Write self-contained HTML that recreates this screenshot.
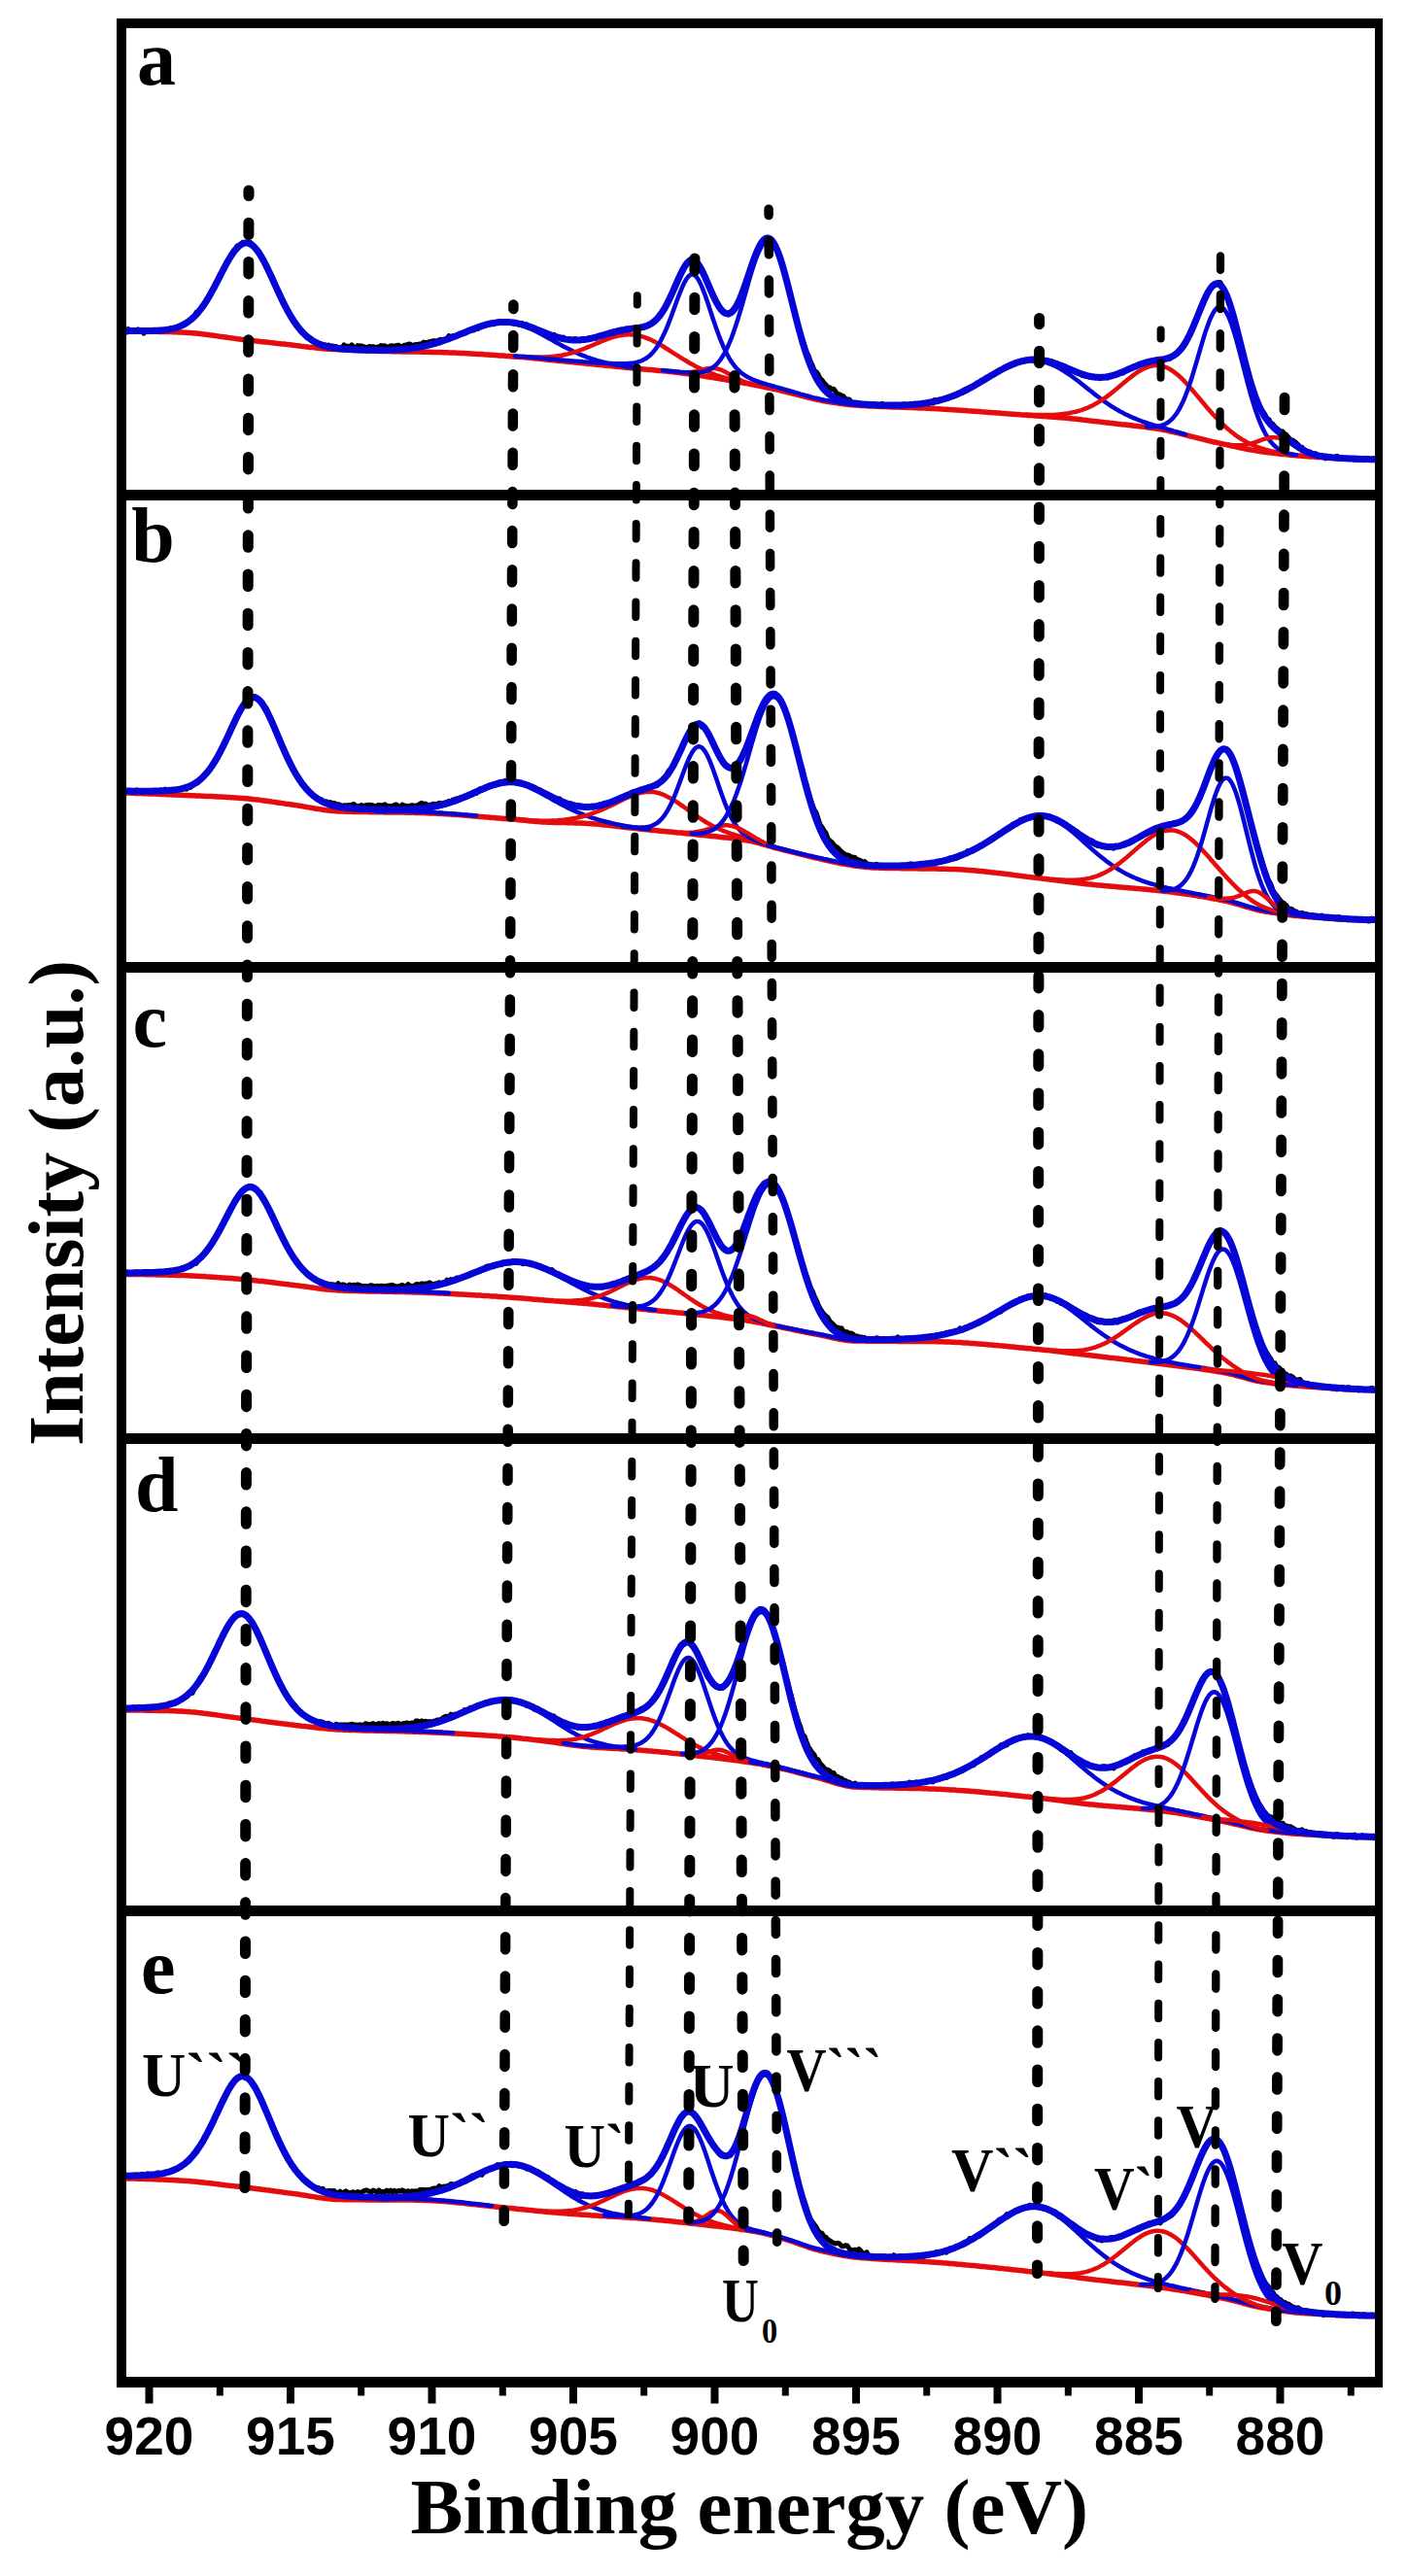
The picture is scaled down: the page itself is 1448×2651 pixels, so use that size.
<!DOCTYPE html><html><head><meta charset="utf-8"><style>html,body{margin:0;padding:0;background:#fff;overflow:hidden}svg{display:block}</style></head><body><svg width="1448" height="2651" viewBox="0 0 1448 2651">
<rect width="100%" height="100%" fill="#fff"/>
<defs><clipPath id="pc"><rect x="125" y="24" width="1294" height="2428"/></clipPath></defs>
<g clip-path="url(#pc)">
<polyline points="130.0,342.2 132.0,338.5 134.0,340.9 136.0,340.1 138.0,340.2 140.0,340.4 142.0,338.9 144.0,340.3 146.0,339.8 148.0,343.2 150.0,340.7 152.0,340.2 154.0,340.2 156.0,339.8 158.0,339.5 160.0,339.9 162.0,340.5 164.0,339.8 166.0,340.7 168.0,339.5 170.0,339.5 172.0,340.5 174.0,339.3 176.0,338.1 178.0,337.9 180.0,338.0 182.0,338.5 184.0,336.0 186.0,335.2 188.0,335.3 190.0,332.7 192.0,332.0 194.0,331.5 196.0,329.8 198.0,327.7 200.0,326.3 202.0,321.4 204.0,322.2 206.0,318.2 208.0,314.9 210.0,313.6 212.0,310.9 214.0,306.8 216.0,302.8 218.0,300.2 220.0,296.4 222.0,293.8 224.0,289.4 226.0,285.1 228.0,281.9 230.0,277.0 232.0,272.6 234.0,270.2 236.0,266.7 238.0,262.9 240.0,259.4 242.0,257.6 244.0,253.1 246.0,253.7 248.0,252.1 250.0,249.3 252.0,250.1 254.0,249.2 256.0,251.0 258.0,249.7 260.0,251.9 262.0,255.1 264.0,257.7 266.0,257.8 268.0,262.2 270.0,266.2 272.0,269.2 274.0,274.8 276.0,276.7 278.0,282.2 280.0,285.4 282.0,291.8 284.0,295.1 286.0,299.2 288.0,302.4 290.0,309.3 292.0,312.7 294.0,316.6 296.0,320.7 298.0,323.6 300.0,326.2 302.0,329.2 304.0,332.2 306.0,336.7 308.0,337.0 310.0,340.0 312.0,342.4 314.0,344.8 316.0,346.8 318.0,347.0 320.0,348.1 322.0,350.6 324.0,352.6 326.0,353.1 328.0,353.4 330.0,353.6 332.0,354.7 334.0,354.7 336.0,355.9 338.0,355.0 340.0,356.0 342.0,356.0 344.0,356.6 346.0,356.5 348.0,358.5 350.0,357.7 352.0,357.8 354.0,355.0 356.0,356.4 358.0,356.2 360.0,357.1 362.0,354.8 364.0,357.6 366.0,357.5 368.0,355.6 370.0,355.9 372.0,356.0 374.0,356.6 376.0,357.1 378.0,358.2 380.0,356.4 382.0,357.1 384.0,356.6 386.0,357.9 388.0,357.1 390.0,357.5 392.0,355.5 394.0,356.2 396.0,355.7 398.0,357.5 400.0,356.8 402.0,355.9 404.0,355.8 406.0,356.4 408.0,355.4 410.0,355.1 412.0,356.2 414.0,357.6 416.0,355.3 418.0,354.9 420.0,354.3 422.0,354.0 424.0,355.3 426.0,355.3 428.0,354.4 430.0,354.4 432.0,354.0 434.0,353.7 436.0,352.1 438.0,352.6 440.0,352.7 442.0,351.6 444.0,351.4 446.0,350.7 448.0,350.7 450.0,351.2 452.0,349.6 454.0,349.3 456.0,349.6 458.0,348.9 460.0,349.1 462.0,345.5 464.0,347.3 466.0,345.6 468.0,345.4 470.0,345.3 472.0,344.9 474.0,344.2 476.0,342.8 478.0,343.3 480.0,341.1 482.0,340.4 484.0,340.4 486.0,338.5 488.0,339.9 490.0,338.3 492.0,338.5 494.0,336.0 496.0,335.1 498.0,334.9 500.0,334.8 502.0,333.2 504.0,333.5 506.0,332.8 508.0,333.7 510.0,331.5 512.0,332.6 514.0,331.1 516.0,330.7 518.0,330.8 520.0,330.4 522.0,331.6 524.0,332.4 526.0,331.9 528.0,332.5 530.0,333.6 532.0,332.9 534.0,333.2 536.0,333.3 538.0,332.8 540.0,335.2 542.0,333.8 544.0,336.4 546.0,336.6 548.0,338.2 550.0,338.0 552.0,338.2 554.0,340.0 556.0,340.1 558.0,341.2 560.0,342.2 562.0,342.8 564.0,343.6 566.0,343.8 568.0,345.1 570.0,344.2 572.0,346.4 574.0,346.2 576.0,348.6 578.0,349.2 580.0,347.1 582.0,349.2 584.0,349.3 586.0,348.8 588.0,350.3 590.0,349.6 592.0,348.6 594.0,349.8 596.0,349.8 598.0,349.9 600.0,348.6 602.0,349.9 604.0,349.6 606.0,347.8 608.0,347.7 610.0,347.8 612.0,346.9 614.0,348.2 616.0,346.4 618.0,344.8 620.0,344.4 622.0,344.4 624.0,345.7 626.0,343.1 628.0,342.8 630.0,342.6 632.0,341.6 634.0,342.9 636.0,340.2 638.0,340.8 640.0,339.9 642.0,339.9 644.0,338.2 646.0,340.3 648.0,338.5 650.0,338.4 652.0,337.3 654.0,337.3 656.0,338.0 658.0,338.1 660.0,337.5 662.0,337.4 664.0,336.5 666.0,335.2 668.0,334.9 670.0,333.6 672.0,331.7 674.0,330.8 676.0,329.3 678.0,326.2 680.0,323.1 682.0,321.1 684.0,318.7 686.0,313.4 688.0,309.6 690.0,305.4 692.0,302.1 694.0,295.2 696.0,292.3 698.0,288.4 700.0,282.5 702.0,280.2 704.0,275.7 706.0,271.8 708.0,270.0 710.0,267.0 712.0,267.1 714.0,269.3 716.0,268.4 718.0,272.7 720.0,274.0 722.0,278.4 724.0,281.7 726.0,284.3 728.0,290.2 730.0,295.5 732.0,299.0 734.0,303.3 736.0,308.8 738.0,311.8 740.0,314.3 742.0,317.9 744.0,321.3 746.0,321.7 748.0,323.6 750.0,324.0 752.0,321.9 754.0,319.4 756.0,316.8 758.0,314.6 760.0,311.4 762.0,306.4 764.0,301.5 766.0,295.3 768.0,290.1 770.0,283.5 772.0,277.7 774.0,271.0 776.0,265.2 778.0,260.8 780.0,255.7 782.0,251.7 784.0,249.8 786.0,246.8 788.0,247.7 790.0,245.7 792.0,245.0 794.0,247.7 796.0,250.0 798.0,252.8 800.0,258.7 802.0,262.5 804.0,266.7 806.0,276.4 808.0,282.5 810.0,291.7 812.0,297.9 814.0,305.4 816.0,315.7 818.0,321.6 820.0,330.4 822.0,338.3 824.0,343.8 826.0,350.0 828.0,356.0 830.0,362.1 832.0,365.9 834.0,371.7 836.0,375.9 838.0,381.2 840.0,382.6 842.0,385.3 844.0,389.5 846.0,391.1 848.0,393.9 850.0,395.9 852.0,398.5 854.0,398.8 856.0,400.8 858.0,400.3 860.0,403.0 862.0,406.3 864.0,405.8 866.0,407.0 868.0,407.7 870.0,410.3 872.0,411.1 874.0,411.1 876.0,413.6 878.0,414.3 880.0,415.7 882.0,414.8 884.0,416.9 886.0,416.1 888.0,415.8 890.0,415.6 892.0,416.0 894.0,417.0 896.0,416.2 898.0,417.4 900.0,417.1 902.0,417.8 904.0,417.5 906.0,416.8 908.0,415.4 910.0,417.2 912.0,417.6 914.0,417.2 916.0,417.5 918.0,416.7 920.0,416.8 922.0,416.3 924.0,418.1 926.0,417.1 928.0,416.5 930.0,415.8 932.0,416.6 934.0,417.8 936.0,416.9 938.0,415.8 940.0,417.4 942.0,417.2 944.0,416.7 946.0,416.3 948.0,416.4 950.0,415.6 952.0,415.5 954.0,414.0 956.0,415.5 958.0,414.1 960.0,415.1 962.0,411.5 964.0,413.2 966.0,413.0 968.0,411.4 970.0,411.5 972.0,411.1 974.0,410.3 976.0,408.8 978.0,408.4 980.0,408.6 982.0,408.0 984.0,406.2 986.0,405.4 988.0,404.6 990.0,404.3 992.0,401.7 994.0,400.5 996.0,400.6 998.0,398.6 1000.0,397.9 1002.0,397.3 1004.0,396.5 1006.0,394.1 1008.0,394.4 1010.0,391.2 1012.0,391.8 1014.0,388.9 1016.0,387.9 1018.0,388.3 1020.0,386.2 1022.0,384.7 1024.0,383.8 1026.0,383.4 1028.0,381.8 1030.0,380.7 1032.0,380.5 1034.0,378.1 1036.0,377.3 1038.0,376.3 1040.0,376.7 1042.0,375.7 1044.0,375.2 1046.0,373.4 1048.0,372.6 1050.0,372.8 1052.0,371.3 1054.0,371.8 1056.0,371.4 1058.0,369.9 1060.0,370.2 1062.0,370.0 1064.0,371.4 1066.0,372.1 1068.0,370.1 1070.0,370.3 1072.0,368.7 1074.0,371.0 1076.0,371.2 1078.0,370.8 1080.0,372.8 1082.0,371.5 1084.0,373.2 1086.0,374.2 1088.0,373.8 1090.0,376.2 1092.0,377.1 1094.0,376.0 1096.0,376.8 1098.0,379.3 1100.0,379.6 1102.0,379.5 1104.0,381.1 1106.0,382.1 1108.0,382.8 1110.0,384.4 1112.0,384.8 1114.0,386.6 1116.0,386.9 1118.0,386.9 1120.0,387.8 1122.0,388.4 1124.0,388.3 1126.0,387.0 1128.0,388.9 1130.0,388.4 1132.0,389.7 1134.0,388.4 1136.0,388.6 1138.0,388.2 1140.0,389.0 1142.0,387.4 1144.0,386.5 1146.0,386.5 1148.0,385.2 1150.0,385.0 1152.0,384.1 1154.0,383.5 1156.0,384.0 1158.0,381.3 1160.0,380.8 1162.0,379.7 1164.0,379.5 1166.0,377.1 1168.0,376.6 1170.0,376.3 1172.0,376.0 1174.0,374.8 1176.0,373.7 1178.0,372.8 1180.0,373.3 1182.0,373.5 1184.0,372.2 1186.0,371.7 1188.0,371.5 1190.0,370.1 1192.0,370.3 1194.0,370.0 1196.0,370.2 1198.0,369.6 1200.0,368.2 1202.0,369.5 1204.0,369.3 1206.0,366.8 1208.0,366.2 1210.0,364.7 1212.0,363.5 1214.0,359.6 1216.0,359.7 1218.0,355.2 1220.0,353.5 1222.0,349.0 1224.0,344.7 1226.0,340.6 1228.0,336.9 1230.0,330.7 1232.0,326.2 1234.0,321.1 1236.0,315.2 1238.0,312.8 1240.0,307.7 1242.0,303.1 1244.0,300.4 1246.0,295.6 1248.0,294.0 1250.0,293.9 1252.0,292.6 1254.0,290.4 1256.0,290.8 1258.0,294.9 1260.0,299.8 1262.0,302.7 1264.0,308.0 1266.0,314.5 1268.0,319.8 1270.0,327.7 1272.0,335.7 1274.0,343.3 1276.0,351.3 1278.0,358.6 1280.0,367.5 1282.0,374.6 1284.0,383.5 1286.0,391.7 1288.0,395.8 1290.0,400.9 1292.0,407.7 1294.0,413.2 1296.0,418.2 1298.0,422.1 1300.0,424.0 1302.0,427.0 1304.0,431.2 1306.0,431.7 1308.0,435.6 1310.0,436.4 1312.0,439.0 1314.0,440.6 1316.0,442.3 1318.0,444.0 1320.0,444.1 1322.0,446.8 1324.0,448.2 1326.0,450.1 1328.0,452.5 1330.0,452.9 1332.0,454.2 1334.0,455.8 1336.0,457.7 1338.0,460.1 1340.0,460.3 1342.0,463.3 1344.0,463.9 1346.0,464.7 1348.0,464.9 1350.0,467.2 1352.0,468.2 1354.0,466.8 1356.0,469.6 1358.0,470.4 1360.0,469.7 1362.0,470.2 1364.0,472.0 1366.0,471.3 1368.0,469.8 1370.0,470.7 1372.0,470.8 1374.0,470.9 1376.0,469.3 1378.0,471.9 1380.0,470.9 1382.0,471.7 1384.0,471.6 1386.0,472.5 1388.0,471.6 1390.0,471.3 1392.0,472.5 1394.0,473.3 1396.0,472.0 1398.0,473.4 1400.0,472.6 1402.0,472.0 1404.0,473.7 1406.0,471.9 1408.0,473.4 1410.0,472.3 1412.0,473.1 1414.0,471.8 1416.0,472.1" fill="none" stroke="#000" stroke-width="5" stroke-linejoin="round" stroke-linecap="round" />
<polyline points="130.0,341.0 132.0,341.0 134.0,341.0 136.0,341.0 138.0,341.0 140.0,341.0 142.0,341.1 144.0,341.1 146.0,341.1 148.0,341.1 150.0,341.2 152.0,341.2 154.0,341.2 156.0,341.2 158.0,341.3 160.0,341.3 162.0,341.3 164.0,341.4 166.0,341.4 168.0,341.5 170.0,341.5 172.0,341.5 174.0,341.6 176.0,341.6 178.0,341.7 180.0,341.8 182.0,341.8 184.0,341.9 186.0,342.0 188.0,342.1 190.0,342.2 192.0,342.3 194.0,342.4 196.0,342.6 198.0,342.7 200.0,342.9 202.0,343.1 204.0,343.3 206.0,343.5 208.0,343.8 210.0,344.0 212.0,344.2 214.0,344.5 216.0,344.8 218.0,345.0 220.0,345.3 222.0,345.6 224.0,345.9 226.0,346.2 228.0,346.4 230.0,346.7 232.0,347.0 234.0,347.3 236.0,347.6 238.0,347.9 240.0,348.1 242.0,348.4 244.0,348.7 246.0,348.9 248.0,349.2 250.0,349.4 252.0,349.6 254.0,349.9 256.0,350.1 258.0,350.3 260.0,350.5 262.0,350.8 264.0,351.0 266.0,351.2 268.0,351.5 270.0,351.7 272.0,351.9 274.0,352.1 276.0,352.3 278.0,352.6 280.0,352.8 282.0,353.0 284.0,353.2 286.0,353.5 288.0,353.7 290.0,353.9 292.0,354.1 294.0,354.3 296.0,354.6 298.0,354.8 300.0,355.0 302.0,355.2 304.0,355.5 306.0,355.7 308.0,355.9 310.0,356.2 312.0,356.4 314.0,356.7 316.0,356.9 318.0,357.2 320.0,357.4 322.0,357.6 324.0,357.9 326.0,358.1 328.0,358.3 330.0,358.5 332.0,358.7 334.0,358.9 336.0,359.0 338.0,359.2 340.0,359.3 342.0,359.4 344.0,359.5 346.0,359.6 348.0,359.7 350.0,359.8 352.0,359.9 354.0,360.0 356.0,360.1 358.0,360.2 360.0,360.3 362.0,360.4 364.0,360.5 366.0,360.6 368.0,360.6 370.0,360.7 372.0,360.8 374.0,360.8 376.0,360.9 378.0,361.0 380.0,361.0 382.0,361.1 384.0,361.2 386.0,361.2 388.0,361.3 390.0,361.3 392.0,361.4 394.0,361.4 396.0,361.5 398.0,361.6 400.0,361.6 402.0,361.6 404.0,361.7 406.0,361.7 408.0,361.8 410.0,361.8 412.0,361.8 414.0,361.9 416.0,361.9 418.0,361.9 420.0,362.0 422.0,362.0 424.0,362.0 426.0,362.1 428.0,362.1 430.0,362.1 432.0,362.1 434.0,362.2 436.0,362.2 438.0,362.2 440.0,362.3 442.0,362.3 444.0,362.4 446.0,362.4 448.0,362.4 450.0,362.5 452.0,362.6 454.0,362.6 456.0,362.7 458.0,362.7 460.0,362.8 462.0,362.9 464.0,363.0 466.0,363.0 468.0,363.1 470.0,363.2 472.0,363.3 474.0,363.4 476.0,363.5 478.0,363.6 480.0,363.7 482.0,363.8 484.0,363.9 486.0,364.0 488.0,364.2 490.0,364.3 492.0,364.4 494.0,364.5 496.0,364.6 498.0,364.8 500.0,364.9 502.0,365.0 504.0,365.2 506.0,365.3 508.0,365.4 510.0,365.6 512.0,365.7 514.0,365.9 516.0,366.0 518.0,366.1 520.0,366.3 522.0,366.4 524.0,366.6 526.0,366.7 528.0,366.9 530.0,367.0 532.0,367.2 534.0,367.3 536.0,367.5 538.0,367.6 540.0,367.8 542.0,368.0 544.0,368.1 546.0,368.3 548.0,368.5 550.0,368.7 552.0,368.9 554.0,369.1 556.0,369.3 558.0,369.5 560.0,369.7 562.0,369.9 564.0,370.2 566.0,370.4 568.0,370.6 570.0,370.8 572.0,371.0 574.0,371.2 576.0,371.4 578.0,371.6 580.0,371.8 582.0,372.0 584.0,372.2 586.0,372.4 588.0,372.6 590.0,372.8 592.0,373.0 594.0,373.2 596.0,373.4 598.0,373.6 600.0,373.8 602.0,374.0 604.0,374.2 606.0,374.4 608.0,374.6 610.0,374.8 612.0,375.0 614.0,375.2 616.0,375.4 618.0,375.6 620.0,375.8 622.0,376.0 624.0,376.2 626.0,376.4 628.0,376.6 630.0,376.8 632.0,377.0 634.0,377.2 636.0,377.4 638.0,377.6 640.0,377.8 642.0,378.0 644.0,378.2 646.0,378.4 648.0,378.6 650.0,378.8 652.0,379.0 654.0,379.1 656.0,379.3 658.0,379.5 660.0,379.7 662.0,379.9 664.0,380.1 666.0,380.2 668.0,380.4 670.0,380.6 672.0,380.8 674.0,381.0 676.0,381.2 678.0,381.4 680.0,381.5 682.0,381.7 684.0,381.9 686.0,382.1 688.0,382.4 690.0,382.6 692.0,382.8 694.0,383.0 696.0,383.2 698.0,383.5 700.0,383.7 702.0,383.9 704.0,384.2 706.0,384.5 708.0,384.7 710.0,385.0 712.0,385.3 714.0,385.5 716.0,385.8 718.0,386.1 720.0,386.4 722.0,386.7 724.0,387.0 726.0,387.3 728.0,387.7 730.0,388.0 732.0,388.3 734.0,388.6 736.0,389.0 738.0,389.3 740.0,389.6 742.0,390.0 744.0,390.3 746.0,390.6 748.0,391.0 750.0,391.3 752.0,391.7 754.0,392.0 756.0,392.4 758.0,392.7 760.0,393.1 762.0,393.5 764.0,393.8 766.0,394.2 768.0,394.6 770.0,394.9 772.0,395.3 774.0,395.7 776.0,396.1 778.0,396.5 780.0,396.9 782.0,397.3 784.0,397.7 786.0,398.1 788.0,398.5 790.0,399.0 792.0,399.4 794.0,399.8 796.0,400.2 798.0,400.7 800.0,401.1 802.0,401.5 804.0,402.0 806.0,402.5 808.0,403.0 810.0,403.5 812.0,404.0 814.0,404.5 816.0,405.0 818.0,405.5 820.0,406.0 822.0,406.6 824.0,407.1 826.0,407.6 828.0,408.1 830.0,408.6 832.0,409.2 834.0,409.6 836.0,410.1 838.0,410.6 840.0,411.0 842.0,411.5 844.0,411.9 846.0,412.3 848.0,412.7 850.0,413.0 852.0,413.3 854.0,413.7 856.0,414.0 858.0,414.3 860.0,414.6 862.0,414.9 864.0,415.2 866.0,415.5 868.0,415.8 870.0,416.0 872.0,416.3 874.0,416.5 876.0,416.7 878.0,416.8 880.0,417.0 882.0,417.1 884.0,417.3 886.0,417.4 888.0,417.5 890.0,417.6 892.0,417.7 894.0,417.9 896.0,418.0 898.0,418.1 900.0,418.1 902.0,418.2 904.0,418.3 906.0,418.4 908.0,418.5 910.0,418.6 912.0,418.6 914.0,418.7 916.0,418.8 918.0,418.9 920.0,418.9 922.0,419.0 924.0,419.1 926.0,419.1 928.0,419.2 930.0,419.3 932.0,419.3 934.0,419.4 936.0,419.5 938.0,419.5 940.0,419.6 942.0,419.7 944.0,419.8 946.0,419.9 948.0,419.9 950.0,420.0 952.0,420.1 954.0,420.2 956.0,420.3 958.0,420.4 960.0,420.5 962.0,420.6 964.0,420.7 966.0,420.8 968.0,420.9 970.0,421.1 972.0,421.2 974.0,421.3 976.0,421.4 978.0,421.6 980.0,421.7 982.0,421.8 984.0,421.9 986.0,422.1 988.0,422.2 990.0,422.3 992.0,422.5 994.0,422.6 996.0,422.8 998.0,422.9 1000.0,423.0 1002.0,423.2 1004.0,423.3 1006.0,423.5 1008.0,423.6 1010.0,423.8 1012.0,423.9 1014.0,424.1 1016.0,424.2 1018.0,424.4 1020.0,424.5 1022.0,424.7 1024.0,424.8 1026.0,425.0 1028.0,425.1 1030.0,425.3 1032.0,425.4 1034.0,425.6 1036.0,425.7 1038.0,425.9 1040.0,426.0 1042.0,426.2 1044.0,426.3 1046.0,426.5 1048.0,426.6 1050.0,426.8 1052.0,426.9 1054.0,427.1 1056.0,427.2 1058.0,427.4 1060.0,427.5 1062.0,427.6 1064.0,427.8 1066.0,427.9 1068.0,428.1 1070.0,428.2 1072.0,428.3 1074.0,428.5 1076.0,428.6 1078.0,428.8 1080.0,428.9 1082.0,429.1 1084.0,429.2 1086.0,429.3 1088.0,429.5 1090.0,429.7 1092.0,429.8 1094.0,430.0 1096.0,430.1 1098.0,430.3 1100.0,430.5 1102.0,430.7 1104.0,430.9 1106.0,431.1 1108.0,431.3 1110.0,431.5 1112.0,431.7 1114.0,432.0 1116.0,432.2 1118.0,432.4 1120.0,432.7 1122.0,432.9 1124.0,433.2 1126.0,433.4 1128.0,433.6 1130.0,433.9 1132.0,434.1 1134.0,434.4 1136.0,434.6 1138.0,434.9 1140.0,435.1 1142.0,435.3 1144.0,435.6 1146.0,435.8 1148.0,436.0 1150.0,436.2 1152.0,436.4 1154.0,436.7 1156.0,436.9 1158.0,437.1 1160.0,437.3 1162.0,437.5 1164.0,437.7 1166.0,438.0 1168.0,438.2 1170.0,438.4 1172.0,438.7 1174.0,438.9 1176.0,439.1 1178.0,439.4 1180.0,439.7 1182.0,439.9 1184.0,440.2 1186.0,440.5 1188.0,440.8 1190.0,441.1 1192.0,441.4 1194.0,441.8 1196.0,442.1 1198.0,442.5 1200.0,442.9 1202.0,443.3 1204.0,443.8 1206.0,444.2 1208.0,444.7 1210.0,445.1 1212.0,445.6 1214.0,446.1 1216.0,446.6 1218.0,447.1 1220.0,447.6 1222.0,448.1 1224.0,448.6 1226.0,449.2 1228.0,449.7 1230.0,450.2 1232.0,450.7 1234.0,451.2 1236.0,451.7 1238.0,452.2 1240.0,452.7 1242.0,453.2 1244.0,453.7 1246.0,454.1 1248.0,454.6 1250.0,455.0 1252.0,455.4 1254.0,455.9 1256.0,456.3 1258.0,456.8 1260.0,457.2 1262.0,457.6 1264.0,458.1 1266.0,458.5 1268.0,459.0 1270.0,459.4 1272.0,459.9 1274.0,460.3 1276.0,460.7 1278.0,461.1 1280.0,461.5 1282.0,462.0 1284.0,462.3 1286.0,462.7 1288.0,463.1 1290.0,463.4 1292.0,463.8 1294.0,464.1 1296.0,464.4 1298.0,464.7 1300.0,465.0 1302.0,465.3 1304.0,465.5 1306.0,465.8 1308.0,466.0 1310.0,466.3 1312.0,466.5 1314.0,466.7 1316.0,467.0 1318.0,467.2 1320.0,467.4 1322.0,467.6 1324.0,467.8 1326.0,468.0 1328.0,468.2 1330.0,468.4 1332.0,468.6 1334.0,468.8 1336.0,469.0 1338.0,469.1 1340.0,469.3 1342.0,469.4 1344.0,469.6 1346.0,469.7 1348.0,469.9 1350.0,470.0 1352.0,470.1 1354.0,470.3 1356.0,470.4 1358.0,470.5 1360.0,470.6 1362.0,470.7 1364.0,470.9 1366.0,471.0 1368.0,471.1 1370.0,471.2 1372.0,471.3 1374.0,471.4 1376.0,471.5 1378.0,471.7 1380.0,471.8 1382.0,471.9 1384.0,472.0 1386.0,472.0 1388.0,472.1 1390.0,472.2 1392.0,472.3 1394.0,472.4 1396.0,472.5 1398.0,472.5 1400.0,472.6 1402.0,472.7 1404.0,472.7 1406.0,472.8 1408.0,472.8 1410.0,472.9 1412.0,472.9 1414.0,473.0 1416.0,473.0" fill="none" stroke="#e40c0c" stroke-width="5.5" stroke-linejoin="round" stroke-linecap="round" />
<polyline points="150.0,340.6 152.0,340.5 154.0,340.5 156.0,340.5 158.0,340.4 160.0,340.3 162.0,340.2 164.0,340.1 166.0,340.0 168.0,339.8 170.0,339.6 172.0,339.3 174.0,339.0 176.0,338.6 178.0,338.2 180.0,337.7 182.0,337.1 184.0,336.4 186.0,335.5 188.0,334.6 190.0,333.5 192.0,332.3 194.0,330.9 196.0,329.4 198.0,327.7 200.0,325.8 202.0,323.8 204.0,321.5 206.0,319.0 208.0,316.4 210.0,313.5 212.0,310.5 214.0,307.2 216.0,303.8 218.0,300.3 220.0,296.6 222.0,292.8 224.0,288.9 226.0,285.0 228.0,281.1 230.0,277.3 232.0,273.5 234.0,269.9 236.0,266.4 238.0,263.1 240.0,260.2 242.0,257.5 244.0,255.2 246.0,253.3 248.0,251.8 250.0,250.7 252.0,250.2 254.0,250.1 256.0,250.5 258.0,251.4 260.0,252.8 262.0,254.7 264.0,257.0 266.0,259.7 268.0,262.7 270.0,266.1 272.0,269.8 274.0,273.7 276.0,277.8 278.0,282.1 280.0,286.4 282.0,290.8 284.0,295.2 286.0,299.6 288.0,303.9 290.0,308.1 292.0,312.2 294.0,316.2 296.0,319.9 298.0,323.5 300.0,326.9 302.0,330.0 304.0,333.0 306.0,335.8 308.0,338.3 310.0,340.7 312.0,342.8 314.0,344.8 316.0,346.6 318.0,348.2 320.0,349.6 322.0,350.9 324.0,352.1 326.0,353.1 328.0,354.0 330.0,354.8 332.0,355.6 334.0,356.2 336.0,356.7 338.0,357.2 340.0,357.6 342.0,357.9 344.0,358.2 346.0,358.5 348.0,358.7 350.0,358.9 352.0,359.1 354.0,359.3 356.0,359.5 358.0,359.6 360.0,359.8" fill="none" stroke="#0606d6" stroke-width="4.5" stroke-linejoin="round" stroke-linecap="round" />
<polyline points="394.0,360.9 396.0,360.8 398.0,360.8 400.0,360.8 402.0,360.7 404.0,360.6 406.0,360.5 408.0,360.4 410.0,360.3 412.0,360.2 414.0,360.0 416.0,359.8 418.0,359.6 420.0,359.4 422.0,359.2 424.0,358.9 426.0,358.6 428.0,358.3 430.0,358.0 432.0,357.6 434.0,357.2 436.0,356.8 438.0,356.4 440.0,355.9 442.0,355.4 444.0,354.9 446.0,354.4 448.0,353.8 450.0,353.2 452.0,352.6 454.0,351.9 456.0,351.3 458.0,350.6 460.0,349.8 462.0,349.1 464.0,348.3 466.0,347.6 468.0,346.8 470.0,346.0 472.0,345.2 474.0,344.4 476.0,343.6 478.0,342.7 480.0,341.9 482.0,341.1 484.0,340.3 486.0,339.6 488.0,338.8 490.0,338.1 492.0,337.3 494.0,336.7 496.0,336.0 498.0,335.4 500.0,334.9 502.0,334.3 504.0,333.9 506.0,333.5 508.0,333.1 510.0,332.8 512.0,332.6 514.0,332.4 516.0,332.3 518.0,332.2 520.0,332.2 522.0,332.3 524.0,332.5 526.0,332.7 528.0,333.0 530.0,333.4 532.0,333.8 534.0,334.3 536.0,334.8 538.0,335.4 540.0,336.1 542.0,336.8 544.0,337.6 546.0,338.4 548.0,339.3 550.0,340.3 552.0,341.2 554.0,342.2 556.0,343.3 558.0,344.4 560.0,345.5 562.0,346.6 564.0,347.7 566.0,348.8 568.0,349.9 570.0,351.1 572.0,352.2 574.0,353.3 576.0,354.4 578.0,355.5 580.0,356.5 582.0,357.6 584.0,358.6 586.0,359.6 588.0,360.6 590.0,361.6 592.0,362.5 594.0,363.4 596.0,364.3 598.0,365.1 600.0,365.9 602.0,366.7 604.0,367.5 606.0,368.2 608.0,368.9 610.0,369.5 612.0,370.2 614.0,370.8 616.0,371.4 618.0,371.9 620.0,372.5 622.0,373.0 624.0,373.5 626.0,373.9 628.0,374.4 630.0,374.8 632.0,375.2 634.0,375.6 636.0,375.9 638.0,376.3 640.0,376.6 642.0,377.0 644.0,377.3 646.0,377.6 648.0,377.9 650.0,378.1 652.0,378.4" fill="none" stroke="#0606d6" stroke-width="4.5" stroke-linejoin="round" stroke-linecap="round" />
<polyline points="538.0,367.1 540.0,367.2 542.0,367.3 544.0,367.3 546.0,367.4 548.0,367.4 550.0,367.5 552.0,367.5 554.0,367.5 556.0,367.5 558.0,367.5 560.0,367.5 562.0,367.4 564.0,367.3 566.0,367.2 568.0,367.0 570.0,366.8 572.0,366.6 574.0,366.3 576.0,366.0 578.0,365.7 580.0,365.3 582.0,364.8 584.0,364.4 586.0,363.9 588.0,363.3 590.0,362.7 592.0,362.1 594.0,361.5 596.0,360.8 598.0,360.0 600.0,359.3 602.0,358.5 604.0,357.7 606.0,356.9 608.0,356.0 610.0,355.2 612.0,354.3 614.0,353.4 616.0,352.6 618.0,351.7 620.0,350.9 622.0,350.1 624.0,349.3 626.0,348.6 628.0,347.9 630.0,347.2 632.0,346.6 634.0,346.1 636.0,345.6 638.0,345.2 640.0,344.9 642.0,344.6 644.0,344.4 646.0,344.3 648.0,344.3 650.0,344.4 652.0,344.6 654.0,344.8 656.0,345.2 658.0,345.6 660.0,346.1 662.0,346.7 664.0,347.4 666.0,348.1 668.0,348.9 670.0,349.8 672.0,350.8 674.0,351.8 676.0,352.9 678.0,354.0 680.0,355.1 682.0,356.3 684.0,357.5 686.0,358.8 688.0,360.0 690.0,361.3 692.0,362.6 694.0,363.9 696.0,365.1 698.0,366.4 700.0,367.7 702.0,368.9 704.0,370.1 706.0,371.3 708.0,372.5 710.0,373.7 712.0,374.8 714.0,375.9 716.0,376.9 718.0,377.9 720.0,378.9 722.0,379.9 724.0,380.8 726.0,381.7 728.0,382.5 730.0,383.3 732.0,384.1 734.0,384.8 736.0,385.6 738.0,386.3 740.0,386.9 742.0,387.6 744.0,388.2 746.0,388.8 748.0,389.3 750.0,389.9 752.0,390.4 754.0,390.9 756.0,391.4 758.0,391.9 760.0,392.3 762.0,392.8 764.0,393.3" fill="none" stroke="#e40c0c" stroke-width="4.5" stroke-linejoin="round" stroke-linecap="round" />
<polyline points="530.0,366.4 532.0,366.6 534.0,366.7 536.0,366.9 538.0,367.0 540.0,367.1 542.0,367.3 544.0,367.4 546.0,367.6 548.0,367.8 550.0,367.9 552.0,368.1 554.0,368.3 556.0,368.5 558.0,368.7 560.0,368.9 562.0,369.1 564.0,369.3 566.0,369.5 568.0,369.7 570.0,369.8 572.0,370.0 574.0,370.2 576.0,370.4 578.0,370.5 580.0,370.7 582.0,370.9 584.0,371.0 586.0,371.2 588.0,371.4 590.0,371.5 592.0,371.7 594.0,371.8 596.0,372.0 598.0,372.1 600.0,372.3 602.0,372.4 604.0,372.6 606.0,372.7 608.0,372.9 610.0,373.0 612.0,373.1 614.0,373.3 616.0,373.4 618.0,373.5 620.0,373.6 622.0,373.7 624.0,373.8 626.0,373.9 628.0,374.0 630.0,374.1 632.0,374.2 634.0,374.2 636.0,374.3 638.0,374.3 640.0,374.3 642.0,374.3 644.0,374.2 646.0,374.1 648.0,374.0 650.0,373.7 652.0,373.5 654.0,373.1 656.0,372.6 658.0,372.0 660.0,371.3 662.0,370.4 664.0,369.3 666.0,368.0 668.0,366.5 670.0,364.6 672.0,362.5 674.0,360.1 676.0,357.3 678.0,354.1 680.0,350.6 682.0,346.6 684.0,342.4 686.0,337.8 688.0,332.8 690.0,327.7 692.0,322.3 694.0,316.8 696.0,311.3 698.0,305.8 700.0,300.6 702.0,295.8 704.0,291.4 706.0,287.8 708.0,285.0 710.0,283.1 712.0,282.3 714.0,282.7 716.0,284.1 718.0,286.6 720.0,290.1 722.0,294.4 724.0,299.4 726.0,304.8 728.0,310.6 730.0,316.6 732.0,322.7 734.0,328.7 736.0,334.6 738.0,340.3 740.0,345.7 742.0,350.9 744.0,355.6 746.0,360.1 748.0,364.1 750.0,367.8 752.0,371.1 754.0,374.0 756.0,376.7 758.0,379.0 760.0,381.0 762.0,382.9 764.0,384.5 766.0,385.9 768.0,387.2 770.0,388.3 772.0,389.3 774.0,390.3 776.0,391.1 778.0,391.9 780.0,392.6 782.0,393.3 784.0,394.0 786.0,394.6 788.0,395.2 790.0,395.8 792.0,396.4 794.0,397.0 796.0,397.5 798.0,398.1 800.0,398.6 802.0,399.2 804.0,399.7 806.0,400.3 808.0,400.9 810.0,401.5 812.0,402.0 814.0,402.6 816.0,403.2 818.0,403.8 820.0,404.4 822.0,405.0 824.0,405.6 826.0,406.1 828.0,406.7 830.0,407.3 832.0,407.8 834.0,408.3 836.0,408.9 838.0,409.4 840.0,409.8 842.0,410.3 844.0,410.8 846.0,411.2 848.0,411.6 850.0,412.0 852.0,412.3 854.0,412.7 856.0,413.0 858.0,413.4 860.0,413.7 862.0,414.0 864.0,414.4 866.0,414.7 868.0,415.0 870.0,415.2 872.0,415.5 874.0,415.7 876.0,415.9 878.0,416.1 880.0,416.3 882.0,416.5 884.0,416.6 886.0,416.7 888.0,416.9 890.0,417.0 892.0,417.1 894.0,417.3" fill="none" stroke="#0606d6" stroke-width="4.5" stroke-linejoin="round" stroke-linecap="round" />
<polyline points="700.0,383.2 702.0,383.3 704.0,383.3 706.0,383.3 708.0,383.2 710.0,383.0 712.0,382.8 714.0,382.5 716.0,382.1 718.0,381.7 720.0,381.2 722.0,380.7 724.0,380.2 726.0,379.7 728.0,379.3 730.0,379.1 732.0,378.9 734.0,378.9 736.0,379.1 738.0,379.4 740.0,380.0 742.0,380.7 744.0,381.5 746.0,382.5 748.0,383.6 750.0,384.7 752.0,385.9 754.0,387.0 756.0,388.2 758.0,389.2 760.0,390.2 762.0,391.1 764.0,392.0 766.0,392.8 768.0,393.5 770.0,394.1 772.0,394.7" fill="none" stroke="#e40c0c" stroke-width="4.5" stroke-linejoin="round" stroke-linecap="round" />
<polyline points="682.0,381.1 684.0,381.3 686.0,381.5 688.0,381.7 690.0,381.9 692.0,382.0 694.0,382.2 696.0,382.4 698.0,382.6 700.0,382.8 702.0,382.9 704.0,383.1 706.0,383.2 708.0,383.3 710.0,383.4 712.0,383.5 714.0,383.5 716.0,383.5 718.0,383.4 720.0,383.2 722.0,382.9 724.0,382.5 726.0,382.0 728.0,381.3 730.0,380.4 732.0,379.2 734.0,377.9 736.0,376.2 738.0,374.3 740.0,372.0 742.0,369.3 744.0,366.2 746.0,362.8 748.0,358.9 750.0,354.5 752.0,349.7 754.0,344.5 756.0,338.8 758.0,332.8 760.0,326.4 762.0,319.8 764.0,312.9 766.0,305.9 768.0,298.8 770.0,291.7 772.0,284.9 774.0,278.2 776.0,272.0 778.0,266.3 780.0,261.2 782.0,256.8 784.0,253.2 786.0,250.5 788.0,248.9 790.0,248.2 792.0,248.6 794.0,250.0 796.0,252.5 798.0,256.0 800.0,260.3 802.0,265.5 804.0,271.5 806.0,278.0 808.0,285.1 810.0,292.6 812.0,300.4 814.0,308.3 816.0,316.3 818.0,324.2 820.0,332.0 822.0,339.5 824.0,346.8 826.0,353.7 828.0,360.3 830.0,366.4 832.0,372.1 834.0,377.3 836.0,382.0 838.0,386.3 840.0,390.2 842.0,393.7 844.0,396.7 846.0,399.4 848.0,401.8 850.0,403.9 852.0,405.6 854.0,407.2 856.0,408.6 858.0,409.8 860.0,410.8 862.0,411.7 864.0,412.5 866.0,413.1 868.0,413.7 870.0,414.2 872.0,414.7 874.0,415.1 876.0,415.4 878.0,415.7 880.0,416.0 882.0,416.2 884.0,416.4 886.0,416.6 888.0,416.7 890.0,416.9 892.0,417.0 894.0,417.2 896.0,417.3 898.0,417.4 900.0,417.6" fill="none" stroke="#0606d6" stroke-width="4.5" stroke-linejoin="round" stroke-linecap="round" />
<polyline points="912.0,418.1 914.0,418.1 916.0,418.1 918.0,418.1 920.0,418.1 922.0,418.0 924.0,418.0 926.0,417.9 928.0,417.8 930.0,417.8 932.0,417.7 934.0,417.5 936.0,417.4 938.0,417.3 940.0,417.1 942.0,416.9 944.0,416.7 946.0,416.5 948.0,416.2 950.0,416.0 952.0,415.7 954.0,415.4 956.0,415.0 958.0,414.6 960.0,414.2 962.0,413.8 964.0,413.4 966.0,412.9 968.0,412.3 970.0,411.8 972.0,411.2 974.0,410.5 976.0,409.9 978.0,409.1 980.0,408.4 982.0,407.6 984.0,406.8 986.0,405.9 988.0,405.0 990.0,404.1 992.0,403.1 994.0,402.1 996.0,401.1 998.0,400.0 1000.0,399.0 1002.0,397.8 1004.0,396.7 1006.0,395.5 1008.0,394.4 1010.0,393.2 1012.0,392.0 1014.0,390.8 1016.0,389.5 1018.0,388.3 1020.0,387.1 1022.0,385.9 1024.0,384.8 1026.0,383.6 1028.0,382.5 1030.0,381.4 1032.0,380.3 1034.0,379.3 1036.0,378.3 1038.0,377.3 1040.0,376.4 1042.0,375.6 1044.0,374.8 1046.0,374.1 1048.0,373.5 1050.0,372.9 1052.0,372.4 1054.0,372.0 1056.0,371.6 1058.0,371.4 1060.0,371.2 1062.0,371.1 1064.0,371.1 1066.0,371.2 1068.0,371.4 1070.0,371.7 1072.0,372.0 1074.0,372.5 1076.0,373.0 1078.0,373.6 1080.0,374.3 1082.0,375.0 1084.0,375.9 1086.0,376.8 1088.0,377.8 1090.0,378.9 1092.0,380.0 1094.0,381.2 1096.0,382.5 1098.0,383.8 1100.0,385.1 1102.0,386.5 1104.0,388.0 1106.0,389.5 1108.0,391.0 1110.0,392.5 1112.0,394.1 1114.0,395.7 1116.0,397.3 1118.0,398.9 1120.0,400.4 1122.0,402.0 1124.0,403.6 1126.0,405.2 1128.0,406.8 1130.0,408.3 1132.0,409.8 1134.0,411.3 1136.0,412.7 1138.0,414.1 1140.0,415.5 1142.0,416.9 1144.0,418.2 1146.0,419.4 1148.0,420.7 1150.0,421.8 1152.0,423.0 1154.0,424.1 1156.0,425.1 1158.0,426.2 1160.0,427.1 1162.0,428.1 1164.0,429.0 1166.0,429.9 1168.0,430.7 1170.0,431.5 1172.0,432.3 1174.0,433.0 1176.0,433.8 1178.0,434.5 1180.0,435.1 1182.0,435.8 1184.0,436.4 1186.0,437.1 1188.0,437.7 1190.0,438.3 1192.0,438.8 1194.0,439.4 1196.0,440.0 1198.0,440.6 1200.0,441.2 1202.0,441.8 1204.0,442.4 1206.0,443.0 1208.0,443.6 1210.0,444.1 1212.0,444.7 1214.0,445.3 1216.0,445.9 1218.0,446.5 1220.0,447.1" fill="none" stroke="#0606d6" stroke-width="4.5" stroke-linejoin="round" stroke-linecap="round" />
<polyline points="1056.0,426.6 1058.0,426.7 1060.0,426.8 1062.0,426.9 1064.0,427.0 1066.0,427.0 1068.0,427.1 1070.0,427.1 1072.0,427.1 1074.0,427.1 1076.0,427.1 1078.0,427.1 1080.0,427.1 1082.0,427.0 1084.0,426.9 1086.0,426.8 1088.0,426.7 1090.0,426.5 1092.0,426.3 1094.0,426.1 1096.0,425.8 1098.0,425.5 1100.0,425.2 1102.0,424.8 1104.0,424.4 1106.0,424.0 1108.0,423.5 1110.0,422.9 1112.0,422.3 1114.0,421.6 1116.0,420.9 1118.0,420.1 1120.0,419.3 1122.0,418.4 1124.0,417.4 1126.0,416.4 1128.0,415.3 1130.0,414.1 1132.0,412.9 1134.0,411.6 1136.0,410.3 1138.0,408.9 1140.0,407.4 1142.0,405.9 1144.0,404.3 1146.0,402.7 1148.0,401.1 1150.0,399.4 1152.0,397.8 1154.0,396.1 1156.0,394.4 1158.0,392.7 1160.0,391.1 1162.0,389.5 1164.0,387.9 1166.0,386.4 1168.0,384.9 1170.0,383.5 1172.0,382.2 1174.0,381.0 1176.0,380.0 1178.0,379.0 1180.0,378.1 1182.0,377.4 1184.0,376.8 1186.0,376.4 1188.0,376.1 1190.0,376.0 1192.0,376.1 1194.0,376.3 1196.0,376.7 1198.0,377.3 1200.0,378.0 1202.0,378.9 1204.0,380.0 1206.0,381.2 1208.0,382.6 1210.0,384.1 1212.0,385.8 1214.0,387.5 1216.0,389.4 1218.0,391.4 1220.0,393.5 1222.0,395.7 1224.0,397.9 1226.0,400.2 1228.0,402.5 1230.0,404.9 1232.0,407.2 1234.0,409.6 1236.0,412.0 1238.0,414.4 1240.0,416.8 1242.0,419.2 1244.0,421.5 1246.0,423.7 1248.0,426.0 1250.0,428.1 1252.0,430.2 1254.0,432.3 1256.0,434.3 1258.0,436.2 1260.0,438.1 1262.0,440.0 1264.0,441.7 1266.0,443.4 1268.0,445.0 1270.0,446.6 1272.0,448.1 1274.0,449.5 1276.0,450.8 1278.0,452.1 1280.0,453.3 1282.0,454.5 1284.0,455.5 1286.0,456.6 1288.0,457.5 1290.0,458.4 1292.0,459.2 1294.0,460.0 1296.0,460.7 1298.0,461.4 1300.0,462.0 1302.0,462.6 1304.0,463.1 1306.0,463.6 1308.0,464.1 1310.0,464.5 1312.0,464.9 1314.0,465.3 1316.0,465.7 1318.0,466.0 1320.0,466.4 1322.0,466.7 1324.0,467.0 1326.0,467.3 1328.0,467.5 1330.0,467.8 1332.0,468.0" fill="none" stroke="#e40c0c" stroke-width="4.5" stroke-linejoin="round" stroke-linecap="round" />
<polyline points="1180.0,439.1 1182.0,439.2 1184.0,439.2 1186.0,439.2 1188.0,439.1 1190.0,438.9 1192.0,438.6 1194.0,438.2 1196.0,437.6 1198.0,436.9 1200.0,435.9 1202.0,434.7 1204.0,433.2 1206.0,431.4 1208.0,429.2 1210.0,426.7 1212.0,423.7 1214.0,420.3 1216.0,416.4 1218.0,412.1 1220.0,407.3 1222.0,402.0 1224.0,396.3 1226.0,390.3 1228.0,383.9 1230.0,377.2 1232.0,370.4 1234.0,363.5 1236.0,356.6 1238.0,349.9 1240.0,343.4 1242.0,337.4 1244.0,331.9 1246.0,327.0 1248.0,322.9 1250.0,319.7 1252.0,317.3 1254.0,316.0 1256.0,315.8 1258.0,316.6 1260.0,318.5 1262.0,321.4 1264.0,325.2 1266.0,330.0 1268.0,335.6 1270.0,341.8 1272.0,348.6 1274.0,355.9 1276.0,363.4 1278.0,371.2 1280.0,379.0 1282.0,386.8 1284.0,394.4 1286.0,401.8 1288.0,408.8 1290.0,415.5 1292.0,421.8 1294.0,427.6 1296.0,432.9 1298.0,437.7 1300.0,442.0 1302.0,445.8 1304.0,449.2 1306.0,452.2 1308.0,454.9 1310.0,457.1 1312.0,459.1 1314.0,460.7 1316.0,462.2 1318.0,463.4 1320.0,464.4 1322.0,465.3 1324.0,466.0 1326.0,466.6 1328.0,467.2 1330.0,467.6 1332.0,468.0 1334.0,468.3" fill="none" stroke="#0606d6" stroke-width="4.5" stroke-linejoin="round" stroke-linecap="round" />
<polyline points="1262.0,457.2 1264.0,457.5 1266.0,457.8 1268.0,458.0 1270.0,458.2 1272.0,458.3 1274.0,458.3 1276.0,458.3 1278.0,458.2 1280.0,458.0 1282.0,457.7 1284.0,457.3 1286.0,456.9 1288.0,456.3 1290.0,455.7 1292.0,455.0 1294.0,454.3 1296.0,453.6 1298.0,452.9 1300.0,452.2 1302.0,451.6 1304.0,451.0 1306.0,450.6 1308.0,450.3 1310.0,450.2 1312.0,450.2 1314.0,450.4 1316.0,450.8 1318.0,451.4 1320.0,452.1 1322.0,452.9 1324.0,453.9 1326.0,455.0 1328.0,456.1 1330.0,457.3 1332.0,458.5 1334.0,459.7 1336.0,460.9 1338.0,462.1 1340.0,463.2 1342.0,464.2 1344.0,465.1 1346.0,466.0 1348.0,466.7 1350.0,467.4 1352.0,468.0 1354.0,468.6 1356.0,469.0 1358.0,469.4 1360.0,469.8 1362.0,470.1 1364.0,470.4" fill="none" stroke="#e40c0c" stroke-width="4.5" stroke-linejoin="round" stroke-linecap="round" />
<polyline points="130.0,340.6 132.0,340.6 134.0,340.6 136.0,340.5 138.0,340.5 140.0,340.5 142.0,340.5 144.0,340.5 146.0,340.5 148.0,340.5 150.0,340.5 152.0,340.5 154.0,340.4 156.0,340.4 158.0,340.3 160.0,340.2 162.0,340.2 164.0,340.0 166.0,339.9 168.0,339.7 170.0,339.5 172.0,339.2 174.0,338.9 176.0,338.5 178.0,338.1 180.0,337.6 182.0,337.0 184.0,336.3 186.0,335.4 188.0,334.5 190.0,333.4 192.0,332.2 194.0,330.8 196.0,329.3 198.0,327.6 200.0,325.7 202.0,323.7 204.0,321.4 206.0,318.9 208.0,316.3 210.0,313.4 212.0,310.4 214.0,307.1 216.0,303.7 218.0,300.1 220.0,296.5 222.0,292.7 224.0,288.8 226.0,284.9 228.0,281.0 230.0,277.1 232.0,273.4 234.0,269.7 236.0,266.3 238.0,263.0 240.0,260.0 242.0,257.4 244.0,255.1 246.0,253.2 248.0,251.7 250.0,250.6 252.0,250.0 254.0,250.0 256.0,250.4 258.0,251.3 260.0,252.7 262.0,254.5 264.0,256.8 266.0,259.5 268.0,262.6 270.0,266.0 272.0,269.7 274.0,273.6 276.0,277.7 278.0,281.9 280.0,286.3 282.0,290.7 284.0,295.1 286.0,299.5 288.0,303.8 290.0,308.0 292.0,312.1 294.0,316.0 296.0,319.8 298.0,323.3 300.0,326.7 302.0,329.9 304.0,332.8 306.0,335.6 308.0,338.1 310.0,340.5 312.0,342.6 314.0,344.6 316.0,346.4 318.0,348.0 320.0,349.4 322.0,350.7 324.0,351.9 326.0,352.9 328.0,353.9 330.0,354.7 332.0,355.4 334.0,356.0 336.0,356.5 338.0,357.0 340.0,357.4 342.0,357.7 344.0,358.0 346.0,358.3 348.0,358.5 350.0,358.7 352.0,358.9 354.0,359.1 356.0,359.2 358.0,359.4 360.0,359.5 362.0,359.6 364.0,359.7 366.0,359.8 368.0,359.9 370.0,360.0 372.0,360.0 374.0,360.1 376.0,360.2 378.0,360.2 380.0,360.2 382.0,360.3 384.0,360.3 386.0,360.3 388.0,360.4 390.0,360.4 392.0,360.4 394.0,360.3 396.0,360.3 398.0,360.3 400.0,360.2 402.0,360.2 404.0,360.1 406.0,360.0 408.0,359.9 410.0,359.8 412.0,359.7 414.0,359.5 416.0,359.3 418.0,359.1 420.0,358.9 422.0,358.7 424.0,358.4 426.0,358.1 428.0,357.8 430.0,357.5 432.0,357.1 434.0,356.7 436.0,356.3 438.0,355.9 440.0,355.4 442.0,354.9 444.0,354.4 446.0,353.9 448.0,353.3 450.0,352.7 452.0,352.1 454.0,351.4 456.0,350.7 458.0,350.0 460.0,349.3 462.0,348.6 464.0,347.8 466.0,347.0 468.0,346.3 470.0,345.5 472.0,344.6 474.0,343.8 476.0,343.0 478.0,342.2 480.0,341.4 482.0,340.6 484.0,339.8 486.0,339.0 488.0,338.2 490.0,337.5 492.0,336.7 494.0,336.1 496.0,335.4 498.0,334.8 500.0,334.2 502.0,333.7 504.0,333.2 506.0,332.8 508.0,332.4 510.0,332.1 512.0,331.8 514.0,331.6 516.0,331.5 518.0,331.4 520.0,331.4 522.0,331.4 524.0,331.6 526.0,331.7 528.0,332.0 530.0,332.3 532.0,332.7 534.0,333.1 536.0,333.5 538.0,334.1 540.0,334.6 542.0,335.2 544.0,335.9 546.0,336.6 548.0,337.3 550.0,338.1 552.0,338.9 554.0,339.7 556.0,340.5 558.0,341.3 560.0,342.1 562.0,342.9 564.0,343.7 566.0,344.5 568.0,345.2 570.0,345.9 572.0,346.6 574.0,347.2 576.0,347.7 578.0,348.2 580.0,348.7 582.0,349.1 584.0,349.4 586.0,349.7 588.0,349.8 590.0,350.0 592.0,350.0 594.0,350.0 596.0,350.0 598.0,349.8 600.0,349.6 602.0,349.4 604.0,349.1 606.0,348.7 608.0,348.3 610.0,347.8 612.0,347.3 614.0,346.8 616.0,346.2 618.0,345.7 620.0,345.1 622.0,344.5 624.0,343.9 626.0,343.3 628.0,342.7 630.0,342.2 632.0,341.6 634.0,341.1 636.0,340.6 638.0,340.2 640.0,339.8 642.0,339.5 644.0,339.1 646.0,338.8 648.0,338.6 650.0,338.3 652.0,338.1 654.0,337.8 656.0,337.6 658.0,337.3 660.0,336.9 662.0,336.5 664.0,335.9 666.0,335.2 668.0,334.3 670.0,333.2 672.0,331.8 674.0,330.2 676.0,328.3 678.0,326.0 680.0,323.4 682.0,320.5 684.0,317.2 686.0,313.6 688.0,309.7 690.0,305.5 692.0,301.1 694.0,296.6 696.0,292.0 698.0,287.5 700.0,283.1 702.0,279.0 704.0,275.3 706.0,272.2 708.0,269.8 710.0,268.2 712.0,267.6 714.0,267.9 716.0,269.1 718.0,271.2 720.0,274.1 722.0,277.6 724.0,281.7 726.0,286.1 728.0,290.7 730.0,295.3 732.0,299.9 734.0,304.4 736.0,308.6 738.0,312.3 740.0,315.7 742.0,318.5 744.0,320.6 746.0,322.1 748.0,322.8 750.0,322.8 752.0,321.9 754.0,320.3 756.0,317.8 758.0,314.6 760.0,310.7 762.0,306.2 764.0,301.1 766.0,295.6 768.0,289.8 770.0,283.9 772.0,277.9 774.0,272.1 776.0,266.4 778.0,261.2 780.0,256.5 782.0,252.5 784.0,249.2 786.0,246.8 788.0,245.4 790.0,244.9 792.0,245.5 794.0,247.1 796.0,249.7 798.0,253.3 800.0,257.8 802.0,263.1 804.0,269.1 806.0,275.8 808.0,283.0 810.0,290.5 812.0,298.4 814.0,306.4 816.0,314.4 818.0,322.4 820.0,330.3 822.0,337.9 824.0,345.2 826.0,352.2 828.0,358.8 830.0,364.9 832.0,370.6 834.0,375.9 836.0,380.7 838.0,385.0 840.0,388.9 842.0,392.4 844.0,395.5 846.0,398.3 848.0,400.7 850.0,402.7 852.0,404.6 854.0,406.2 856.0,407.5 858.0,408.7 860.0,409.8 862.0,410.7 864.0,411.5 866.0,412.2 868.0,412.8 870.0,413.3 872.0,413.8 874.0,414.2 876.0,414.6 878.0,414.9 880.0,415.1 882.0,415.3 884.0,415.5 886.0,415.7 888.0,415.9 890.0,416.1 892.0,416.2 894.0,416.3 896.0,416.4 898.0,416.5 900.0,416.6 902.0,416.7 904.0,416.8 906.0,416.9 908.0,416.9 910.0,417.0 912.0,417.0 914.0,417.0 916.0,417.1 918.0,417.1 920.0,417.1 922.0,417.0 924.0,417.0 926.0,417.0 928.0,416.9 930.0,416.9 932.0,416.8 934.0,416.7 936.0,416.6 938.0,416.4 940.0,416.3 942.0,416.1 944.0,415.9 946.0,415.7 948.0,415.5 950.0,415.2 952.0,414.9 954.0,414.6 956.0,414.3 958.0,413.9 960.0,413.5 962.0,413.1 964.0,412.7 966.0,412.2 968.0,411.6 970.0,411.1 972.0,410.5 974.0,409.9 976.0,409.2 978.0,408.5 980.0,407.8 982.0,407.0 984.0,406.2 986.0,405.3 988.0,404.4 990.0,403.5 992.0,402.5 994.0,401.5 996.0,400.5 998.0,399.4 1000.0,398.4 1002.0,397.2 1004.0,396.1 1006.0,394.9 1008.0,393.8 1010.0,392.6 1012.0,391.4 1014.0,390.2 1016.0,389.0 1018.0,387.8 1020.0,386.6 1022.0,385.4 1024.0,384.2 1026.0,383.0 1028.0,381.9 1030.0,380.8 1032.0,379.7 1034.0,378.6 1036.0,377.6 1038.0,376.7 1040.0,375.8 1042.0,374.9 1044.0,374.1 1046.0,373.4 1048.0,372.7 1050.0,372.2 1052.0,371.6 1054.0,371.2 1056.0,370.8 1058.0,370.5 1060.0,370.3 1062.0,370.1 1064.0,370.1 1066.0,370.1 1068.0,370.2 1070.0,370.3 1072.0,370.6 1074.0,370.9 1076.0,371.2 1078.0,371.7 1080.0,372.2 1082.0,372.8 1084.0,373.4 1086.0,374.0 1088.0,374.8 1090.0,375.5 1092.0,376.3 1094.0,377.1 1096.0,377.9 1098.0,378.8 1100.0,379.6 1102.0,380.5 1104.0,381.3 1106.0,382.1 1108.0,382.9 1110.0,383.7 1112.0,384.5 1114.0,385.1 1116.0,385.8 1118.0,386.4 1120.0,386.9 1122.0,387.3 1124.0,387.7 1126.0,388.0 1128.0,388.2 1130.0,388.3 1132.0,388.4 1134.0,388.3 1136.0,388.2 1138.0,388.0 1140.0,387.6 1142.0,387.2 1144.0,386.8 1146.0,386.2 1148.0,385.6 1150.0,384.9 1152.0,384.1 1154.0,383.3 1156.0,382.5 1158.0,381.6 1160.0,380.7 1162.0,379.8 1164.0,378.9 1166.0,378.1 1168.0,377.2 1170.0,376.4 1172.0,375.6 1174.0,374.8 1176.0,374.1 1178.0,373.5 1180.0,372.9 1182.0,372.4 1184.0,371.9 1186.0,371.5 1188.0,371.1 1190.0,370.8 1192.0,370.5 1194.0,370.2 1196.0,369.9 1198.0,369.6 1200.0,369.2 1202.0,368.6 1204.0,367.9 1206.0,367.0 1208.0,365.9 1210.0,364.5 1212.0,362.8 1214.0,360.8 1216.0,358.4 1218.0,355.6 1220.0,352.5 1222.0,348.9 1224.0,345.0 1226.0,340.7 1228.0,336.2 1230.0,331.4 1232.0,326.5 1234.0,321.5 1236.0,316.6 1238.0,311.8 1240.0,307.2 1242.0,303.1 1244.0,299.4 1246.0,296.4 1248.0,294.0 1250.0,292.5 1252.0,291.8 1254.0,292.1 1256.0,293.4 1258.0,295.7 1260.0,298.9 1262.0,303.1 1264.0,308.1 1266.0,314.0 1268.0,320.5 1270.0,327.6 1272.0,335.1 1274.0,343.0 1276.0,351.0 1278.0,359.1 1280.0,367.1 1282.0,374.9 1284.0,382.5 1286.0,389.7 1288.0,396.4 1290.0,402.6 1292.0,408.4 1294.0,413.6 1296.0,418.2 1298.0,422.4 1300.0,426.1 1302.0,429.4 1304.0,432.2 1306.0,434.8 1308.0,437.1 1310.0,439.2 1312.0,441.1 1314.0,442.9 1316.0,444.6 1318.0,446.3 1320.0,447.9 1322.0,449.5 1324.0,451.1 1326.0,452.7 1328.0,454.2 1330.0,455.8 1332.0,457.2 1334.0,458.6 1336.0,460.0 1338.0,461.3 1340.0,462.5 1342.0,463.5 1344.0,464.6 1346.0,465.5 1348.0,466.3 1350.0,467.0 1352.0,467.6 1354.0,468.2 1356.0,468.7 1358.0,469.1 1360.0,469.4 1362.0,469.8 1364.0,470.0 1366.0,470.3 1368.0,470.5 1370.0,470.7 1372.0,470.9 1374.0,471.0 1376.0,471.2 1378.0,471.3 1380.0,471.4 1382.0,471.6 1384.0,471.7 1386.0,471.8 1388.0,471.9 1390.0,472.0 1392.0,472.1 1394.0,472.1 1396.0,472.2 1398.0,472.3 1400.0,472.4 1402.0,472.4 1404.0,472.5 1406.0,472.6 1408.0,472.6 1410.0,472.7 1412.0,472.7 1414.0,472.8 1416.0,472.8" fill="none" stroke="#0606d6" stroke-width="7" stroke-linejoin="round" stroke-linecap="round" />
<polyline points="130.0,815.0 132.0,814.3 134.0,814.2 136.0,813.8 138.0,814.5 140.0,813.1 142.0,813.3 144.0,814.1 146.0,813.5 148.0,813.6 150.0,814.1 152.0,814.1 154.0,814.0 156.0,815.5 158.0,814.9 160.0,815.1 162.0,814.0 164.0,813.6 166.0,812.8 168.0,813.6 170.0,812.1 172.0,813.2 174.0,814.1 176.0,814.6 178.0,813.9 180.0,812.2 182.0,813.0 184.0,811.6 186.0,812.5 188.0,811.3 190.0,811.5 192.0,812.3 194.0,810.2 196.0,810.5 198.0,807.8 200.0,806.3 202.0,806.4 204.0,805.2 206.0,801.8 208.0,800.6 210.0,797.4 212.0,796.2 214.0,794.6 216.0,791.3 218.0,788.0 220.0,784.3 222.0,782.4 224.0,779.3 226.0,775.5 228.0,771.3 230.0,766.1 232.0,764.3 234.0,758.6 236.0,754.2 238.0,750.6 240.0,744.0 242.0,741.4 244.0,737.3 246.0,733.8 248.0,730.9 250.0,727.0 252.0,722.3 254.0,721.1 256.0,719.7 258.0,718.4 260.0,716.7 262.0,716.4 264.0,718.9 266.0,720.1 268.0,721.8 270.0,722.9 272.0,728.8 274.0,728.5 276.0,734.4 278.0,740.6 280.0,743.2 282.0,748.1 284.0,751.7 286.0,758.4 288.0,761.1 290.0,767.0 292.0,771.5 294.0,775.1 296.0,780.9 298.0,783.3 300.0,787.8 302.0,792.1 304.0,795.3 306.0,799.4 308.0,802.9 310.0,804.8 312.0,807.4 314.0,809.9 316.0,812.3 318.0,815.4 320.0,816.5 322.0,818.6 324.0,819.6 326.0,820.3 328.0,822.9 330.0,822.4 332.0,824.1 334.0,826.1 336.0,824.7 338.0,826.2 340.0,825.5 342.0,826.8 344.0,826.4 346.0,827.6 348.0,827.7 350.0,828.4 352.0,829.7 354.0,828.8 356.0,829.2 358.0,828.7 360.0,828.6 362.0,828.2 364.0,827.5 366.0,829.0 368.0,830.3 370.0,829.4 372.0,828.6 374.0,830.4 376.0,828.7 378.0,828.6 380.0,828.2 382.0,828.4 384.0,828.9 386.0,830.8 388.0,829.0 390.0,828.4 392.0,828.7 394.0,829.0 396.0,827.8 398.0,829.3 400.0,829.8 402.0,829.5 404.0,829.7 406.0,828.2 408.0,827.9 410.0,830.3 412.0,830.1 414.0,828.0 416.0,829.4 418.0,829.2 420.0,829.6 422.0,829.3 424.0,828.7 426.0,829.2 428.0,829.1 430.0,828.8 432.0,827.3 434.0,826.3 436.0,827.9 438.0,827.1 440.0,828.4 442.0,828.6 444.0,828.0 446.0,827.3 448.0,827.4 450.0,828.0 452.0,826.2 454.0,827.1 456.0,826.6 458.0,825.9 460.0,826.4 462.0,824.2 464.0,825.0 466.0,823.0 468.0,822.6 470.0,821.8 472.0,822.4 474.0,820.6 476.0,820.8 478.0,819.1 480.0,820.2 482.0,819.9 484.0,817.8 486.0,818.0 488.0,816.3 490.0,816.6 492.0,814.1 494.0,811.9 496.0,813.4 498.0,811.3 500.0,809.7 502.0,809.3 504.0,807.7 506.0,808.2 508.0,806.8 510.0,808.2 512.0,807.0 514.0,804.6 516.0,804.3 518.0,804.7 520.0,803.4 522.0,804.7 524.0,804.6 526.0,804.0 528.0,804.2 530.0,805.2 532.0,806.3 534.0,806.7 536.0,806.0 538.0,807.2 540.0,806.5 542.0,808.1 544.0,807.8 546.0,810.0 548.0,809.3 550.0,810.4 552.0,812.1 554.0,813.6 556.0,813.0 558.0,814.7 560.0,816.3 562.0,817.4 564.0,817.5 566.0,819.3 568.0,820.0 570.0,822.3 572.0,822.5 574.0,821.9 576.0,822.1 578.0,824.8 580.0,826.5 582.0,826.4 584.0,827.7 586.0,827.2 588.0,827.1 590.0,829.3 592.0,829.2 594.0,830.1 596.0,828.8 598.0,830.2 600.0,829.8 602.0,831.0 604.0,830.0 606.0,829.9 608.0,829.8 610.0,831.1 612.0,829.9 614.0,829.0 616.0,828.4 618.0,827.9 620.0,829.4 622.0,826.2 624.0,826.4 626.0,826.9 628.0,826.6 630.0,824.8 632.0,824.8 634.0,823.9 636.0,823.3 638.0,821.7 640.0,822.1 642.0,820.1 644.0,820.3 646.0,817.3 648.0,818.1 650.0,815.6 652.0,814.6 654.0,815.4 656.0,813.7 658.0,814.0 660.0,812.1 662.0,813.6 664.0,811.7 666.0,810.2 668.0,810.6 670.0,810.5 672.0,808.4 674.0,808.5 676.0,808.7 678.0,806.6 680.0,804.5 682.0,802.4 684.0,801.3 686.0,797.3 688.0,793.5 690.0,792.4 692.0,788.7 694.0,787.2 696.0,782.0 698.0,776.9 700.0,772.4 702.0,769.3 704.0,763.8 706.0,759.8 708.0,756.2 710.0,752.8 712.0,749.8 714.0,747.5 716.0,746.9 718.0,746.4 720.0,743.8 722.0,748.1 724.0,747.9 726.0,751.3 728.0,752.9 730.0,757.3 732.0,761.2 734.0,765.3 736.0,770.2 738.0,774.1 740.0,776.7 742.0,781.0 744.0,784.8 746.0,787.3 748.0,788.4 750.0,789.7 752.0,790.3 754.0,789.3 756.0,788.2 758.0,788.8 760.0,784.8 762.0,782.1 764.0,777.7 766.0,775.2 768.0,770.8 770.0,764.2 772.0,759.4 774.0,753.0 776.0,749.5 778.0,743.4 780.0,736.7 782.0,733.4 784.0,728.1 786.0,724.1 788.0,720.7 790.0,717.1 792.0,715.2 794.0,715.0 796.0,714.1 798.0,714.0 800.0,717.9 802.0,718.5 804.0,721.5 806.0,725.5 808.0,731.5 810.0,737.3 812.0,743.0 814.0,750.3 816.0,755.6 818.0,764.1 820.0,771.7 822.0,779.5 824.0,787.2 826.0,792.5 828.0,803.9 830.0,807.7 832.0,815.4 834.0,822.2 836.0,828.2 838.0,833.4 840.0,836.2 842.0,842.5 844.0,848.5 846.0,851.2 848.0,854.8 850.0,857.2 852.0,863.0 854.0,865.2 856.0,866.5 858.0,869.3 860.0,871.3 862.0,872.3 864.0,874.5 866.0,876.4 868.0,877.9 870.0,879.7 872.0,879.8 874.0,880.4 876.0,882.1 878.0,882.1 880.0,882.5 882.0,885.2 884.0,884.8 886.0,886.0 888.0,887.2 890.0,886.6 892.0,888.7 894.0,889.3 896.0,889.6 898.0,890.6 900.0,890.3 902.0,889.2 904.0,890.8 906.0,890.3 908.0,891.8 910.0,891.3 912.0,890.7 914.0,891.1 916.0,892.2 918.0,892.0 920.0,891.3 922.0,891.3 924.0,890.7 926.0,890.8 928.0,891.3 930.0,890.7 932.0,890.9 934.0,889.7 936.0,889.1 938.0,889.0 940.0,889.9 942.0,891.1 944.0,890.9 946.0,888.9 948.0,888.3 950.0,890.0 952.0,889.5 954.0,887.8 956.0,889.5 958.0,888.5 960.0,889.1 962.0,888.0 964.0,888.0 966.0,887.2 968.0,885.8 970.0,885.9 972.0,885.1 974.0,885.8 976.0,883.8 978.0,882.8 980.0,883.9 982.0,883.7 984.0,883.2 986.0,882.2 988.0,879.4 990.0,879.3 992.0,878.6 994.0,878.2 996.0,875.6 998.0,876.4 1000.0,875.7 1002.0,873.7 1004.0,873.5 1006.0,873.3 1008.0,871.3 1010.0,871.0 1012.0,869.8 1014.0,868.1 1016.0,866.9 1018.0,865.0 1020.0,865.0 1022.0,862.4 1024.0,860.9 1026.0,860.7 1028.0,858.2 1030.0,857.8 1032.0,857.0 1034.0,854.9 1036.0,853.6 1038.0,853.0 1040.0,851.6 1042.0,848.5 1044.0,847.5 1046.0,848.4 1048.0,846.6 1050.0,843.6 1052.0,843.2 1054.0,843.4 1056.0,841.7 1058.0,842.2 1060.0,841.2 1062.0,841.0 1064.0,839.2 1066.0,840.3 1068.0,841.2 1070.0,838.9 1072.0,840.6 1074.0,840.4 1076.0,840.4 1078.0,840.3 1080.0,839.9 1082.0,840.7 1084.0,842.8 1086.0,843.8 1088.0,845.0 1090.0,845.8 1092.0,846.8 1094.0,847.0 1096.0,847.6 1098.0,850.0 1100.0,851.6 1102.0,852.6 1104.0,852.7 1106.0,854.9 1108.0,855.5 1110.0,858.2 1112.0,858.6 1114.0,860.7 1116.0,862.4 1118.0,863.4 1120.0,865.6 1122.0,864.7 1124.0,864.9 1126.0,868.4 1128.0,869.6 1130.0,870.4 1132.0,870.1 1134.0,870.9 1136.0,871.0 1138.0,870.3 1140.0,871.1 1142.0,872.1 1144.0,871.2 1146.0,873.1 1148.0,870.1 1150.0,870.7 1152.0,871.5 1154.0,869.6 1156.0,868.5 1158.0,867.6 1160.0,867.3 1162.0,868.2 1164.0,866.4 1166.0,865.4 1168.0,863.5 1170.0,863.5 1172.0,861.8 1174.0,859.9 1176.0,859.1 1178.0,858.5 1180.0,858.2 1182.0,856.1 1184.0,855.6 1186.0,855.8 1188.0,852.7 1190.0,851.5 1192.0,852.5 1194.0,851.4 1196.0,850.3 1198.0,850.1 1200.0,849.1 1202.0,849.4 1204.0,848.3 1206.0,848.8 1208.0,846.8 1210.0,846.6 1212.0,846.8 1214.0,845.7 1216.0,845.7 1218.0,844.0 1220.0,842.2 1222.0,841.1 1224.0,838.4 1226.0,835.0 1228.0,832.4 1230.0,829.3 1232.0,825.7 1234.0,821.9 1236.0,817.9 1238.0,812.6 1240.0,808.4 1242.0,802.7 1244.0,796.2 1246.0,792.5 1248.0,787.2 1250.0,781.4 1252.0,778.1 1254.0,775.6 1256.0,772.6 1258.0,771.9 1260.0,771.0 1262.0,772.0 1264.0,773.0 1266.0,776.5 1268.0,779.8 1270.0,785.5 1272.0,789.2 1274.0,797.2 1276.0,804.8 1278.0,811.5 1280.0,818.6 1282.0,826.8 1284.0,833.6 1286.0,841.4 1288.0,849.5 1290.0,857.3 1292.0,865.4 1294.0,871.0 1296.0,879.3 1298.0,883.8 1300.0,890.6 1302.0,897.0 1304.0,903.3 1306.0,906.9 1308.0,910.1 1310.0,916.2 1312.0,919.4 1314.0,921.7 1316.0,924.4 1318.0,927.1 1320.0,929.7 1322.0,931.9 1324.0,931.7 1326.0,936.0 1328.0,935.2 1330.0,935.9 1332.0,937.6 1334.0,937.9 1336.0,940.4 1338.0,940.1 1340.0,939.5 1342.0,940.1 1344.0,940.6 1346.0,941.2 1348.0,942.6 1350.0,942.1 1352.0,944.1 1354.0,943.0 1356.0,943.1 1358.0,944.2 1360.0,942.0 1362.0,943.1 1364.0,944.5 1366.0,944.2 1368.0,944.3 1370.0,944.8 1372.0,944.2 1374.0,944.7 1376.0,943.9 1378.0,943.6 1380.0,946.2 1382.0,944.6 1384.0,944.9 1386.0,946.7 1388.0,946.6 1390.0,945.4 1392.0,945.5 1394.0,946.0 1396.0,945.4 1398.0,946.7 1400.0,946.4 1402.0,946.5 1404.0,947.0 1406.0,947.1 1408.0,948.0 1410.0,947.8 1412.0,945.2 1414.0,947.4 1416.0,945.8" fill="none" stroke="#000" stroke-width="5" stroke-linejoin="round" stroke-linecap="round" />
<polyline points="130.0,816.0 132.0,816.1 134.0,816.1 136.0,816.2 138.0,816.3 140.0,816.4 142.0,816.4 144.0,816.5 146.0,816.6 148.0,816.7 150.0,816.7 152.0,816.8 154.0,816.9 156.0,817.0 158.0,817.1 160.0,817.1 162.0,817.2 164.0,817.3 166.0,817.4 168.0,817.5 170.0,817.6 172.0,817.7 174.0,817.7 176.0,817.8 178.0,817.9 180.0,818.0 182.0,818.1 184.0,818.2 186.0,818.3 188.0,818.3 190.0,818.4 192.0,818.5 194.0,818.6 196.0,818.7 198.0,818.8 200.0,818.8 202.0,818.9 204.0,819.0 206.0,819.1 208.0,819.2 210.0,819.3 212.0,819.4 214.0,819.4 216.0,819.5 218.0,819.6 220.0,819.7 222.0,819.8 224.0,819.9 226.0,820.0 228.0,820.1 230.0,820.2 232.0,820.3 234.0,820.5 236.0,820.6 238.0,820.7 240.0,820.8 242.0,820.9 244.0,821.1 246.0,821.2 248.0,821.4 250.0,821.5 252.0,821.7 254.0,821.8 256.0,822.0 258.0,822.2 260.0,822.4 262.0,822.7 264.0,822.9 266.0,823.1 268.0,823.4 270.0,823.7 272.0,823.9 274.0,824.2 276.0,824.5 278.0,824.8 280.0,825.1 282.0,825.4 284.0,825.7 286.0,826.0 288.0,826.3 290.0,826.6 292.0,826.9 294.0,827.2 296.0,827.4 298.0,827.7 300.0,828.0 302.0,828.3 304.0,828.6 306.0,828.9 308.0,829.2 310.0,829.5 312.0,829.9 314.0,830.2 316.0,830.6 318.0,830.9 320.0,831.3 322.0,831.6 324.0,832.0 326.0,832.3 328.0,832.6 330.0,832.9 332.0,833.2 334.0,833.5 336.0,833.8 338.0,834.0 340.0,834.3 342.0,834.5 344.0,834.6 346.0,834.8 348.0,834.9 350.0,835.0 352.0,835.1 354.0,835.1 356.0,835.2 358.0,835.2 360.0,835.3 362.0,835.3 364.0,835.4 366.0,835.4 368.0,835.5 370.0,835.5 372.0,835.5 374.0,835.6 376.0,835.6 378.0,835.6 380.0,835.7 382.0,835.7 384.0,835.7 386.0,835.8 388.0,835.8 390.0,835.8 392.0,835.8 394.0,835.8 396.0,835.9 398.0,835.9 400.0,835.9 402.0,835.9 404.0,836.0 406.0,836.0 408.0,836.0 410.0,836.0 412.0,836.1 414.0,836.1 416.0,836.1 418.0,836.2 420.0,836.2 422.0,836.3 424.0,836.3 426.0,836.3 428.0,836.4 430.0,836.4 432.0,836.5 434.0,836.6 436.0,836.6 438.0,836.7 440.0,836.8 442.0,836.9 444.0,836.9 446.0,837.0 448.0,837.1 450.0,837.2 452.0,837.3 454.0,837.5 456.0,837.6 458.0,837.7 460.0,837.8 462.0,837.9 464.0,838.1 466.0,838.2 468.0,838.3 470.0,838.5 472.0,838.6 474.0,838.8 476.0,838.9 478.0,839.1 480.0,839.2 482.0,839.4 484.0,839.5 486.0,839.7 488.0,839.9 490.0,840.0 492.0,840.2 494.0,840.4 496.0,840.5 498.0,840.7 500.0,840.9 502.0,841.0 504.0,841.2 506.0,841.4 508.0,841.5 510.0,841.7 512.0,841.9 514.0,842.0 516.0,842.2 518.0,842.4 520.0,842.5 522.0,842.7 524.0,842.8 526.0,843.0 528.0,843.2 530.0,843.3 532.0,843.5 534.0,843.7 536.0,843.9 538.0,844.1 540.0,844.3 542.0,844.5 544.0,844.7 546.0,844.9 548.0,845.1 550.0,845.3 552.0,845.5 554.0,845.6 556.0,845.8 558.0,845.9 560.0,846.0 562.0,846.1 564.0,846.2 566.0,846.2 568.0,846.3 570.0,846.4 572.0,846.4 574.0,846.5 576.0,846.5 578.0,846.6 580.0,846.6 582.0,846.6 584.0,846.7 586.0,846.7 588.0,846.8 590.0,846.8 592.0,846.9 594.0,847.0 596.0,847.0 598.0,847.1 600.0,847.2 602.0,847.3 604.0,847.4 606.0,847.5 608.0,847.7 610.0,847.8 612.0,848.0 614.0,848.1 616.0,848.3 618.0,848.5 620.0,848.7 622.0,848.9 624.0,849.1 626.0,849.3 628.0,849.6 630.0,849.8 632.0,850.0 634.0,850.2 636.0,850.5 638.0,850.7 640.0,851.0 642.0,851.2 644.0,851.4 646.0,851.7 648.0,851.9 650.0,852.1 652.0,852.3 654.0,852.6 656.0,852.8 658.0,853.0 660.0,853.2 662.0,853.4 664.0,853.6 666.0,853.8 668.0,854.0 670.0,854.2 672.0,854.4 674.0,854.6 676.0,854.8 678.0,855.0 680.0,855.2 682.0,855.4 684.0,855.6 686.0,855.7 688.0,855.9 690.0,856.1 692.0,856.3 694.0,856.5 696.0,856.7 698.0,856.9 700.0,857.1 702.0,857.3 704.0,857.5 706.0,857.7 708.0,857.9 710.0,858.1 712.0,858.3 714.0,858.6 716.0,858.8 718.0,859.0 720.0,859.2 722.0,859.4 724.0,859.6 726.0,859.8 728.0,860.0 730.0,860.2 732.0,860.4 734.0,860.6 736.0,860.8 738.0,861.0 740.0,861.2 742.0,861.5 744.0,861.7 746.0,861.9 748.0,862.1 750.0,862.3 752.0,862.6 754.0,862.8 756.0,863.1 758.0,863.3 760.0,863.6 762.0,863.9 764.0,864.1 766.0,864.5 768.0,864.8 770.0,865.1 772.0,865.5 774.0,865.9 776.0,866.3 778.0,866.8 780.0,867.4 782.0,867.9 784.0,868.5 786.0,869.1 788.0,869.7 790.0,870.3 792.0,870.9 794.0,871.4 796.0,872.0 798.0,872.6 800.0,873.1 802.0,873.6 804.0,874.1 806.0,874.6 808.0,875.2 810.0,875.7 812.0,876.2 814.0,876.7 816.0,877.2 818.0,877.7 820.0,878.2 822.0,878.7 824.0,879.2 826.0,879.7 828.0,880.2 830.0,880.7 832.0,881.2 834.0,881.6 836.0,882.1 838.0,882.6 840.0,883.0 842.0,883.4 844.0,883.9 846.0,884.3 848.0,884.8 850.0,885.3 852.0,885.7 854.0,886.2 856.0,886.6 858.0,887.0 860.0,887.5 862.0,887.9 864.0,888.3 866.0,888.7 868.0,889.1 870.0,889.4 872.0,889.8 874.0,890.1 876.0,890.4 878.0,890.7 880.0,891.0 882.0,891.3 884.0,891.5 886.0,891.8 888.0,892.0 890.0,892.2 892.0,892.4 894.0,892.6 896.0,892.8 898.0,892.9 900.0,893.0 902.0,893.1 904.0,893.1 906.0,893.2 908.0,893.3 910.0,893.3 912.0,893.4 914.0,893.4 916.0,893.5 918.0,893.5 920.0,893.5 922.0,893.6 924.0,893.6 926.0,893.6 928.0,893.7 930.0,893.7 932.0,893.7 934.0,893.7 936.0,893.8 938.0,893.8 940.0,893.8 942.0,893.8 944.0,893.8 946.0,893.9 948.0,893.9 950.0,893.9 952.0,893.9 954.0,894.0 956.0,894.0 958.0,894.0 960.0,894.1 962.0,894.1 964.0,894.1 966.0,894.2 968.0,894.2 970.0,894.2 972.0,894.3 974.0,894.3 976.0,894.4 978.0,894.4 980.0,894.5 982.0,894.6 984.0,894.6 986.0,894.7 988.0,894.8 990.0,895.0 992.0,895.1 994.0,895.2 996.0,895.4 998.0,895.5 1000.0,895.7 1002.0,895.8 1004.0,896.0 1006.0,896.2 1008.0,896.4 1010.0,896.6 1012.0,896.8 1014.0,897.0 1016.0,897.2 1018.0,897.4 1020.0,897.7 1022.0,897.9 1024.0,898.1 1026.0,898.4 1028.0,898.6 1030.0,898.8 1032.0,899.1 1034.0,899.3 1036.0,899.6 1038.0,899.8 1040.0,900.1 1042.0,900.3 1044.0,900.6 1046.0,900.9 1048.0,901.1 1050.0,901.4 1052.0,901.6 1054.0,901.9 1056.0,902.1 1058.0,902.4 1060.0,902.6 1062.0,902.9 1064.0,903.1 1066.0,903.3 1068.0,903.6 1070.0,903.8 1072.0,904.0 1074.0,904.3 1076.0,904.5 1078.0,904.7 1080.0,905.0 1082.0,905.2 1084.0,905.5 1086.0,905.7 1088.0,906.0 1090.0,906.2 1092.0,906.5 1094.0,906.8 1096.0,907.0 1098.0,907.3 1100.0,907.5 1102.0,907.8 1104.0,908.0 1106.0,908.3 1108.0,908.5 1110.0,908.8 1112.0,909.0 1114.0,909.2 1116.0,909.5 1118.0,909.7 1120.0,909.9 1122.0,910.1 1124.0,910.3 1126.0,910.5 1128.0,910.7 1130.0,910.9 1132.0,911.1 1134.0,911.3 1136.0,911.5 1138.0,911.7 1140.0,911.8 1142.0,912.0 1144.0,912.2 1146.0,912.3 1148.0,912.5 1150.0,912.7 1152.0,912.9 1154.0,913.0 1156.0,913.2 1158.0,913.4 1160.0,913.5 1162.0,913.7 1164.0,913.9 1166.0,914.0 1168.0,914.2 1170.0,914.4 1172.0,914.6 1174.0,914.7 1176.0,914.9 1178.0,915.1 1180.0,915.3 1182.0,915.5 1184.0,915.7 1186.0,915.9 1188.0,916.1 1190.0,916.3 1192.0,916.5 1194.0,916.7 1196.0,916.9 1198.0,917.2 1200.0,917.4 1202.0,917.6 1204.0,917.9 1206.0,918.1 1208.0,918.4 1210.0,918.7 1212.0,918.9 1214.0,919.2 1216.0,919.5 1218.0,919.8 1220.0,920.1 1222.0,920.3 1224.0,920.6 1226.0,920.9 1228.0,921.3 1230.0,921.6 1232.0,921.9 1234.0,922.2 1236.0,922.6 1238.0,922.9 1240.0,923.2 1242.0,923.6 1244.0,923.9 1246.0,924.3 1248.0,924.7 1250.0,925.0 1252.0,925.4 1254.0,925.8 1256.0,926.2 1258.0,926.6 1260.0,927.0 1262.0,927.4 1264.0,927.9 1266.0,928.4 1268.0,928.9 1270.0,929.5 1272.0,930.0 1274.0,930.6 1276.0,931.2 1278.0,931.8 1280.0,932.4 1282.0,933.0 1284.0,933.6 1286.0,934.2 1288.0,934.8 1290.0,935.3 1292.0,935.8 1294.0,936.3 1296.0,936.8 1298.0,937.2 1300.0,937.6 1302.0,938.0 1304.0,938.3 1306.0,938.6 1308.0,939.0 1310.0,939.3 1312.0,939.6 1314.0,939.9 1316.0,940.2 1318.0,940.5 1320.0,940.8 1322.0,941.1 1324.0,941.3 1326.0,941.6 1328.0,941.8 1330.0,942.0 1332.0,942.2 1334.0,942.5 1336.0,942.6 1338.0,942.8 1340.0,943.0 1342.0,943.2 1344.0,943.3 1346.0,943.5 1348.0,943.7 1350.0,943.8 1352.0,944.0 1354.0,944.1 1356.0,944.3 1358.0,944.4 1360.0,944.6 1362.0,944.7 1364.0,944.9 1366.0,945.0 1368.0,945.2 1370.0,945.3 1372.0,945.5 1374.0,945.6 1376.0,945.7 1378.0,945.9 1380.0,946.0 1382.0,946.1 1384.0,946.2 1386.0,946.3 1388.0,946.4 1390.0,946.5 1392.0,946.6 1394.0,946.7 1396.0,946.8 1398.0,946.8 1400.0,946.9 1402.0,947.0 1404.0,947.0 1406.0,947.1 1408.0,947.1 1410.0,947.1 1412.0,947.2 1414.0,947.2 1416.0,947.2" fill="none" stroke="#e40c0c" stroke-width="5.5" stroke-linejoin="round" stroke-linecap="round" />
<polyline points="130.0,814.3 132.0,814.3 134.0,814.3 136.0,814.3 138.0,814.3 140.0,814.4 142.0,814.4 144.0,814.4 146.0,814.4 148.0,814.4 150.0,814.4 152.0,814.4 154.0,814.4 156.0,814.3 158.0,814.3 160.0,814.3 162.0,814.2 164.0,814.2 166.0,814.1 168.0,814.1 170.0,814.0 172.0,813.8 174.0,813.7 176.0,813.5 178.0,813.3 180.0,813.1 182.0,812.8 184.0,812.5 186.0,812.1 188.0,811.6 190.0,811.1 192.0,810.4 194.0,809.7 196.0,808.8 198.0,807.9 200.0,806.8 202.0,805.5 204.0,804.1 206.0,802.5 208.0,800.7 210.0,798.8 212.0,796.6 214.0,794.2 216.0,791.6 218.0,788.7 220.0,785.7 222.0,782.4 224.0,778.9 226.0,775.2 228.0,771.4 230.0,767.3 232.0,763.2 234.0,758.9 236.0,754.6 238.0,750.3 240.0,746.0 242.0,741.7 244.0,737.7 246.0,733.8 248.0,730.2 250.0,726.9 252.0,724.0 254.0,721.6 256.0,719.8 258.0,718.6 260.0,718.0 262.0,718.0 264.0,718.8 266.0,720.1 268.0,722.1 270.0,724.6 272.0,727.7 274.0,731.2 276.0,735.1 278.0,739.2 280.0,743.7 282.0,748.2 284.0,752.9 286.0,757.7 288.0,762.4 290.0,767.1 292.0,771.8 294.0,776.3 296.0,780.6 298.0,784.8 300.0,788.7 302.0,792.5 304.0,796.0 306.0,799.4 308.0,802.5 310.0,805.5 312.0,808.2 314.0,810.7 316.0,813.0 318.0,815.2 320.0,817.1 322.0,818.9 324.0,820.5 326.0,821.9 328.0,823.2 330.0,824.4 332.0,825.5 334.0,826.5 336.0,827.3 338.0,828.1 340.0,828.8 342.0,829.4 344.0,829.9 346.0,830.4 348.0,830.7 350.0,831.1 352.0,831.4 354.0,831.6 356.0,831.8 358.0,832.1 360.0,832.2 362.0,832.4 364.0,832.6 366.0,832.7 368.0,832.9 370.0,833.0 372.0,833.1 374.0,833.3 376.0,833.4 378.0,833.5 380.0,833.6 382.0,833.7 384.0,833.7 386.0,833.8 388.0,833.9 390.0,834.0 392.0,834.1 394.0,834.1 396.0,834.2 398.0,834.3 400.0,834.3 402.0,834.4 404.0,834.5 406.0,834.5 408.0,834.6 410.0,834.7 412.0,834.7 414.0,834.8 416.0,834.9 418.0,834.9 420.0,835.0 422.0,835.1 424.0,835.1 426.0,835.2 428.0,835.3 430.0,835.4 432.0,835.4 434.0,835.5 436.0,835.6 438.0,835.7 440.0,835.8 442.0,835.9 444.0,836.0 446.0,836.1 448.0,836.3 450.0,836.4 452.0,836.5 454.0,836.6 456.0,836.8 458.0,836.9 460.0,837.0 462.0,837.2 464.0,837.3 466.0,837.5 468.0,837.6 470.0,837.8 472.0,837.9 474.0,838.1 476.0,838.3 478.0,838.4 480.0,838.6 482.0,838.8 484.0,838.9 486.0,839.1 488.0,839.3 490.0,839.4" fill="none" stroke="#0606d6" stroke-width="4.5" stroke-linejoin="round" stroke-linecap="round" />
<polyline points="388.0,835.2 390.0,835.2 392.0,835.2 394.0,835.2 396.0,835.2 398.0,835.1 400.0,835.1 402.0,835.1 404.0,835.0 406.0,835.0 408.0,834.9 410.0,834.9 412.0,834.8 414.0,834.7 416.0,834.6 418.0,834.5 420.0,834.4 422.0,834.3 424.0,834.1 426.0,834.0 428.0,833.8 430.0,833.6 432.0,833.4 434.0,833.2 436.0,832.9 438.0,832.7 440.0,832.4 442.0,832.1 444.0,831.7 446.0,831.4 448.0,831.0 450.0,830.6 452.0,830.1 454.0,829.6 456.0,829.1 458.0,828.6 460.0,828.0 462.0,827.4 464.0,826.7 466.0,826.0 468.0,825.3 470.0,824.6 472.0,823.8 474.0,823.0 476.0,822.2 478.0,821.4 480.0,820.5 482.0,819.6 484.0,818.7 486.0,817.9 488.0,817.0 490.0,816.1 492.0,815.2 494.0,814.3 496.0,813.4 498.0,812.6 500.0,811.7 502.0,810.9 504.0,810.2 506.0,809.5 508.0,808.8 510.0,808.2 512.0,807.6 514.0,807.2 516.0,806.7 518.0,806.4 520.0,806.1 522.0,806.0 524.0,805.9 526.0,805.8 528.0,805.9 530.0,806.1 532.0,806.4 534.0,806.8 536.0,807.3 538.0,807.8 540.0,808.5 542.0,809.2 544.0,810.0 546.0,810.9 548.0,811.8 550.0,812.8 552.0,813.8 554.0,814.8 556.0,815.9 558.0,817.0 560.0,818.1 562.0,819.2 564.0,820.3 566.0,821.4 568.0,822.6 570.0,823.7 572.0,824.8 574.0,825.9 576.0,827.0 578.0,828.1 580.0,829.1 582.0,830.1 584.0,831.2 586.0,832.1 588.0,833.1 590.0,834.0 592.0,834.9 594.0,835.8 596.0,836.6 598.0,837.4 600.0,838.2 602.0,839.0 604.0,839.7 606.0,840.4 608.0,841.1 610.0,841.8 612.0,842.4 614.0,843.0 616.0,843.6 618.0,844.2 620.0,844.8 622.0,845.3 624.0,845.8 626.0,846.3 628.0,846.8 630.0,847.3 632.0,847.7 634.0,848.1 636.0,848.5 638.0,848.9 640.0,849.3 642.0,849.7 644.0,850.1 646.0,850.4 648.0,850.7 650.0,851.0 652.0,851.4 654.0,851.6 656.0,851.9 658.0,852.2 660.0,852.4 662.0,852.7 664.0,852.9 666.0,853.2 668.0,853.4" fill="none" stroke="#0606d6" stroke-width="4.5" stroke-linejoin="round" stroke-linecap="round" />
<polyline points="532.0,842.9 534.0,843.1 536.0,843.3 538.0,843.5 540.0,843.7 542.0,843.8 544.0,844.0 546.0,844.2 548.0,844.3 550.0,844.4 552.0,844.5 554.0,844.6 556.0,844.7 558.0,844.8 560.0,844.8 562.0,844.8 564.0,844.7 566.0,844.7 568.0,844.6 570.0,844.5 572.0,844.4 574.0,844.3 576.0,844.1 578.0,843.9 580.0,843.7 582.0,843.5 584.0,843.2 586.0,842.9 588.0,842.6 590.0,842.3 592.0,841.9 594.0,841.5 596.0,841.0 598.0,840.5 600.0,840.0 602.0,839.5 604.0,838.9 606.0,838.3 608.0,837.6 610.0,837.0 612.0,836.2 614.0,835.5 616.0,834.7 618.0,833.9 620.0,833.0 622.0,832.2 624.0,831.3 626.0,830.3 628.0,829.4 630.0,828.4 632.0,827.4 634.0,826.4 636.0,825.4 638.0,824.4 640.0,823.4 642.0,822.5 644.0,821.5 646.0,820.6 648.0,819.8 650.0,818.9 652.0,818.2 654.0,817.4 656.0,816.8 658.0,816.2 660.0,815.8 662.0,815.4 664.0,815.1 666.0,814.9 668.0,814.8 670.0,814.9 672.0,815.0 674.0,815.3 676.0,815.7 678.0,816.2 680.0,816.9 682.0,817.6 684.0,818.4 686.0,819.4 688.0,820.4 690.0,821.5 692.0,822.6 694.0,823.8 696.0,825.1 698.0,826.4 700.0,827.8 702.0,829.2 704.0,830.6 706.0,832.0 708.0,833.5 710.0,834.9 712.0,836.3 714.0,837.8 716.0,839.2 718.0,840.5 720.0,841.9 722.0,843.2 724.0,844.5 726.0,845.7 728.0,846.9 730.0,848.0 732.0,849.1 734.0,850.2 736.0,851.2 738.0,852.2 740.0,853.1 742.0,854.0 744.0,854.8 746.0,855.6 748.0,856.3 750.0,857.1 752.0,857.8 754.0,858.4 756.0,859.1 758.0,859.7 760.0,860.3 762.0,860.8 764.0,861.4 766.0,861.9 768.0,862.5 770.0,863.0 772.0,863.5 774.0,864.1 776.0,864.7 778.0,865.3 780.0,866.0 782.0,866.6 784.0,867.3 786.0,868.0 788.0,868.6 790.0,869.3 792.0,869.9 794.0,870.6 796.0,871.2 798.0,871.8 800.0,872.4 802.0,872.9 804.0,873.5 806.0,874.0 808.0,874.5 810.0,875.1" fill="none" stroke="#e40c0c" stroke-width="4.5" stroke-linejoin="round" stroke-linecap="round" />
<polyline points="640.0,850.4 642.0,850.6 644.0,850.8 646.0,851.0 648.0,851.1 650.0,851.3 652.0,851.4 654.0,851.6 656.0,851.6 658.0,851.7 660.0,851.6 662.0,851.5 664.0,851.4 666.0,851.1 668.0,850.7 670.0,850.1 672.0,849.3 674.0,848.3 676.0,847.1 678.0,845.6 680.0,843.7 682.0,841.5 684.0,838.9 686.0,835.8 688.0,832.4 690.0,828.5 692.0,824.2 694.0,819.6 696.0,814.6 698.0,809.3 700.0,803.9 702.0,798.4 704.0,793.0 706.0,787.8 708.0,782.9 710.0,778.5 712.0,774.8 714.0,771.8 716.0,769.6 718.0,768.5 720.0,768.3 722.0,769.2 724.0,771.1 726.0,773.9 728.0,777.5 730.0,781.9 732.0,786.9 734.0,792.3 736.0,797.9 738.0,803.8 740.0,809.7 742.0,815.5 744.0,821.0 746.0,826.4 748.0,831.3 750.0,835.9 752.0,840.1 754.0,843.9 756.0,847.2 758.0,850.2 760.0,852.8 762.0,855.0 764.0,856.9 766.0,858.6 768.0,860.0 770.0,861.2 772.0,862.3 774.0,863.3 776.0,864.2 778.0,865.1 780.0,865.9 782.0,866.6 784.0,867.4 786.0,868.1 788.0,868.8 790.0,869.5 792.0,870.1 794.0,870.8 796.0,871.4 798.0,872.0" fill="none" stroke="#0606d6" stroke-width="4.5" stroke-linejoin="round" stroke-linecap="round" />
<polyline points="702.0,856.8 704.0,856.9 706.0,856.9 708.0,856.9 710.0,856.8 712.0,856.7 714.0,856.5 716.0,856.2 718.0,855.9 720.0,855.6 722.0,855.1 724.0,854.6 726.0,854.1 728.0,853.5 730.0,852.9 732.0,852.3 734.0,851.7 736.0,851.1 738.0,850.5 740.0,850.1 742.0,849.7 744.0,849.4 746.0,849.3 748.0,849.3 750.0,849.5 752.0,849.8 754.0,850.2 756.0,850.8 758.0,851.5 760.0,852.4 762.0,853.3 764.0,854.4 766.0,855.5 768.0,856.6 770.0,857.8 772.0,858.9 774.0,860.2 776.0,861.4 778.0,862.6 780.0,863.7 782.0,864.9 784.0,865.9 786.0,867.0 788.0,868.0 790.0,868.9 792.0,869.8 794.0,870.6 796.0,871.4 798.0,872.1" fill="none" stroke="#e40c0c" stroke-width="4.5" stroke-linejoin="round" stroke-linecap="round" />
<polyline points="712.0,857.8 714.0,857.9 716.0,857.9 718.0,857.8 720.0,857.7 722.0,857.5 724.0,857.3 726.0,856.9 728.0,856.3 730.0,855.7 732.0,854.8 734.0,853.8 736.0,852.5 738.0,851.0 740.0,849.2 742.0,847.1 744.0,844.7 746.0,841.9 748.0,838.7 750.0,835.2 752.0,831.2 754.0,826.8 756.0,822.0 758.0,816.8 760.0,811.1 762.0,805.2 764.0,798.8 766.0,792.2 768.0,785.4 770.0,778.4 772.0,771.4 774.0,764.4 776.0,757.5 778.0,750.9 780.0,744.6 782.0,738.8 784.0,733.5 786.0,728.8 788.0,724.8 790.0,721.5 792.0,719.2 794.0,717.7 796.0,717.1 798.0,717.5 800.0,718.8 802.0,721.0 804.0,724.2 806.0,728.2 808.0,733.0 810.0,738.5 812.0,744.7 814.0,751.5 816.0,758.6 818.0,766.2 820.0,773.9 822.0,781.8 824.0,789.7 826.0,797.5 828.0,805.2 830.0,812.7 832.0,819.9 834.0,826.8 836.0,833.3 838.0,839.4 840.0,845.1 842.0,850.3 844.0,855.2 846.0,859.6 848.0,863.6 850.0,867.2 852.0,870.4 854.0,873.3 856.0,875.8 858.0,878.1 860.0,880.1 862.0,881.8 864.0,883.3 866.0,884.7 868.0,885.8 870.0,886.9 872.0,887.7 874.0,888.5 876.0,889.2 878.0,889.7 880.0,890.2 882.0,890.7" fill="none" stroke="#0606d6" stroke-width="4.5" stroke-linejoin="round" stroke-linecap="round" />
<polyline points="790.0,869.7 792.0,870.3 794.0,870.8 796.0,871.4 798.0,871.9 800.0,872.5 802.0,873.0 804.0,873.5 806.0,874.0 808.0,874.5 810.0,875.0 812.0,875.5 814.0,876.0 816.0,876.5 818.0,877.0 820.0,877.5 822.0,878.0 824.0,878.5 826.0,879.0 828.0,879.4 830.0,879.9 832.0,880.4 834.0,880.8 836.0,881.3 838.0,881.7 840.0,882.1 842.0,882.6 844.0,883.0 846.0,883.4 848.0,883.9 850.0,884.3 852.0,884.8 854.0,885.2 856.0,885.6 858.0,886.0 860.0,886.4 862.0,886.8 864.0,887.2 866.0,887.6 868.0,888.0 870.0,888.3 872.0,888.7 874.0,889.0 876.0,889.3 878.0,889.5 880.0,889.8 882.0,890.0 884.0,890.2 886.0,890.5 888.0,890.7 890.0,890.9 892.0,891.0 894.0,891.2 896.0,891.3 898.0,891.4 900.0,891.5 902.0,891.5 904.0,891.5 906.0,891.5 908.0,891.5 910.0,891.5 912.0,891.5 914.0,891.5 916.0,891.5 918.0,891.5 920.0,891.4 922.0,891.4 924.0,891.3 926.0,891.3 928.0,891.2 930.0,891.1 932.0,891.1 934.0,891.0 936.0,890.8 938.0,890.7 940.0,890.6 942.0,890.4 944.0,890.3 946.0,890.1 948.0,889.9 950.0,889.7 952.0,889.5 954.0,889.2 956.0,888.9 958.0,888.7 960.0,888.3 962.0,888.0 964.0,887.6 966.0,887.3 968.0,886.8 970.0,886.4 972.0,885.9 974.0,885.4 976.0,884.9 978.0,884.3 980.0,883.7 982.0,883.0 984.0,882.4 986.0,881.7 988.0,880.9 990.0,880.1 992.0,879.3 994.0,878.5 996.0,877.6 998.0,876.7 1000.0,875.7 1002.0,874.7 1004.0,873.7 1006.0,872.6 1008.0,871.5 1010.0,870.4 1012.0,869.2 1014.0,868.0 1016.0,866.8 1018.0,865.6 1020.0,864.3 1022.0,863.0 1024.0,861.7 1026.0,860.4 1028.0,859.0 1030.0,857.7 1032.0,856.4 1034.0,855.1 1036.0,853.7 1038.0,852.5 1040.0,851.2 1042.0,850.0 1044.0,848.8 1046.0,847.6 1048.0,846.5 1050.0,845.5 1052.0,844.5 1054.0,843.6 1056.0,842.8 1058.0,842.1 1060.0,841.4 1062.0,840.9 1064.0,840.5 1066.0,840.1 1068.0,839.9 1070.0,839.9 1072.0,839.9 1074.0,840.1 1076.0,840.4 1078.0,840.8 1080.0,841.4 1082.0,842.1 1084.0,842.9 1086.0,843.9 1088.0,844.9 1090.0,846.1 1092.0,847.3 1094.0,848.6 1096.0,850.1 1098.0,851.5 1100.0,853.1 1102.0,854.7 1104.0,856.4 1106.0,858.1 1108.0,859.8 1110.0,861.6 1112.0,863.4 1114.0,865.2 1116.0,867.0 1118.0,868.8 1120.0,870.6 1122.0,872.3 1124.0,874.1 1126.0,875.9 1128.0,877.6 1130.0,879.3 1132.0,880.9 1134.0,882.5 1136.0,884.1 1138.0,885.7 1140.0,887.2 1142.0,888.6 1144.0,890.0 1146.0,891.4 1148.0,892.7 1150.0,894.0 1152.0,895.3 1154.0,896.4 1156.0,897.6 1158.0,898.7 1160.0,899.7 1162.0,900.7 1164.0,901.7 1166.0,902.6 1168.0,903.5 1170.0,904.3 1172.0,905.1 1174.0,905.9 1176.0,906.6 1178.0,907.3 1180.0,908.0 1182.0,908.6 1184.0,909.3 1186.0,909.8 1188.0,910.4 1190.0,911.0 1192.0,911.5 1194.0,912.0 1196.0,912.5 1198.0,913.0 1200.0,913.4 1202.0,913.9 1204.0,914.3 1206.0,914.8 1208.0,915.2 1210.0,915.6 1212.0,916.0 1214.0,916.4 1216.0,916.8 1218.0,917.2 1220.0,917.6 1222.0,918.0 1224.0,918.4 1226.0,918.8 1228.0,919.2 1230.0,919.6 1232.0,920.0 1234.0,920.3 1236.0,920.7 1238.0,921.1 1240.0,921.5 1242.0,921.9 1244.0,922.3 1246.0,922.7 1248.0,923.1 1250.0,923.5 1252.0,924.0 1254.0,924.4 1256.0,924.8 1258.0,925.2 1260.0,925.7 1262.0,926.1 1264.0,926.6 1266.0,927.1 1268.0,927.7 1270.0,928.3 1272.0,928.9 1274.0,929.5 1276.0,930.1 1278.0,930.7 1280.0,931.3 1282.0,932.0 1284.0,932.6 1286.0,933.2 1288.0,933.8 1290.0,934.3 1292.0,934.9 1294.0,935.4 1296.0,935.9 1298.0,936.3 1300.0,936.7 1302.0,937.1 1304.0,937.4 1306.0,937.8 1308.0,938.1 1310.0,938.5 1312.0,938.8 1314.0,939.1 1316.0,939.4 1318.0,939.7 1320.0,940.0 1322.0,940.3 1324.0,940.6 1326.0,940.8 1328.0,941.1 1330.0,941.3 1332.0,941.5 1334.0,941.8 1336.0,942.0 1338.0,942.2 1340.0,942.3 1342.0,942.5 1344.0,942.7 1346.0,942.8 1348.0,943.0 1350.0,943.2 1352.0,943.4 1354.0,943.5 1356.0,943.7" fill="none" stroke="#0606d6" stroke-width="4.5" stroke-linejoin="round" stroke-linecap="round" />
<polyline points="1084.0,904.9 1086.0,905.1 1088.0,905.2 1090.0,905.4 1092.0,905.5 1094.0,905.6 1096.0,905.7 1098.0,905.8 1100.0,905.8 1102.0,905.8 1104.0,905.8 1106.0,905.7 1108.0,905.6 1110.0,905.5 1112.0,905.3 1114.0,905.0 1116.0,904.8 1118.0,904.4 1120.0,904.0 1122.0,903.6 1124.0,903.0 1126.0,902.5 1128.0,901.8 1130.0,901.1 1132.0,900.3 1134.0,899.4 1136.0,898.5 1138.0,897.5 1140.0,896.4 1142.0,895.2 1144.0,894.0 1146.0,892.7 1148.0,891.3 1150.0,889.9 1152.0,888.4 1154.0,886.8 1156.0,885.2 1158.0,883.6 1160.0,881.9 1162.0,880.1 1164.0,878.4 1166.0,876.6 1168.0,874.9 1170.0,873.1 1172.0,871.4 1174.0,869.7 1176.0,868.0 1178.0,866.4 1180.0,864.8 1182.0,863.3 1184.0,861.9 1186.0,860.5 1188.0,859.3 1190.0,858.2 1192.0,857.2 1194.0,856.4 1196.0,855.7 1198.0,855.1 1200.0,854.7 1202.0,854.4 1204.0,854.3 1206.0,854.4 1208.0,854.6 1210.0,855.0 1212.0,855.6 1214.0,856.3 1216.0,857.2 1218.0,858.2 1220.0,859.4 1222.0,860.7 1224.0,862.2 1226.0,863.8 1228.0,865.5 1230.0,867.3 1232.0,869.2 1234.0,871.2 1236.0,873.3 1238.0,875.4 1240.0,877.6 1242.0,879.8 1244.0,882.1 1246.0,884.4 1248.0,886.7 1250.0,889.0 1252.0,891.3 1254.0,893.6 1256.0,895.8 1258.0,898.1 1260.0,900.2 1262.0,902.4 1264.0,904.6 1266.0,906.7 1268.0,908.8 1270.0,910.8 1272.0,912.8 1274.0,914.8 1276.0,916.6 1278.0,918.5 1280.0,920.2 1282.0,921.9 1284.0,923.5 1286.0,925.0 1288.0,926.5 1290.0,927.8 1292.0,929.1 1294.0,930.3 1296.0,931.4 1298.0,932.4 1300.0,933.3 1302.0,934.1 1304.0,934.9 1306.0,935.6 1308.0,936.3 1310.0,936.9 1312.0,937.5 1314.0,938.1 1316.0,938.6 1318.0,939.1 1320.0,939.6 1322.0,940.0 1324.0,940.4 1326.0,940.8 1328.0,941.1 1330.0,941.5" fill="none" stroke="#e40c0c" stroke-width="4.5" stroke-linejoin="round" stroke-linecap="round" />
<polyline points="1196.0,916.4 1198.0,916.4 1200.0,916.3 1202.0,916.2 1204.0,915.9 1206.0,915.6 1208.0,915.0 1210.0,914.3 1212.0,913.3 1214.0,912.0 1216.0,910.4 1218.0,908.4 1220.0,906.0 1222.0,903.2 1224.0,899.9 1226.0,896.0 1228.0,891.6 1230.0,886.6 1232.0,881.2 1234.0,875.2 1236.0,868.8 1238.0,862.0 1240.0,854.9 1242.0,847.7 1244.0,840.5 1246.0,833.4 1248.0,826.6 1250.0,820.3 1252.0,814.6 1254.0,809.7 1256.0,805.7 1258.0,802.8 1260.0,801.0 1262.0,800.5 1264.0,801.2 1266.0,803.2 1268.0,806.4 1270.0,810.7 1272.0,816.0 1274.0,822.2 1276.0,829.2 1278.0,836.7 1280.0,844.6 1282.0,852.7 1284.0,860.9 1286.0,869.0 1288.0,876.9 1290.0,884.4 1292.0,891.5 1294.0,898.1 1296.0,904.1 1298.0,909.6 1300.0,914.5 1302.0,918.8 1304.0,922.5 1306.0,925.8 1308.0,928.6 1310.0,931.0 1312.0,933.1 1314.0,934.8 1316.0,936.3 1318.0,937.5 1320.0,938.5 1322.0,939.3 1324.0,940.0 1326.0,940.6 1328.0,941.1 1330.0,941.5" fill="none" stroke="#0606d6" stroke-width="4.5" stroke-linejoin="round" stroke-linecap="round" />
<polyline points="1244.0,923.4 1246.0,923.6 1248.0,923.9 1250.0,924.2 1252.0,924.4 1254.0,924.6 1256.0,924.8 1258.0,924.8 1260.0,924.8 1262.0,924.8 1264.0,924.6 1266.0,924.4 1268.0,924.1 1270.0,923.6 1272.0,923.0 1274.0,922.3 1276.0,921.6 1278.0,920.7 1280.0,919.8 1282.0,919.0 1284.0,918.2 1286.0,917.5 1288.0,917.1 1290.0,916.9 1292.0,917.1 1294.0,917.6 1296.0,918.5 1298.0,919.7 1300.0,921.2 1302.0,922.8 1304.0,924.5 1306.0,926.4 1308.0,928.2 1310.0,929.9 1312.0,931.6 1314.0,933.2 1316.0,934.6 1318.0,935.8 1320.0,937.0 1322.0,937.9 1324.0,938.8 1326.0,939.5 1328.0,940.1 1330.0,940.6 1332.0,941.1 1334.0,941.5 1336.0,941.8 1338.0,942.1 1340.0,942.4 1342.0,942.6" fill="none" stroke="#e40c0c" stroke-width="4.5" stroke-linejoin="round" stroke-linecap="round" />
<polyline points="130.0,814.1 132.0,814.1 134.0,814.1 136.0,814.2 138.0,814.2 140.0,814.2 142.0,814.2 144.0,814.2 146.0,814.2 148.0,814.2 150.0,814.2 152.0,814.2 154.0,814.2 156.0,814.2 158.0,814.1 160.0,814.1 162.0,814.1 164.0,814.0 166.0,813.9 168.0,813.9 170.0,813.8 172.0,813.6 174.0,813.5 176.0,813.3 178.0,813.1 180.0,812.9 182.0,812.6 184.0,812.3 186.0,811.9 188.0,811.4 190.0,810.8 192.0,810.2 194.0,809.5 196.0,808.6 198.0,807.7 200.0,806.5 202.0,805.3 204.0,803.9 206.0,802.3 208.0,800.5 210.0,798.5 212.0,796.3 214.0,793.9 216.0,791.3 218.0,788.5 220.0,785.4 222.0,782.1 224.0,778.7 226.0,775.0 228.0,771.1 230.0,767.1 232.0,762.9 234.0,758.7 236.0,754.4 238.0,750.0 240.0,745.7 242.0,741.5 244.0,737.4 246.0,733.5 248.0,729.9 250.0,726.6 252.0,723.7 254.0,721.3 256.0,719.5 258.0,718.3 260.0,717.7 262.0,717.7 264.0,718.4 266.0,719.8 268.0,721.8 270.0,724.3 272.0,727.4 274.0,730.9 276.0,734.7 278.0,738.9 280.0,743.3 282.0,747.9 284.0,752.6 286.0,757.3 288.0,762.1 290.0,766.8 292.0,771.4 294.0,775.9 296.0,780.2 298.0,784.4 300.0,788.3 302.0,792.1 304.0,795.7 306.0,799.0 308.0,802.1 310.0,805.1 312.0,807.8 314.0,810.3 316.0,812.6 318.0,814.7 320.0,816.7 322.0,818.4 324.0,820.0 326.0,821.5 328.0,822.8 330.0,824.0 332.0,825.0 334.0,826.0 336.0,826.8 338.0,827.6 340.0,828.3 342.0,828.9 344.0,829.4 346.0,829.8 348.0,830.2 350.0,830.5 352.0,830.8 354.0,831.1 356.0,831.3 358.0,831.5 360.0,831.7 362.0,831.8 364.0,832.0 366.0,832.1 368.0,832.2 370.0,832.4 372.0,832.5 374.0,832.6 376.0,832.7 378.0,832.7 380.0,832.8 382.0,832.9 384.0,832.9 386.0,833.0 388.0,833.1 390.0,833.1 392.0,833.1 394.0,833.2 396.0,833.2 398.0,833.2 400.0,833.2 402.0,833.2 404.0,833.2 406.0,833.2 408.0,833.2 410.0,833.2 412.0,833.1 414.0,833.1 416.0,833.0 418.0,832.9 420.0,832.9 422.0,832.8 424.0,832.6 426.0,832.5 428.0,832.4 430.0,832.2 432.0,832.0 434.0,831.8 436.0,831.6 438.0,831.3 440.0,831.0 442.0,830.7 444.0,830.4 446.0,830.1 448.0,829.7 450.0,829.3 452.0,828.8 454.0,828.4 456.0,827.9 458.0,827.3 460.0,826.7 462.0,826.1 464.0,825.5 466.0,824.8 468.0,824.1 470.0,823.4 472.0,822.6 474.0,821.9 476.0,821.0 478.0,820.2 480.0,819.4 482.0,818.5 484.0,817.6 486.0,816.7 488.0,815.8 490.0,814.9 492.0,814.0 494.0,813.1 496.0,812.3 498.0,811.4 500.0,810.6 502.0,809.8 504.0,809.0 506.0,808.3 508.0,807.6 510.0,807.0 512.0,806.5 514.0,806.0 516.0,805.6 518.0,805.2 520.0,804.9 522.0,804.7 524.0,804.6 526.0,804.6 528.0,804.7 530.0,804.8 532.0,805.1 534.0,805.5 536.0,805.9 538.0,806.5 540.0,807.1 542.0,807.8 544.0,808.6 546.0,809.4 548.0,810.3 550.0,811.2 552.0,812.2 554.0,813.1 556.0,814.1 558.0,815.2 560.0,816.2 562.0,817.2 564.0,818.2 566.0,819.2 568.0,820.2 570.0,821.1 572.0,822.1 574.0,823.0 576.0,823.9 578.0,824.7 580.0,825.5 582.0,826.3 584.0,827.0 586.0,827.6 588.0,828.2 590.0,828.7 592.0,829.2 594.0,829.5 596.0,829.9 598.0,830.1 600.0,830.3 602.0,830.4 604.0,830.4 606.0,830.4 608.0,830.3 610.0,830.1 612.0,829.9 614.0,829.6 616.0,829.2 618.0,828.8 620.0,828.2 622.0,827.7 624.0,827.1 626.0,826.4 628.0,825.7 630.0,824.9 632.0,824.2 634.0,823.3 636.0,822.5 638.0,821.6 640.0,820.8 642.0,819.9 644.0,819.0 646.0,818.2 648.0,817.4 650.0,816.5 652.0,815.8 654.0,815.0 656.0,814.3 658.0,813.6 660.0,812.9 662.0,812.3 664.0,811.7 666.0,811.1 668.0,810.4 670.0,809.7 672.0,809.0 674.0,808.1 676.0,807.1 678.0,805.9 680.0,804.5 682.0,802.8 684.0,800.8 686.0,798.5 688.0,795.8 690.0,792.8 692.0,789.5 694.0,785.8 696.0,781.8 698.0,777.6 700.0,773.3 702.0,768.8 704.0,764.4 706.0,760.2 708.0,756.2 710.0,752.7 712.0,749.7 714.0,747.4 716.0,745.8 718.0,745.0 720.0,745.1 722.0,746.0 724.0,747.8 726.0,750.3 728.0,753.4 730.0,757.0 732.0,761.0 734.0,765.2 736.0,769.4 738.0,773.6 740.0,777.5 742.0,781.0 744.0,784.2 746.0,786.7 748.0,788.6 750.0,789.8 752.0,790.4 754.0,790.1 756.0,789.2 758.0,787.4 760.0,785.0 762.0,782.0 764.0,778.3 766.0,774.1 768.0,769.4 770.0,764.3 772.0,759.0 774.0,753.5 776.0,748.0 778.0,742.6 780.0,737.3 782.0,732.3 784.0,727.8 786.0,723.7 788.0,720.3 790.0,717.6 792.0,715.6 794.0,714.4 796.0,714.1 798.0,714.7 800.0,716.2 802.0,718.6 804.0,721.9 806.0,726.0 808.0,730.9 810.0,736.5 812.0,742.8 814.0,749.5 816.0,756.7 818.0,764.3 820.0,772.1 822.0,780.0 824.0,787.9 826.0,795.8 828.0,803.5 830.0,811.0 832.0,818.2 834.0,825.1 836.0,831.6 838.0,837.7 840.0,843.4 842.0,848.6 844.0,853.5 846.0,857.9 848.0,861.9 850.0,865.5 852.0,868.7 854.0,871.6 856.0,874.1 858.0,876.4 860.0,878.4 862.0,880.1 864.0,881.6 866.0,883.0 868.0,884.1 870.0,885.1 872.0,886.0 874.0,886.7 876.0,887.4 878.0,887.9 880.0,888.4 882.0,888.8 884.0,889.2 886.0,889.6 888.0,889.9 890.0,890.1 892.0,890.4 894.0,890.6 896.0,890.7 898.0,890.8 900.0,890.9 902.0,891.0 904.0,891.0 906.0,891.0 908.0,891.1 910.0,891.1 912.0,891.1 914.0,891.1 916.0,891.1 918.0,891.0 920.0,891.0 922.0,891.0 924.0,890.9 926.0,890.9 928.0,890.8 930.0,890.7 932.0,890.7 934.0,890.6 936.0,890.5 938.0,890.3 940.0,890.2 942.0,890.1 944.0,889.9 946.0,889.7 948.0,889.5 950.0,889.3 952.0,889.1 954.0,888.9 956.0,888.6 958.0,888.3 960.0,888.0 962.0,887.7 964.0,887.3 966.0,886.9 968.0,886.5 970.0,886.1 972.0,885.6 974.0,885.1 976.0,884.6 978.0,884.0 980.0,883.4 982.0,882.7 984.0,882.1 986.0,881.4 988.0,880.6 990.0,879.9 992.0,879.0 994.0,878.2 996.0,877.3 998.0,876.4 1000.0,875.5 1002.0,874.5 1004.0,873.4 1006.0,872.4 1008.0,871.3 1010.0,870.1 1012.0,869.0 1014.0,867.8 1016.0,866.6 1018.0,865.3 1020.0,864.0 1022.0,862.7 1024.0,861.4 1026.0,860.1 1028.0,858.8 1030.0,857.5 1032.0,856.1 1034.0,854.8 1036.0,853.5 1038.0,852.2 1040.0,850.9 1042.0,849.7 1044.0,848.5 1046.0,847.4 1048.0,846.3 1050.0,845.2 1052.0,844.2 1054.0,843.3 1056.0,842.5 1058.0,841.8 1060.0,841.1 1062.0,840.6 1064.0,840.1 1066.0,839.8 1068.0,839.6 1070.0,839.5 1072.0,839.5 1074.0,839.6 1076.0,839.9 1078.0,840.3 1080.0,840.8 1082.0,841.4 1084.0,842.2 1086.0,843.0 1088.0,844.0 1090.0,845.0 1092.0,846.1 1094.0,847.3 1096.0,848.5 1098.0,849.8 1100.0,851.2 1102.0,852.5 1104.0,853.9 1106.0,855.3 1108.0,856.7 1110.0,858.1 1112.0,859.5 1114.0,860.8 1116.0,862.1 1118.0,863.3 1120.0,864.5 1122.0,865.6 1124.0,866.6 1126.0,867.6 1128.0,868.5 1130.0,869.2 1132.0,869.9 1134.0,870.5 1136.0,870.9 1138.0,871.3 1140.0,871.5 1142.0,871.6 1144.0,871.6 1146.0,871.5 1148.0,871.3 1150.0,871.0 1152.0,870.6 1154.0,870.0 1156.0,869.4 1158.0,868.7 1160.0,867.8 1162.0,867.0 1164.0,866.0 1166.0,865.0 1168.0,863.9 1170.0,862.8 1172.0,861.7 1174.0,860.6 1176.0,859.4 1178.0,858.3 1180.0,857.2 1182.0,856.2 1184.0,855.1 1186.0,854.2 1188.0,853.3 1190.0,852.4 1192.0,851.7 1194.0,851.0 1196.0,850.4 1198.0,849.8 1200.0,849.4 1202.0,848.9 1204.0,848.5 1206.0,848.1 1208.0,847.7 1210.0,847.3 1212.0,846.7 1214.0,846.0 1216.0,845.1 1218.0,844.0 1220.0,842.6 1222.0,840.9 1224.0,838.8 1226.0,836.3 1228.0,833.3 1230.0,829.9 1232.0,826.0 1234.0,821.8 1236.0,817.1 1238.0,812.2 1240.0,807.0 1242.0,801.6 1244.0,796.3 1246.0,791.1 1248.0,786.2 1250.0,781.7 1252.0,777.9 1254.0,774.7 1256.0,772.4 1258.0,771.0 1260.0,770.7 1262.0,771.4 1264.0,773.2 1266.0,776.1 1268.0,780.0 1270.0,784.9 1272.0,790.5 1274.0,796.9 1276.0,803.7 1278.0,811.0 1280.0,818.6 1282.0,826.4 1284.0,834.2 1286.0,842.0 1288.0,849.8 1290.0,857.4 1292.0,864.9 1294.0,872.3 1296.0,879.4 1298.0,886.2 1300.0,892.7 1302.0,898.8 1304.0,904.4 1306.0,909.6 1308.0,914.2 1310.0,918.4 1312.0,922.1 1314.0,925.4 1316.0,928.2 1318.0,930.6 1320.0,932.6 1322.0,934.3 1324.0,935.7 1326.0,936.9 1328.0,937.9 1330.0,938.8 1332.0,939.4 1334.0,940.0 1336.0,940.5 1338.0,940.9 1340.0,941.3 1342.0,941.6 1344.0,941.8 1346.0,942.1 1348.0,942.4 1350.0,942.6 1352.0,942.8 1354.0,943.0 1356.0,943.2 1358.0,943.4 1360.0,943.6 1362.0,943.8 1364.0,944.0 1366.0,944.1 1368.0,944.3 1370.0,944.5 1372.0,944.6 1374.0,944.8 1376.0,944.9 1378.0,945.1 1380.0,945.2 1382.0,945.3 1384.0,945.5 1386.0,945.6 1388.0,945.7 1390.0,945.8 1392.0,945.9 1394.0,946.0 1396.0,946.1 1398.0,946.2 1400.0,946.3 1402.0,946.3 1404.0,946.4 1406.0,946.5 1408.0,946.5 1410.0,946.5 1412.0,946.6 1414.0,946.6 1416.0,946.6" fill="none" stroke="#0606d6" stroke-width="7" stroke-linejoin="round" stroke-linecap="round" />
<polyline points="130.0,1308.9 132.0,1310.6 134.0,1309.4 136.0,1309.6 138.0,1310.7 140.0,1309.3 142.0,1309.1 144.0,1310.0 146.0,1310.7 148.0,1310.1 150.0,1308.4 152.0,1309.1 154.0,1309.4 156.0,1311.0 158.0,1310.1 160.0,1310.0 162.0,1310.2 164.0,1308.9 166.0,1309.4 168.0,1309.3 170.0,1308.0 172.0,1308.5 174.0,1308.8 176.0,1307.2 178.0,1308.4 180.0,1308.1 182.0,1307.9 184.0,1306.0 186.0,1306.2 188.0,1306.6 190.0,1305.4 192.0,1303.4 194.0,1303.3 196.0,1303.2 198.0,1300.8 200.0,1299.9 202.0,1300.2 204.0,1296.5 206.0,1294.6 208.0,1291.9 210.0,1290.0 212.0,1289.3 214.0,1285.4 216.0,1281.8 218.0,1279.0 220.0,1276.6 222.0,1273.9 224.0,1269.2 226.0,1266.7 228.0,1262.0 230.0,1258.9 232.0,1255.2 234.0,1251.4 236.0,1246.7 238.0,1243.1 240.0,1240.0 242.0,1235.1 244.0,1233.0 246.0,1230.4 248.0,1228.2 250.0,1225.2 252.0,1223.3 254.0,1222.4 256.0,1221.0 258.0,1221.3 260.0,1222.3 262.0,1223.2 264.0,1223.7 266.0,1226.4 268.0,1227.5 270.0,1232.8 272.0,1235.0 274.0,1239.2 276.0,1242.0 278.0,1246.9 280.0,1251.4 282.0,1256.1 284.0,1258.5 286.0,1264.5 288.0,1268.0 290.0,1271.6 292.0,1276.6 294.0,1279.9 296.0,1283.6 298.0,1286.8 300.0,1290.9 302.0,1293.9 304.0,1296.7 306.0,1298.8 308.0,1301.8 310.0,1304.9 312.0,1307.8 314.0,1308.8 316.0,1311.8 318.0,1312.4 320.0,1313.0 322.0,1315.7 324.0,1315.5 326.0,1317.6 328.0,1319.0 330.0,1318.7 332.0,1319.5 334.0,1322.2 336.0,1320.9 338.0,1321.4 340.0,1322.2 342.0,1321.8 344.0,1322.1 346.0,1322.7 348.0,1320.7 350.0,1323.8 352.0,1322.0 354.0,1322.0 356.0,1323.4 358.0,1323.1 360.0,1322.1 362.0,1323.3 364.0,1322.3 366.0,1322.6 368.0,1322.0 370.0,1322.6 372.0,1323.6 374.0,1323.4 376.0,1323.5 378.0,1324.0 380.0,1323.3 382.0,1322.8 384.0,1323.1 386.0,1324.6 388.0,1323.3 390.0,1323.6 392.0,1323.2 394.0,1323.5 396.0,1323.6 398.0,1323.3 400.0,1323.1 402.0,1322.6 404.0,1322.6 406.0,1323.6 408.0,1323.8 410.0,1323.9 412.0,1323.2 414.0,1322.4 416.0,1323.6 418.0,1323.5 420.0,1321.7 422.0,1323.5 424.0,1323.3 426.0,1324.0 428.0,1321.7 430.0,1321.5 432.0,1323.0 434.0,1320.8 436.0,1321.5 438.0,1321.0 440.0,1320.8 442.0,1319.9 444.0,1321.0 446.0,1321.7 448.0,1321.0 450.0,1320.7 452.0,1319.7 454.0,1320.8 456.0,1319.7 458.0,1319.7 460.0,1317.2 462.0,1318.3 464.0,1316.6 466.0,1317.3 468.0,1316.6 470.0,1315.0 472.0,1315.5 474.0,1315.7 476.0,1314.6 478.0,1314.1 480.0,1312.3 482.0,1311.7 484.0,1310.5 486.0,1310.7 488.0,1310.7 490.0,1309.3 492.0,1308.2 494.0,1306.5 496.0,1307.0 498.0,1305.7 500.0,1303.6 502.0,1303.0 504.0,1303.4 506.0,1302.3 508.0,1303.7 510.0,1301.8 512.0,1300.4 514.0,1300.4 516.0,1301.6 518.0,1299.1 520.0,1300.1 522.0,1299.6 524.0,1300.1 526.0,1299.2 528.0,1298.3 530.0,1299.0 532.0,1298.6 534.0,1299.5 536.0,1298.8 538.0,1300.6 540.0,1299.2 542.0,1300.0 544.0,1299.5 546.0,1300.6 548.0,1301.1 550.0,1301.7 552.0,1303.0 554.0,1302.5 556.0,1303.0 558.0,1305.3 560.0,1305.0 562.0,1305.5 564.0,1307.8 566.0,1308.4 568.0,1306.6 570.0,1309.3 572.0,1311.2 574.0,1312.2 576.0,1312.1 578.0,1314.7 580.0,1313.8 582.0,1315.1 584.0,1316.3 586.0,1317.1 588.0,1318.6 590.0,1319.6 592.0,1319.6 594.0,1321.5 596.0,1320.5 598.0,1321.5 600.0,1323.6 602.0,1322.9 604.0,1324.1 606.0,1323.3 608.0,1323.7 610.0,1324.0 612.0,1324.4 614.0,1324.1 616.0,1324.3 618.0,1324.8 620.0,1325.0 622.0,1323.9 624.0,1324.0 626.0,1323.8 628.0,1321.7 630.0,1320.8 632.0,1322.8 634.0,1321.9 636.0,1320.2 638.0,1319.7 640.0,1317.9 642.0,1316.8 644.0,1317.4 646.0,1315.2 648.0,1316.3 650.0,1314.2 652.0,1314.2 654.0,1314.8 656.0,1313.9 658.0,1311.4 660.0,1311.7 662.0,1309.1 664.0,1308.6 666.0,1308.4 668.0,1308.2 670.0,1305.4 672.0,1305.0 674.0,1303.2 676.0,1300.4 678.0,1299.4 680.0,1298.5 682.0,1294.8 684.0,1292.5 686.0,1289.8 688.0,1285.3 690.0,1283.3 692.0,1279.8 694.0,1275.9 696.0,1271.6 698.0,1266.1 700.0,1262.0 702.0,1257.9 704.0,1254.1 706.0,1250.8 708.0,1249.2 710.0,1247.1 712.0,1243.6 714.0,1243.6 716.0,1241.6 718.0,1242.6 720.0,1243.2 722.0,1244.5 724.0,1248.4 726.0,1251.4 728.0,1254.6 730.0,1258.4 732.0,1262.1 734.0,1266.9 736.0,1270.6 738.0,1275.1 740.0,1277.5 742.0,1281.7 744.0,1284.5 746.0,1286.9 748.0,1287.9 750.0,1287.5 752.0,1286.3 754.0,1284.0 756.0,1283.3 758.0,1281.5 760.0,1278.0 762.0,1270.4 764.0,1267.1 766.0,1262.3 768.0,1256.4 770.0,1252.0 772.0,1246.5 774.0,1240.9 776.0,1236.4 778.0,1230.7 780.0,1227.1 782.0,1223.6 784.0,1222.1 786.0,1217.7 788.0,1217.1 790.0,1216.9 792.0,1216.0 794.0,1217.2 796.0,1217.2 798.0,1220.2 800.0,1223.3 802.0,1227.9 804.0,1231.0 806.0,1236.5 808.0,1240.8 810.0,1246.9 812.0,1254.5 814.0,1260.4 816.0,1268.1 818.0,1274.7 820.0,1283.0 822.0,1289.9 824.0,1294.0 826.0,1302.6 828.0,1307.7 830.0,1313.7 832.0,1318.9 834.0,1325.0 836.0,1328.5 838.0,1333.5 840.0,1337.7 842.0,1342.5 844.0,1346.6 846.0,1349.7 848.0,1352.4 850.0,1354.3 852.0,1355.8 854.0,1359.7 856.0,1361.5 858.0,1363.4 860.0,1365.9 862.0,1366.0 864.0,1367.2 866.0,1366.7 868.0,1370.0 870.0,1370.5 872.0,1370.7 874.0,1372.4 876.0,1371.9 878.0,1372.9 880.0,1375.5 882.0,1375.0 884.0,1375.6 886.0,1375.9 888.0,1376.3 890.0,1376.4 892.0,1378.6 894.0,1377.2 896.0,1378.3 898.0,1378.0 900.0,1378.4 902.0,1376.7 904.0,1377.1 906.0,1379.8 908.0,1379.8 910.0,1378.2 912.0,1378.5 914.0,1378.9 916.0,1377.6 918.0,1379.8 920.0,1377.5 922.0,1377.7 924.0,1376.0 926.0,1379.3 928.0,1378.1 930.0,1379.2 932.0,1377.0 934.0,1378.0 936.0,1377.7 938.0,1377.7 940.0,1379.0 942.0,1379.0 944.0,1378.2 946.0,1376.6 948.0,1377.4 950.0,1377.6 952.0,1376.8 954.0,1376.5 956.0,1376.2 958.0,1374.8 960.0,1375.5 962.0,1376.3 964.0,1373.8 966.0,1374.4 968.0,1374.6 970.0,1372.5 972.0,1373.0 974.0,1371.3 976.0,1371.8 978.0,1370.6 980.0,1370.5 982.0,1370.3 984.0,1369.9 986.0,1369.3 988.0,1366.9 990.0,1369.4 992.0,1367.2 994.0,1365.8 996.0,1365.4 998.0,1365.4 1000.0,1363.4 1002.0,1363.0 1004.0,1362.1 1006.0,1361.9 1008.0,1359.9 1010.0,1359.9 1012.0,1358.7 1014.0,1357.3 1016.0,1357.3 1018.0,1355.2 1020.0,1353.1 1022.0,1353.1 1024.0,1351.8 1026.0,1350.5 1028.0,1349.6 1030.0,1350.1 1032.0,1347.2 1034.0,1346.3 1036.0,1344.6 1038.0,1344.7 1040.0,1342.5 1042.0,1340.8 1044.0,1339.5 1046.0,1339.9 1048.0,1339.1 1050.0,1336.4 1052.0,1336.3 1054.0,1336.6 1056.0,1336.3 1058.0,1333.8 1060.0,1334.1 1062.0,1334.7 1064.0,1333.2 1066.0,1333.1 1068.0,1332.9 1070.0,1332.3 1072.0,1333.5 1074.0,1333.9 1076.0,1332.9 1078.0,1334.5 1080.0,1335.8 1082.0,1335.7 1084.0,1337.0 1086.0,1336.6 1088.0,1339.1 1090.0,1338.3 1092.0,1341.4 1094.0,1340.7 1096.0,1341.6 1098.0,1342.6 1100.0,1344.1 1102.0,1345.3 1104.0,1346.3 1106.0,1347.8 1108.0,1349.8 1110.0,1351.1 1112.0,1351.3 1114.0,1353.7 1116.0,1352.9 1118.0,1353.9 1120.0,1354.8 1122.0,1357.0 1124.0,1356.1 1126.0,1356.9 1128.0,1359.7 1130.0,1360.6 1132.0,1360.8 1134.0,1358.9 1136.0,1360.3 1138.0,1361.2 1140.0,1360.6 1142.0,1359.2 1144.0,1360.1 1146.0,1358.8 1148.0,1358.9 1150.0,1361.2 1152.0,1359.5 1154.0,1357.3 1156.0,1356.6 1158.0,1357.5 1160.0,1356.0 1162.0,1356.1 1164.0,1354.4 1166.0,1353.9 1168.0,1353.4 1170.0,1351.6 1172.0,1350.1 1174.0,1349.9 1176.0,1349.5 1178.0,1349.2 1180.0,1348.6 1182.0,1348.0 1184.0,1347.8 1186.0,1346.2 1188.0,1347.5 1190.0,1347.6 1192.0,1345.9 1194.0,1345.4 1196.0,1345.9 1198.0,1345.1 1200.0,1344.3 1202.0,1343.6 1204.0,1342.6 1206.0,1341.6 1208.0,1342.3 1210.0,1341.7 1212.0,1338.7 1214.0,1337.9 1216.0,1336.4 1218.0,1333.7 1220.0,1331.0 1222.0,1328.4 1224.0,1324.0 1226.0,1321.9 1228.0,1317.8 1230.0,1315.5 1232.0,1310.1 1234.0,1304.4 1236.0,1299.9 1238.0,1296.4 1240.0,1291.5 1242.0,1285.8 1244.0,1281.2 1246.0,1276.2 1248.0,1273.6 1250.0,1270.9 1252.0,1268.3 1254.0,1268.9 1256.0,1265.4 1258.0,1267.2 1260.0,1268.8 1262.0,1271.0 1264.0,1275.1 1266.0,1276.6 1268.0,1281.8 1270.0,1288.0 1272.0,1294.1 1274.0,1300.3 1276.0,1307.1 1278.0,1315.9 1280.0,1321.6 1282.0,1329.6 1284.0,1338.7 1286.0,1346.3 1288.0,1352.7 1290.0,1358.2 1292.0,1364.3 1294.0,1370.1 1296.0,1375.2 1298.0,1380.7 1300.0,1386.5 1302.0,1389.7 1304.0,1392.6 1306.0,1395.9 1308.0,1398.5 1310.0,1403.0 1312.0,1402.8 1314.0,1406.8 1316.0,1407.3 1318.0,1409.3 1320.0,1410.5 1322.0,1413.8 1324.0,1414.3 1326.0,1417.7 1328.0,1415.8 1330.0,1416.7 1332.0,1419.0 1334.0,1419.9 1336.0,1420.1 1338.0,1419.5 1340.0,1423.0 1342.0,1423.1 1344.0,1423.7 1346.0,1423.6 1348.0,1425.2 1350.0,1424.9 1352.0,1425.7 1354.0,1425.8 1356.0,1427.3 1358.0,1426.1 1360.0,1426.5 1362.0,1427.9 1364.0,1427.4 1366.0,1427.4 1368.0,1427.4 1370.0,1428.5 1372.0,1427.4 1374.0,1428.5 1376.0,1429.9 1378.0,1428.7 1380.0,1427.9 1382.0,1427.7 1384.0,1428.9 1386.0,1428.0 1388.0,1427.8 1390.0,1428.6 1392.0,1428.4 1394.0,1430.1 1396.0,1428.3 1398.0,1430.9 1400.0,1429.1 1402.0,1429.9 1404.0,1430.4 1406.0,1430.1 1408.0,1430.6 1410.0,1429.3 1412.0,1428.3 1414.0,1430.0 1416.0,1428.9" fill="none" stroke="#000" stroke-width="5" stroke-linejoin="round" stroke-linecap="round" />
<polyline points="130.0,1311.5 132.0,1311.5 134.0,1311.5 136.0,1311.5 138.0,1311.5 140.0,1311.5 142.0,1311.6 144.0,1311.6 146.0,1311.6 148.0,1311.6 150.0,1311.7 152.0,1311.7 154.0,1311.7 156.0,1311.8 158.0,1311.8 160.0,1311.8 162.0,1311.9 164.0,1311.9 166.0,1312.0 168.0,1312.0 170.0,1312.1 172.0,1312.1 174.0,1312.2 176.0,1312.2 178.0,1312.3 180.0,1312.3 182.0,1312.4 184.0,1312.4 186.0,1312.5 188.0,1312.5 190.0,1312.6 192.0,1312.7 194.0,1312.8 196.0,1312.9 198.0,1313.0 200.0,1313.1 202.0,1313.2 204.0,1313.3 206.0,1313.4 208.0,1313.5 210.0,1313.6 212.0,1313.8 214.0,1313.9 216.0,1314.0 218.0,1314.2 220.0,1314.3 222.0,1314.4 224.0,1314.6 226.0,1314.7 228.0,1314.9 230.0,1315.0 232.0,1315.2 234.0,1315.3 236.0,1315.5 238.0,1315.6 240.0,1315.8 242.0,1316.0 244.0,1316.1 246.0,1316.3 248.0,1316.4 250.0,1316.6 252.0,1316.8 254.0,1316.9 256.0,1317.1 258.0,1317.3 260.0,1317.5 262.0,1317.7 264.0,1317.9 266.0,1318.2 268.0,1318.4 270.0,1318.6 272.0,1318.8 274.0,1319.1 276.0,1319.3 278.0,1319.6 280.0,1319.8 282.0,1320.0 284.0,1320.3 286.0,1320.5 288.0,1320.8 290.0,1321.0 292.0,1321.3 294.0,1321.5 296.0,1321.7 298.0,1322.0 300.0,1322.2 302.0,1322.4 304.0,1322.7 306.0,1322.9 308.0,1323.2 310.0,1323.5 312.0,1323.7 314.0,1324.0 316.0,1324.3 318.0,1324.6 320.0,1324.9 322.0,1325.1 324.0,1325.4 326.0,1325.7 328.0,1325.9 330.0,1326.2 332.0,1326.4 334.0,1326.7 336.0,1326.9 338.0,1327.1 340.0,1327.3 342.0,1327.5 344.0,1327.6 346.0,1327.8 348.0,1327.9 350.0,1328.0 352.0,1328.1 354.0,1328.2 356.0,1328.2 358.0,1328.3 360.0,1328.4 362.0,1328.4 364.0,1328.5 366.0,1328.6 368.0,1328.6 370.0,1328.7 372.0,1328.7 374.0,1328.8 376.0,1328.8 378.0,1328.9 380.0,1328.9 382.0,1328.9 384.0,1329.0 386.0,1329.0 388.0,1329.1 390.0,1329.1 392.0,1329.1 394.0,1329.2 396.0,1329.2 398.0,1329.2 400.0,1329.3 402.0,1329.3 404.0,1329.3 406.0,1329.4 408.0,1329.4 410.0,1329.5 412.0,1329.5 414.0,1329.6 416.0,1329.6 418.0,1329.7 420.0,1329.7 422.0,1329.8 424.0,1329.8 426.0,1329.9 428.0,1329.9 430.0,1330.0 432.0,1330.1 434.0,1330.1 436.0,1330.2 438.0,1330.3 440.0,1330.4 442.0,1330.4 444.0,1330.5 446.0,1330.6 448.0,1330.7 450.0,1330.8 452.0,1330.9 454.0,1331.0 456.0,1331.1 458.0,1331.2 460.0,1331.3 462.0,1331.4 464.0,1331.5 466.0,1331.6 468.0,1331.7 470.0,1331.8 472.0,1331.9 474.0,1332.0 476.0,1332.1 478.0,1332.2 480.0,1332.3 482.0,1332.4 484.0,1332.5 486.0,1332.7 488.0,1332.8 490.0,1332.9 492.0,1333.0 494.0,1333.1 496.0,1333.3 498.0,1333.4 500.0,1333.5 502.0,1333.6 504.0,1333.8 506.0,1333.9 508.0,1334.0 510.0,1334.1 512.0,1334.3 514.0,1334.4 516.0,1334.5 518.0,1334.7 520.0,1334.8 522.0,1334.9 524.0,1335.1 526.0,1335.2 528.0,1335.4 530.0,1335.5 532.0,1335.7 534.0,1335.8 536.0,1336.0 538.0,1336.1 540.0,1336.3 542.0,1336.5 544.0,1336.6 546.0,1336.8 548.0,1337.0 550.0,1337.2 552.0,1337.3 554.0,1337.5 556.0,1337.7 558.0,1337.8 560.0,1338.0 562.0,1338.2 564.0,1338.3 566.0,1338.5 568.0,1338.6 570.0,1338.8 572.0,1338.9 574.0,1339.1 576.0,1339.3 578.0,1339.4 580.0,1339.6 582.0,1339.7 584.0,1339.9 586.0,1340.0 588.0,1340.2 590.0,1340.4 592.0,1340.5 594.0,1340.7 596.0,1340.9 598.0,1341.0 600.0,1341.2 602.0,1341.4 604.0,1341.6 606.0,1341.7 608.0,1341.9 610.0,1342.1 612.0,1342.3 614.0,1342.5 616.0,1342.7 618.0,1342.9 620.0,1343.1 622.0,1343.3 624.0,1343.5 626.0,1343.7 628.0,1343.9 630.0,1344.1 632.0,1344.3 634.0,1344.5 636.0,1344.7 638.0,1344.9 640.0,1345.1 642.0,1345.4 644.0,1345.6 646.0,1345.8 648.0,1346.0 650.0,1346.2 652.0,1346.4 654.0,1346.6 656.0,1346.8 658.0,1347.0 660.0,1347.2 662.0,1347.4 664.0,1347.6 666.0,1347.8 668.0,1348.0 670.0,1348.2 672.0,1348.4 674.0,1348.6 676.0,1348.8 678.0,1349.0 680.0,1349.2 682.0,1349.4 684.0,1349.5 686.0,1349.7 688.0,1349.9 690.0,1350.1 692.0,1350.3 694.0,1350.5 696.0,1350.7 698.0,1350.9 700.0,1351.1 702.0,1351.3 704.0,1351.5 706.0,1351.7 708.0,1351.9 710.0,1352.1 712.0,1352.3 714.0,1352.6 716.0,1352.8 718.0,1353.0 720.0,1353.2 722.0,1353.4 724.0,1353.6 726.0,1353.9 728.0,1354.1 730.0,1354.3 732.0,1354.5 734.0,1354.7 736.0,1354.9 738.0,1355.1 740.0,1355.4 742.0,1355.6 744.0,1355.8 746.0,1356.0 748.0,1356.3 750.0,1356.5 752.0,1356.8 754.0,1357.0 756.0,1357.3 758.0,1357.5 760.0,1357.8 762.0,1358.0 764.0,1358.3 766.0,1358.6 768.0,1358.9 770.0,1359.2 772.0,1359.5 774.0,1359.9 776.0,1360.2 778.0,1360.6 780.0,1361.0 782.0,1361.4 784.0,1361.8 786.0,1362.2 788.0,1362.6 790.0,1363.0 792.0,1363.5 794.0,1363.9 796.0,1364.3 798.0,1364.7 800.0,1365.1 802.0,1365.5 804.0,1365.9 806.0,1366.3 808.0,1366.7 810.0,1367.1 812.0,1367.5 814.0,1367.9 816.0,1368.3 818.0,1368.8 820.0,1369.2 822.0,1369.6 824.0,1370.0 826.0,1370.4 828.0,1370.8 830.0,1371.2 832.0,1371.6 834.0,1372.0 836.0,1372.3 838.0,1372.7 840.0,1373.1 842.0,1373.5 844.0,1373.9 846.0,1374.3 848.0,1374.7 850.0,1375.2 852.0,1375.6 854.0,1376.1 856.0,1376.5 858.0,1377.0 860.0,1377.4 862.0,1377.8 864.0,1378.2 866.0,1378.6 868.0,1378.9 870.0,1379.2 872.0,1379.4 874.0,1379.7 876.0,1379.8 878.0,1379.9 880.0,1380.0 882.0,1380.0 884.0,1380.1 886.0,1380.1 888.0,1380.1 890.0,1380.1 892.0,1380.2 894.0,1380.2 896.0,1380.2 898.0,1380.2 900.0,1380.2 902.0,1380.2 904.0,1380.3 906.0,1380.3 908.0,1380.3 910.0,1380.3 912.0,1380.3 914.0,1380.3 916.0,1380.3 918.0,1380.3 920.0,1380.3 922.0,1380.3 924.0,1380.3 926.0,1380.4 928.0,1380.4 930.0,1380.4 932.0,1380.4 934.0,1380.4 936.0,1380.4 938.0,1380.4 940.0,1380.4 942.0,1380.4 944.0,1380.4 946.0,1380.5 948.0,1380.5 950.0,1380.5 952.0,1380.5 954.0,1380.5 956.0,1380.6 958.0,1380.6 960.0,1380.6 962.0,1380.6 964.0,1380.7 966.0,1380.7 968.0,1380.8 970.0,1380.8 972.0,1380.9 974.0,1381.0 976.0,1381.0 978.0,1381.1 980.0,1381.2 982.0,1381.3 984.0,1381.4 986.0,1381.5 988.0,1381.6 990.0,1381.7 992.0,1381.9 994.0,1382.0 996.0,1382.1 998.0,1382.3 1000.0,1382.4 1002.0,1382.6 1004.0,1382.7 1006.0,1382.9 1008.0,1383.0 1010.0,1383.2 1012.0,1383.3 1014.0,1383.5 1016.0,1383.7 1018.0,1383.9 1020.0,1384.0 1022.0,1384.2 1024.0,1384.4 1026.0,1384.6 1028.0,1384.8 1030.0,1384.9 1032.0,1385.1 1034.0,1385.3 1036.0,1385.5 1038.0,1385.7 1040.0,1385.9 1042.0,1386.1 1044.0,1386.3 1046.0,1386.5 1048.0,1386.7 1050.0,1386.9 1052.0,1387.1 1054.0,1387.3 1056.0,1387.5 1058.0,1387.7 1060.0,1387.8 1062.0,1388.0 1064.0,1388.2 1066.0,1388.4 1068.0,1388.6 1070.0,1388.8 1072.0,1389.0 1074.0,1389.2 1076.0,1389.4 1078.0,1389.6 1080.0,1389.8 1082.0,1390.0 1084.0,1390.3 1086.0,1390.5 1088.0,1390.7 1090.0,1390.9 1092.0,1391.2 1094.0,1391.4 1096.0,1391.7 1098.0,1391.9 1100.0,1392.2 1102.0,1392.4 1104.0,1392.7 1106.0,1392.9 1108.0,1393.1 1110.0,1393.4 1112.0,1393.6 1114.0,1393.9 1116.0,1394.1 1118.0,1394.4 1120.0,1394.6 1122.0,1394.8 1124.0,1395.1 1126.0,1395.3 1128.0,1395.5 1130.0,1395.8 1132.0,1396.0 1134.0,1396.2 1136.0,1396.5 1138.0,1396.7 1140.0,1396.9 1142.0,1397.2 1144.0,1397.4 1146.0,1397.6 1148.0,1397.9 1150.0,1398.1 1152.0,1398.3 1154.0,1398.6 1156.0,1398.8 1158.0,1399.0 1160.0,1399.3 1162.0,1399.5 1164.0,1399.7 1166.0,1400.0 1168.0,1400.2 1170.0,1400.5 1172.0,1400.7 1174.0,1400.9 1176.0,1401.2 1178.0,1401.4 1180.0,1401.7 1182.0,1401.9 1184.0,1402.2 1186.0,1402.4 1188.0,1402.7 1190.0,1402.9 1192.0,1403.2 1194.0,1403.4 1196.0,1403.7 1198.0,1403.9 1200.0,1404.2 1202.0,1404.5 1204.0,1404.7 1206.0,1405.0 1208.0,1405.2 1210.0,1405.5 1212.0,1405.7 1214.0,1406.0 1216.0,1406.2 1218.0,1406.5 1220.0,1406.8 1222.0,1407.0 1224.0,1407.3 1226.0,1407.5 1228.0,1407.8 1230.0,1408.1 1232.0,1408.3 1234.0,1408.6 1236.0,1408.9 1238.0,1409.2 1240.0,1409.5 1242.0,1409.8 1244.0,1410.1 1246.0,1410.4 1248.0,1410.7 1250.0,1411.0 1252.0,1411.3 1254.0,1411.7 1256.0,1412.0 1258.0,1412.3 1260.0,1412.7 1262.0,1413.1 1264.0,1413.5 1266.0,1414.0 1268.0,1414.4 1270.0,1414.9 1272.0,1415.5 1274.0,1416.0 1276.0,1416.6 1278.0,1417.1 1280.0,1417.7 1282.0,1418.2 1284.0,1418.8 1286.0,1419.3 1288.0,1419.8 1290.0,1420.3 1292.0,1420.8 1294.0,1421.2 1296.0,1421.6 1298.0,1422.0 1300.0,1422.3 1302.0,1422.6 1304.0,1422.9 1306.0,1423.1 1308.0,1423.4 1310.0,1423.7 1312.0,1423.9 1314.0,1424.1 1316.0,1424.4 1318.0,1424.6 1320.0,1424.8 1322.0,1425.0 1324.0,1425.2 1326.0,1425.4 1328.0,1425.6 1330.0,1425.8 1332.0,1426.0 1334.0,1426.1 1336.0,1426.3 1338.0,1426.4 1340.0,1426.6 1342.0,1426.8 1344.0,1426.9 1346.0,1427.0 1348.0,1427.2 1350.0,1427.3 1352.0,1427.5 1354.0,1427.6 1356.0,1427.8 1358.0,1427.9 1360.0,1428.1 1362.0,1428.2 1364.0,1428.3 1366.0,1428.5 1368.0,1428.6 1370.0,1428.7 1372.0,1428.9 1374.0,1429.0 1376.0,1429.1 1378.0,1429.2 1380.0,1429.3 1382.0,1429.4 1384.0,1429.6 1386.0,1429.7 1388.0,1429.8 1390.0,1429.9 1392.0,1430.0 1394.0,1430.1 1396.0,1430.1 1398.0,1430.2 1400.0,1430.3 1402.0,1430.4 1404.0,1430.5 1406.0,1430.5 1408.0,1430.6 1410.0,1430.7 1412.0,1430.7 1414.0,1430.8 1416.0,1430.8" fill="none" stroke="#e40c0c" stroke-width="5.5" stroke-linejoin="round" stroke-linecap="round" />
<polyline points="130.0,1310.1 132.0,1310.0 134.0,1310.0 136.0,1309.9 138.0,1309.9 140.0,1309.9 142.0,1309.8 144.0,1309.8 146.0,1309.7 148.0,1309.7 150.0,1309.7 152.0,1309.6 154.0,1309.6 156.0,1309.5 158.0,1309.4 160.0,1309.4 162.0,1309.3 164.0,1309.2 166.0,1309.1 168.0,1308.9 170.0,1308.8 172.0,1308.6 174.0,1308.4 176.0,1308.1 178.0,1307.8 180.0,1307.5 182.0,1307.1 184.0,1306.6 186.0,1306.1 188.0,1305.5 190.0,1304.8 192.0,1304.0 194.0,1303.1 196.0,1302.1 198.0,1301.0 200.0,1299.6 202.0,1298.2 204.0,1296.6 206.0,1294.7 208.0,1292.7 210.0,1290.6 212.0,1288.2 214.0,1285.6 216.0,1282.8 218.0,1279.8 220.0,1276.7 222.0,1273.3 224.0,1269.9 226.0,1266.2 228.0,1262.5 230.0,1258.7 232.0,1254.8 234.0,1250.9 236.0,1247.1 238.0,1243.3 240.0,1239.7 242.0,1236.2 244.0,1233.0 246.0,1230.0 248.0,1227.5 250.0,1225.3 252.0,1223.6 254.0,1222.4 256.0,1221.7 258.0,1221.6 260.0,1222.1 262.0,1223.1 264.0,1224.7 266.0,1226.7 268.0,1229.3 270.0,1232.2 272.0,1235.5 274.0,1239.1 276.0,1243.0 278.0,1247.0 280.0,1251.2 282.0,1255.4 284.0,1259.7 286.0,1264.0 288.0,1268.2 290.0,1272.3 292.0,1276.3 294.0,1280.2 296.0,1283.9 298.0,1287.5 300.0,1290.8 302.0,1294.0 304.0,1296.9 306.0,1299.7 308.0,1302.3 310.0,1304.7 312.0,1306.9 314.0,1308.9 316.0,1310.8 318.0,1312.5 320.0,1314.0 322.0,1315.4 324.0,1316.7 326.0,1317.8 328.0,1318.9 330.0,1319.8 332.0,1320.6 334.0,1321.4 336.0,1322.1 338.0,1322.7 340.0,1323.2 342.0,1323.7 344.0,1324.1 346.0,1324.5 348.0,1324.8 350.0,1325.1 352.0,1325.3 354.0,1325.5 356.0,1325.8 358.0,1325.9 360.0,1326.1 362.0,1326.3 364.0,1326.4 366.0,1326.6 368.0,1326.7 370.0,1326.8 372.0,1326.9 374.0,1327.0 376.0,1327.1 378.0,1327.2 380.0,1327.3 382.0,1327.4 384.0,1327.5 386.0,1327.6 388.0,1327.7 390.0,1327.7 392.0,1327.8 394.0,1327.9 396.0,1327.9 398.0,1328.0 400.0,1328.1 402.0,1328.2 404.0,1328.2 406.0,1328.3 408.0,1328.4 410.0,1328.4 412.0,1328.5 414.0,1328.6 416.0,1328.6 418.0,1328.7 420.0,1328.8 422.0,1328.9 424.0,1328.9 426.0,1329.0 428.0,1329.1 430.0,1329.2 432.0,1329.3 434.0,1329.4 436.0,1329.4 438.0,1329.5 440.0,1329.6 442.0,1329.7 444.0,1329.8 446.0,1329.9 448.0,1330.0 450.0,1330.1 452.0,1330.2 454.0,1330.3 456.0,1330.4 458.0,1330.5 460.0,1330.7 462.0,1330.8" fill="none" stroke="#0606d6" stroke-width="4.5" stroke-linejoin="round" stroke-linecap="round" />
<polyline points="398.0,1328.7 400.0,1328.6 402.0,1328.6 404.0,1328.5 406.0,1328.5 408.0,1328.4 410.0,1328.3 412.0,1328.2 414.0,1328.1 416.0,1328.0 418.0,1327.9 420.0,1327.7 422.0,1327.6 424.0,1327.4 426.0,1327.2 428.0,1327.0 430.0,1326.8 432.0,1326.6 434.0,1326.3 436.0,1326.0 438.0,1325.7 440.0,1325.4 442.0,1325.1 444.0,1324.7 446.0,1324.3 448.0,1323.9 450.0,1323.4 452.0,1322.9 454.0,1322.4 456.0,1321.9 458.0,1321.3 460.0,1320.8 462.0,1320.2 464.0,1319.5 466.0,1318.9 468.0,1318.2 470.0,1317.5 472.0,1316.8 474.0,1316.0 476.0,1315.3 478.0,1314.5 480.0,1313.7 482.0,1312.9 484.0,1312.1 486.0,1311.3 488.0,1310.5 490.0,1309.7 492.0,1308.9 494.0,1308.1 496.0,1307.3 498.0,1306.5 500.0,1305.8 502.0,1305.1 504.0,1304.4 506.0,1303.7 508.0,1303.1 510.0,1302.5 512.0,1301.9 514.0,1301.4 516.0,1300.9 518.0,1300.5 520.0,1300.1 522.0,1299.8 524.0,1299.6 526.0,1299.4 528.0,1299.3 530.0,1299.2 532.0,1299.2 534.0,1299.3 536.0,1299.4 538.0,1299.7 540.0,1299.9 542.0,1300.3 544.0,1300.7 546.0,1301.1 548.0,1301.7 550.0,1302.3 552.0,1302.9 554.0,1303.6 556.0,1304.3 558.0,1305.1 560.0,1306.0 562.0,1306.8 564.0,1307.7 566.0,1308.7 568.0,1309.6 570.0,1310.6 572.0,1311.6 574.0,1312.7 576.0,1313.7 578.0,1314.8 580.0,1315.9 582.0,1316.9 584.0,1318.0 586.0,1319.1 588.0,1320.2 590.0,1321.3 592.0,1322.3 594.0,1323.4 596.0,1324.4 598.0,1325.5 600.0,1326.5 602.0,1327.5 604.0,1328.5 606.0,1329.4 608.0,1330.4 610.0,1331.3 612.0,1332.1 614.0,1333.0 616.0,1333.8 618.0,1334.6 620.0,1335.4 622.0,1336.2 624.0,1336.9 626.0,1337.6 628.0,1338.3 630.0,1338.9 632.0,1339.6 634.0,1340.1 636.0,1340.7 638.0,1341.3 640.0,1341.8 642.0,1342.3 644.0,1342.8 646.0,1343.2 648.0,1343.7 650.0,1344.1 652.0,1344.5 654.0,1344.9 656.0,1345.3 658.0,1345.6 660.0,1346.0 662.0,1346.3 664.0,1346.6 666.0,1346.9 668.0,1347.2 670.0,1347.5 672.0,1347.8 674.0,1348.0" fill="none" stroke="#0606d6" stroke-width="4.5" stroke-linejoin="round" stroke-linecap="round" />
<polyline points="576.0,1338.7 578.0,1338.7 580.0,1338.8 582.0,1338.8 584.0,1338.8 586.0,1338.7 588.0,1338.7 590.0,1338.6 592.0,1338.5 594.0,1338.3 596.0,1338.2 598.0,1337.9 600.0,1337.7 602.0,1337.4 604.0,1337.1 606.0,1336.7 608.0,1336.2 610.0,1335.8 612.0,1335.2 614.0,1334.6 616.0,1334.0 618.0,1333.3 620.0,1332.6 622.0,1331.8 624.0,1330.9 626.0,1330.1 628.0,1329.2 630.0,1328.2 632.0,1327.2 634.0,1326.2 636.0,1325.2 638.0,1324.2 640.0,1323.2 642.0,1322.2 644.0,1321.3 646.0,1320.4 648.0,1319.5 650.0,1318.6 652.0,1317.9 654.0,1317.2 656.0,1316.6 658.0,1316.0 660.0,1315.6 662.0,1315.3 664.0,1315.1 666.0,1315.0 668.0,1315.0 670.0,1315.1 672.0,1315.4 674.0,1315.8 676.0,1316.3 678.0,1316.9 680.0,1317.6 682.0,1318.4 684.0,1319.4 686.0,1320.4 688.0,1321.5 690.0,1322.7 692.0,1323.9 694.0,1325.2 696.0,1326.5 698.0,1327.9 700.0,1329.3 702.0,1330.7 704.0,1332.1 706.0,1333.5 708.0,1334.9 710.0,1336.3 712.0,1337.7 714.0,1339.0 716.0,1340.3 718.0,1341.5 720.0,1342.7 722.0,1343.9 724.0,1345.0 726.0,1346.0 728.0,1347.0 730.0,1348.0 732.0,1348.9 734.0,1349.7 736.0,1350.5 738.0,1351.2 740.0,1351.9 742.0,1352.5 744.0,1353.2 746.0,1353.7 748.0,1354.3 750.0,1354.8 752.0,1355.3 754.0,1355.7 756.0,1356.2 758.0,1356.6 760.0,1357.0 762.0,1357.4 764.0,1357.8" fill="none" stroke="#e40c0c" stroke-width="4.5" stroke-linejoin="round" stroke-linecap="round" />
<polyline points="630.0,1343.5 632.0,1343.7 634.0,1343.9 636.0,1344.0 638.0,1344.2 640.0,1344.3 642.0,1344.5 644.0,1344.6 646.0,1344.7 648.0,1344.7 650.0,1344.8 652.0,1344.8 654.0,1344.7 656.0,1344.6 658.0,1344.3 660.0,1344.0 662.0,1343.6 664.0,1343.0 666.0,1342.2 668.0,1341.2 670.0,1340.0 672.0,1338.6 674.0,1336.8 676.0,1334.8 678.0,1332.4 680.0,1329.6 682.0,1326.5 684.0,1323.0 686.0,1319.2 688.0,1315.0 690.0,1310.5 692.0,1305.6 694.0,1300.6 696.0,1295.5 698.0,1290.2 700.0,1285.0 702.0,1279.9 704.0,1275.0 706.0,1270.5 708.0,1266.5 710.0,1263.1 712.0,1260.3 714.0,1258.3 716.0,1257.1 718.0,1256.9 720.0,1257.5 722.0,1259.0 724.0,1261.3 726.0,1264.5 728.0,1268.3 730.0,1272.7 732.0,1277.6 734.0,1282.8 736.0,1288.3 738.0,1293.9 740.0,1299.6 742.0,1305.2 744.0,1310.7 746.0,1315.9 748.0,1320.9 750.0,1325.6 752.0,1329.9 754.0,1333.8 756.0,1337.4 758.0,1340.7 760.0,1343.6 762.0,1346.1 764.0,1348.3 766.0,1350.3 768.0,1352.0 770.0,1353.5 772.0,1354.8 774.0,1355.9 776.0,1357.0 778.0,1357.9 780.0,1358.7 782.0,1359.4 784.0,1360.1 786.0,1360.8 788.0,1361.4 790.0,1361.9 792.0,1362.5 794.0,1363.0 796.0,1363.5 798.0,1363.9 800.0,1364.4 802.0,1364.8 804.0,1365.3 806.0,1365.7 808.0,1366.1" fill="none" stroke="#0606d6" stroke-width="4.5" stroke-linejoin="round" stroke-linecap="round" />
<polyline points="748.0,1355.7 750.0,1355.7 752.0,1355.6 754.0,1355.5 756.0,1355.3 758.0,1355.0 760.0,1354.7 762.0,1354.4 764.0,1354.2 766.0,1354.1 768.0,1354.0 770.0,1354.1 772.0,1354.4 774.0,1354.9 776.0,1355.6 778.0,1356.3 780.0,1357.2 782.0,1358.2 784.0,1359.1 786.0,1360.1 788.0,1361.0 790.0,1361.8 792.0,1362.6 794.0,1363.2 796.0,1363.9" fill="none" stroke="#e40c0c" stroke-width="4.5" stroke-linejoin="round" stroke-linecap="round" />
<polyline points="706.0,1351.2 708.0,1351.3 710.0,1351.3 712.0,1351.3 714.0,1351.3 716.0,1351.1 718.0,1350.9 720.0,1350.6 722.0,1350.2 724.0,1349.7 726.0,1349.0 728.0,1348.2 730.0,1347.2 732.0,1345.9 734.0,1344.4 736.0,1342.7 738.0,1340.7 740.0,1338.3 742.0,1335.7 744.0,1332.6 746.0,1329.3 748.0,1325.5 750.0,1321.4 752.0,1316.8 754.0,1312.0 756.0,1306.7 758.0,1301.1 760.0,1295.3 762.0,1289.2 764.0,1282.9 766.0,1276.4 768.0,1269.9 770.0,1263.5 772.0,1257.1 774.0,1251.0 776.0,1245.1 778.0,1239.6 780.0,1234.6 782.0,1230.1 784.0,1226.3 786.0,1223.2 788.0,1220.8 790.0,1219.3 792.0,1218.5 794.0,1218.7 796.0,1219.7 798.0,1221.5 800.0,1224.2 802.0,1227.6 804.0,1231.8 806.0,1236.6 808.0,1242.1 810.0,1248.0 812.0,1254.4 814.0,1261.2 816.0,1268.1 818.0,1275.3 820.0,1282.5 822.0,1289.6 824.0,1296.7 826.0,1303.7 828.0,1310.4 830.0,1316.8 832.0,1322.9 834.0,1328.7 836.0,1334.1 838.0,1339.1 840.0,1343.7 842.0,1347.9 844.0,1351.8 846.0,1355.4 848.0,1358.6 850.0,1361.5 852.0,1364.1 854.0,1366.4 856.0,1368.5 858.0,1370.3 860.0,1371.9 862.0,1373.3 864.0,1374.5 866.0,1375.6 868.0,1376.5 870.0,1377.3 872.0,1377.9 874.0,1378.5 876.0,1378.9 878.0,1379.2 880.0,1379.4" fill="none" stroke="#0606d6" stroke-width="4.5" stroke-linejoin="round" stroke-linecap="round" />
<polyline points="810.0,1366.5 812.0,1366.9 814.0,1367.3 816.0,1367.7 818.0,1368.1 820.0,1368.5 822.0,1368.9 824.0,1369.3 826.0,1369.7 828.0,1370.1 830.0,1370.5 832.0,1370.9 834.0,1371.3 836.0,1371.6 838.0,1372.0 840.0,1372.4 842.0,1372.7 844.0,1373.1 846.0,1373.5 848.0,1373.9 850.0,1374.4 852.0,1374.8 854.0,1375.2 856.0,1375.7 858.0,1376.1 860.0,1376.5 862.0,1376.9 864.0,1377.3 866.0,1377.6 868.0,1377.9 870.0,1378.2 872.0,1378.4 874.0,1378.6 876.0,1378.8 878.0,1378.9 880.0,1378.9 882.0,1378.9 884.0,1378.9 886.0,1378.9 888.0,1378.9 890.0,1378.9 892.0,1378.9 894.0,1378.9 896.0,1378.9 898.0,1378.9 900.0,1378.9 902.0,1378.8 904.0,1378.8 906.0,1378.8 908.0,1378.8 910.0,1378.7 912.0,1378.7 914.0,1378.6 916.0,1378.6 918.0,1378.5 920.0,1378.5 922.0,1378.4 924.0,1378.3 926.0,1378.3 928.0,1378.2 930.0,1378.1 932.0,1378.0 934.0,1377.9 936.0,1377.8 938.0,1377.7 940.0,1377.5 942.0,1377.4 944.0,1377.2 946.0,1377.1 948.0,1376.9 950.0,1376.7 952.0,1376.5 954.0,1376.2 956.0,1376.0 958.0,1375.7 960.0,1375.4 962.0,1375.1 964.0,1374.8 966.0,1374.4 968.0,1374.1 970.0,1373.7 972.0,1373.3 974.0,1372.8 976.0,1372.4 978.0,1371.9 980.0,1371.4 982.0,1370.8 984.0,1370.2 986.0,1369.6 988.0,1369.0 990.0,1368.3 992.0,1367.6 994.0,1366.8 996.0,1366.0 998.0,1365.2 1000.0,1364.4 1002.0,1363.5 1004.0,1362.6 1006.0,1361.6 1008.0,1360.6 1010.0,1359.6 1012.0,1358.6 1014.0,1357.5 1016.0,1356.4 1018.0,1355.3 1020.0,1354.2 1022.0,1353.0 1024.0,1351.8 1026.0,1350.7 1028.0,1349.5 1030.0,1348.3 1032.0,1347.2 1034.0,1346.0 1036.0,1344.9 1038.0,1343.8 1040.0,1342.7 1042.0,1341.6 1044.0,1340.6 1046.0,1339.6 1048.0,1338.7 1050.0,1337.8 1052.0,1337.0 1054.0,1336.3 1056.0,1335.6 1058.0,1335.1 1060.0,1334.6 1062.0,1334.2 1064.0,1333.9 1066.0,1333.7 1068.0,1333.6 1070.0,1333.6 1072.0,1333.8 1074.0,1334.0 1076.0,1334.4 1078.0,1334.8 1080.0,1335.4 1082.0,1336.1 1084.0,1336.9 1086.0,1337.8 1088.0,1338.8 1090.0,1339.9 1092.0,1341.1 1094.0,1342.3 1096.0,1343.6 1098.0,1345.0 1100.0,1346.4 1102.0,1347.8 1104.0,1349.3 1106.0,1350.9 1108.0,1352.4 1110.0,1354.0 1112.0,1355.6 1114.0,1357.2 1116.0,1358.8 1118.0,1360.4 1120.0,1362.0 1122.0,1363.6 1124.0,1365.1 1126.0,1366.7 1128.0,1368.2 1130.0,1369.7 1132.0,1371.2 1134.0,1372.6 1136.0,1374.0 1138.0,1375.4 1140.0,1376.7 1142.0,1378.0 1144.0,1379.3 1146.0,1380.5 1148.0,1381.7 1150.0,1382.9 1152.0,1384.0 1154.0,1385.1 1156.0,1386.1 1158.0,1387.1 1160.0,1388.1 1162.0,1389.0 1164.0,1389.9 1166.0,1390.7 1168.0,1391.5 1170.0,1392.3 1172.0,1393.1 1174.0,1393.8 1176.0,1394.5 1178.0,1395.1 1180.0,1395.8 1182.0,1396.4 1184.0,1397.0 1186.0,1397.5 1188.0,1398.1 1190.0,1398.6 1192.0,1399.1 1194.0,1399.6 1196.0,1400.1 1198.0,1400.5 1200.0,1401.0 1202.0,1401.4 1204.0,1401.8 1206.0,1402.2 1208.0,1402.6 1210.0,1403.0 1212.0,1403.4 1214.0,1403.7 1216.0,1404.1 1218.0,1404.4 1220.0,1404.8 1222.0,1405.1 1224.0,1405.4 1226.0,1405.7 1228.0,1406.1 1230.0,1406.4 1232.0,1406.7 1234.0,1407.0 1236.0,1407.4 1238.0,1407.7 1240.0,1408.0 1242.0,1408.4 1244.0,1408.7 1246.0,1409.0 1248.0,1409.4 1250.0,1409.7 1252.0,1410.1 1254.0,1410.5 1256.0,1410.8 1258.0,1411.2 1260.0,1411.6 1262.0,1412.0 1264.0,1412.4 1266.0,1412.9 1268.0,1413.4 1270.0,1413.9 1272.0,1414.5 1274.0,1415.0 1276.0,1415.6 1278.0,1416.2 1280.0,1416.7 1282.0,1417.3 1284.0,1417.9 1286.0,1418.4 1288.0,1419.0 1290.0,1419.5 1292.0,1419.9 1294.0,1420.4 1296.0,1420.8 1298.0,1421.2 1300.0,1421.5 1302.0,1421.8 1304.0,1422.1 1306.0,1422.4 1308.0,1422.7 1310.0,1423.0 1312.0,1423.2 1314.0,1423.5 1316.0,1423.7 1318.0,1423.9 1320.0,1424.2 1322.0,1424.4 1324.0,1424.6 1326.0,1424.8 1328.0,1425.0 1330.0,1425.2 1332.0,1425.4 1334.0,1425.5" fill="none" stroke="#0606d6" stroke-width="4.5" stroke-linejoin="round" stroke-linecap="round" />
<polyline points="1084.0,1389.7 1086.0,1389.8 1088.0,1390.0 1090.0,1390.1 1092.0,1390.2 1094.0,1390.2 1096.0,1390.3 1098.0,1390.3 1100.0,1390.3 1102.0,1390.3 1104.0,1390.3 1106.0,1390.2 1108.0,1390.1 1110.0,1389.9 1112.0,1389.7 1114.0,1389.5 1116.0,1389.2 1118.0,1388.8 1120.0,1388.4 1122.0,1387.9 1124.0,1387.4 1126.0,1386.8 1128.0,1386.2 1130.0,1385.4 1132.0,1384.7 1134.0,1383.8 1136.0,1382.9 1138.0,1381.9 1140.0,1380.9 1142.0,1379.8 1144.0,1378.6 1146.0,1377.4 1148.0,1376.1 1150.0,1374.8 1152.0,1373.5 1154.0,1372.1 1156.0,1370.7 1158.0,1369.2 1160.0,1367.8 1162.0,1366.4 1164.0,1364.9 1166.0,1363.5 1168.0,1362.1 1170.0,1360.8 1172.0,1359.5 1174.0,1358.2 1176.0,1357.1 1178.0,1356.0 1180.0,1355.0 1182.0,1354.1 1184.0,1353.3 1186.0,1352.7 1188.0,1352.1 1190.0,1351.7 1192.0,1351.4 1194.0,1351.3 1196.0,1351.3 1198.0,1351.5 1200.0,1351.8 1202.0,1352.3 1204.0,1352.9 1206.0,1353.6 1208.0,1354.5 1210.0,1355.5 1212.0,1356.6 1214.0,1357.9 1216.0,1359.2 1218.0,1360.7 1220.0,1362.3 1222.0,1363.9 1224.0,1365.6 1226.0,1367.4 1228.0,1369.3 1230.0,1371.1 1232.0,1373.1 1234.0,1375.0 1236.0,1377.0 1238.0,1378.9 1240.0,1380.9 1242.0,1382.8 1244.0,1384.7 1246.0,1386.6 1248.0,1388.5 1250.0,1390.3 1252.0,1392.1 1254.0,1393.9 1256.0,1395.6 1258.0,1397.2 1260.0,1398.8 1262.0,1400.3 1264.0,1401.9 1266.0,1403.3 1268.0,1404.8 1270.0,1406.2 1272.0,1407.6 1274.0,1408.9 1276.0,1410.2 1278.0,1411.4 1280.0,1412.5 1282.0,1413.7 1284.0,1414.7 1286.0,1415.7 1288.0,1416.6 1290.0,1417.5 1292.0,1418.3 1294.0,1419.1 1296.0,1419.7 1298.0,1420.3 1300.0,1420.9 1302.0,1421.4 1304.0,1421.8 1306.0,1422.2 1308.0,1422.6 1310.0,1423.0 1312.0,1423.3" fill="none" stroke="#e40c0c" stroke-width="4.5" stroke-linejoin="round" stroke-linecap="round" />
<polyline points="1184.0,1401.7 1186.0,1401.7 1188.0,1401.8 1190.0,1401.7 1192.0,1401.6 1194.0,1401.4 1196.0,1401.1 1198.0,1400.6 1200.0,1400.0 1202.0,1399.2 1204.0,1398.2 1206.0,1396.9 1208.0,1395.4 1210.0,1393.5 1212.0,1391.3 1214.0,1388.7 1216.0,1385.7 1218.0,1382.3 1220.0,1378.4 1222.0,1374.1 1224.0,1369.4 1226.0,1364.3 1228.0,1358.7 1230.0,1352.9 1232.0,1346.7 1234.0,1340.4 1236.0,1333.9 1238.0,1327.4 1240.0,1321.0 1242.0,1314.8 1244.0,1308.8 1246.0,1303.4 1248.0,1298.5 1250.0,1294.2 1252.0,1290.7 1254.0,1288.0 1256.0,1286.3 1258.0,1285.5 1260.0,1285.7 1262.0,1286.9 1264.0,1289.2 1266.0,1292.3 1268.0,1296.4 1270.0,1301.3 1272.0,1306.8 1274.0,1313.0 1276.0,1319.6 1278.0,1326.6 1280.0,1333.8 1282.0,1341.2 1284.0,1348.5 1286.0,1355.7 1288.0,1362.7 1290.0,1369.4 1292.0,1375.8 1294.0,1381.7 1296.0,1387.2 1298.0,1392.3 1300.0,1396.9 1302.0,1400.9 1304.0,1404.6 1306.0,1407.9 1308.0,1410.7 1310.0,1413.2 1312.0,1415.3 1314.0,1417.2 1316.0,1418.8 1318.0,1420.1 1320.0,1421.3 1322.0,1422.2 1324.0,1423.0 1326.0,1423.7 1328.0,1424.3 1330.0,1424.8 1332.0,1425.2 1334.0,1425.6" fill="none" stroke="#0606d6" stroke-width="4.5" stroke-linejoin="round" stroke-linecap="round" />
<polyline points="1238.0,1408.6 1240.0,1408.8 1242.0,1409.0 1244.0,1409.2 1246.0,1409.4 1248.0,1409.6 1250.0,1409.8 1252.0,1410.0 1254.0,1410.2 1256.0,1410.3 1258.0,1410.4 1260.0,1410.6 1262.0,1410.7 1264.0,1410.9 1266.0,1411.0 1268.0,1411.2 1270.0,1411.4 1272.0,1411.6 1274.0,1411.8 1276.0,1412.0 1278.0,1412.2 1280.0,1412.4 1282.0,1412.6 1284.0,1412.8 1286.0,1413.0 1288.0,1413.2 1290.0,1413.4 1292.0,1413.7 1294.0,1413.9 1296.0,1414.2 1298.0,1414.4 1300.0,1414.7 1302.0,1415.0 1304.0,1415.3 1306.0,1415.7 1308.0,1416.1 1310.0,1416.6 1312.0,1417.1 1314.0,1417.6 1316.0,1418.1 1318.0,1418.7 1320.0,1419.3 1322.0,1419.8 1324.0,1420.4 1326.0,1420.9 1328.0,1421.4 1330.0,1422.0 1332.0,1422.5 1334.0,1423.0 1336.0,1423.4 1338.0,1423.9 1340.0,1424.3 1342.0,1424.7 1344.0,1425.0 1346.0,1425.4 1348.0,1425.7 1350.0,1426.0 1352.0,1426.3 1354.0,1426.6 1356.0,1426.9 1358.0,1427.1 1360.0,1427.3 1362.0,1427.6 1364.0,1427.8" fill="none" stroke="#e40c0c" stroke-width="4.5" stroke-linejoin="round" stroke-linecap="round" />
<polyline points="130.0,1310.0 132.0,1310.0 134.0,1309.9 136.0,1309.9 138.0,1309.8 140.0,1309.8 142.0,1309.8 144.0,1309.7 146.0,1309.7 148.0,1309.6 150.0,1309.6 152.0,1309.5 154.0,1309.5 156.0,1309.4 158.0,1309.4 160.0,1309.3 162.0,1309.2 164.0,1309.1 166.0,1309.0 168.0,1308.9 170.0,1308.7 172.0,1308.5 174.0,1308.3 176.0,1308.1 178.0,1307.8 180.0,1307.4 182.0,1307.0 184.0,1306.6 186.0,1306.1 188.0,1305.4 190.0,1304.8 192.0,1304.0 194.0,1303.1 196.0,1302.0 198.0,1300.9 200.0,1299.6 202.0,1298.1 204.0,1296.5 206.0,1294.7 208.0,1292.7 210.0,1290.5 212.0,1288.1 214.0,1285.5 216.0,1282.7 218.0,1279.8 220.0,1276.6 222.0,1273.3 224.0,1269.8 226.0,1266.2 228.0,1262.4 230.0,1258.6 232.0,1254.7 234.0,1250.8 236.0,1247.0 238.0,1243.2 240.0,1239.6 242.0,1236.1 244.0,1232.9 246.0,1230.0 248.0,1227.4 250.0,1225.2 252.0,1223.5 254.0,1222.3 256.0,1221.6 258.0,1221.5 260.0,1222.0 262.0,1223.0 264.0,1224.6 266.0,1226.6 268.0,1229.2 270.0,1232.1 272.0,1235.4 274.0,1239.0 276.0,1242.9 278.0,1246.9 280.0,1251.1 282.0,1255.3 284.0,1259.6 286.0,1263.9 288.0,1268.1 290.0,1272.2 292.0,1276.2 294.0,1280.1 296.0,1283.8 298.0,1287.4 300.0,1290.7 302.0,1293.9 304.0,1296.8 306.0,1299.6 308.0,1302.2 310.0,1304.6 312.0,1306.8 314.0,1308.8 316.0,1310.7 318.0,1312.4 320.0,1313.9 322.0,1315.3 324.0,1316.6 326.0,1317.7 328.0,1318.8 330.0,1319.7 332.0,1320.5 334.0,1321.3 336.0,1322.0 338.0,1322.6 340.0,1323.1 342.0,1323.6 344.0,1324.0 346.0,1324.4 348.0,1324.7 350.0,1324.9 352.0,1325.2 354.0,1325.4 356.0,1325.6 358.0,1325.8 360.0,1325.9 362.0,1326.1 364.0,1326.2 366.0,1326.4 368.0,1326.5 370.0,1326.6 372.0,1326.7 374.0,1326.8 376.0,1326.9 378.0,1326.9 380.0,1327.0 382.0,1327.1 384.0,1327.1 386.0,1327.2 388.0,1327.2 390.0,1327.2 392.0,1327.3 394.0,1327.3 396.0,1327.3 398.0,1327.3 400.0,1327.3 402.0,1327.3 404.0,1327.2 406.0,1327.2 408.0,1327.2 410.0,1327.1 412.0,1327.0 414.0,1327.0 416.0,1326.9 418.0,1326.8 420.0,1326.7 422.0,1326.5 424.0,1326.4 426.0,1326.2 428.0,1326.0 430.0,1325.8 432.0,1325.6 434.0,1325.4 436.0,1325.1 438.0,1324.8 440.0,1324.5 442.0,1324.2 444.0,1323.8 446.0,1323.4 448.0,1323.0 450.0,1322.6 452.0,1322.1 454.0,1321.6 456.0,1321.1 458.0,1320.5 460.0,1320.0 462.0,1319.4 464.0,1318.7 466.0,1318.1 468.0,1317.4 470.0,1316.7 472.0,1316.0 474.0,1315.3 476.0,1314.5 478.0,1313.8 480.0,1313.0 482.0,1312.2 484.0,1311.4 486.0,1310.6 488.0,1309.8 490.0,1309.0 492.0,1308.2 494.0,1307.4 496.0,1306.6 498.0,1305.9 500.0,1305.1 502.0,1304.4 504.0,1303.7 506.0,1303.0 508.0,1302.4 510.0,1301.8 512.0,1301.3 514.0,1300.8 516.0,1300.3 518.0,1299.9 520.0,1299.5 522.0,1299.2 524.0,1298.9 526.0,1298.8 528.0,1298.6 530.0,1298.6 532.0,1298.6 534.0,1298.7 536.0,1298.8 538.0,1299.0 540.0,1299.3 542.0,1299.6 544.0,1300.0 546.0,1300.5 548.0,1301.0 550.0,1301.6 552.0,1302.2 554.0,1302.9 556.0,1303.6 558.0,1304.4 560.0,1305.2 562.0,1306.0 564.0,1306.9 566.0,1307.8 568.0,1308.7 570.0,1309.6 572.0,1310.6 574.0,1311.5 576.0,1312.5 578.0,1313.4 580.0,1314.4 582.0,1315.3 584.0,1316.2 586.0,1317.1 588.0,1318.0 590.0,1318.8 592.0,1319.6 594.0,1320.3 596.0,1321.0 598.0,1321.7 600.0,1322.2 602.0,1322.8 604.0,1323.2 606.0,1323.6 608.0,1323.9 610.0,1324.1 612.0,1324.2 614.0,1324.3 616.0,1324.3 618.0,1324.2 620.0,1324.0 622.0,1323.8 624.0,1323.4 626.0,1323.0 628.0,1322.6 630.0,1322.0 632.0,1321.4 634.0,1320.8 636.0,1320.1 638.0,1319.4 640.0,1318.7 642.0,1317.9 644.0,1317.1 646.0,1316.3 648.0,1315.5 650.0,1314.8 652.0,1314.0 654.0,1313.2 656.0,1312.4 658.0,1311.6 660.0,1310.8 662.0,1309.9 664.0,1309.1 666.0,1308.1 668.0,1307.0 670.0,1305.9 672.0,1304.6 674.0,1303.1 676.0,1301.4 678.0,1299.5 680.0,1297.3 682.0,1294.8 684.0,1292.1 686.0,1289.1 688.0,1285.8 690.0,1282.3 692.0,1278.6 694.0,1274.6 696.0,1270.6 698.0,1266.5 700.0,1262.4 702.0,1258.5 704.0,1254.8 706.0,1251.4 708.0,1248.4 710.0,1246.0 712.0,1244.1 714.0,1243.0 716.0,1242.5 718.0,1242.9 720.0,1244.0 722.0,1245.8 724.0,1248.3 726.0,1251.4 728.0,1254.9 730.0,1258.8 732.0,1262.8 734.0,1267.0 736.0,1271.1 738.0,1274.9 740.0,1278.5 742.0,1281.6 744.0,1284.1 746.0,1285.9 748.0,1287.0 750.0,1287.3 752.0,1286.8 754.0,1285.5 756.0,1283.3 758.0,1280.3 760.0,1276.7 762.0,1272.4 764.0,1267.7 766.0,1262.6 768.0,1257.2 770.0,1251.8 772.0,1246.5 774.0,1241.3 776.0,1236.4 778.0,1231.9 780.0,1227.9 782.0,1224.3 784.0,1221.4 786.0,1219.0 788.0,1217.3 790.0,1216.3 792.0,1216.0 794.0,1216.5 796.0,1217.8 798.0,1219.8 800.0,1222.6 802.0,1226.2 804.0,1230.4 806.0,1235.3 808.0,1240.8 810.0,1246.8 812.0,1253.2 814.0,1260.0 816.0,1267.0 818.0,1274.1 820.0,1281.3 822.0,1288.5 824.0,1295.6 826.0,1302.5 828.0,1309.2 830.0,1315.6 832.0,1321.7 834.0,1327.5 836.0,1332.9 838.0,1337.9 840.0,1342.5 842.0,1346.8 844.0,1350.7 846.0,1354.2 848.0,1357.4 850.0,1360.3 852.0,1362.9 854.0,1365.2 856.0,1367.3 858.0,1369.1 860.0,1370.7 862.0,1372.1 864.0,1373.3 866.0,1374.4 868.0,1375.3 870.0,1376.0 872.0,1376.7 874.0,1377.2 876.0,1377.6 878.0,1377.9 880.0,1378.1 882.0,1378.2 884.0,1378.4 886.0,1378.4 888.0,1378.5 890.0,1378.6 892.0,1378.6 894.0,1378.6 896.0,1378.6 898.0,1378.6 900.0,1378.6 902.0,1378.6 904.0,1378.6 906.0,1378.6 908.0,1378.5 910.0,1378.5 912.0,1378.5 914.0,1378.4 916.0,1378.4 918.0,1378.3 920.0,1378.3 922.0,1378.2 924.0,1378.2 926.0,1378.1 928.0,1378.0 930.0,1377.9 932.0,1377.8 934.0,1377.7 936.0,1377.6 938.0,1377.5 940.0,1377.4 942.0,1377.2 944.0,1377.1 946.0,1376.9 948.0,1376.7 950.0,1376.5 952.0,1376.3 954.0,1376.1 956.0,1375.8 958.0,1375.6 960.0,1375.3 962.0,1375.0 964.0,1374.6 966.0,1374.3 968.0,1373.9 970.0,1373.5 972.0,1373.1 974.0,1372.7 976.0,1372.2 978.0,1371.7 980.0,1371.2 982.0,1370.7 984.0,1370.1 986.0,1369.5 988.0,1368.8 990.0,1368.2 992.0,1367.5 994.0,1366.7 996.0,1365.9 998.0,1365.1 1000.0,1364.3 1002.0,1363.4 1004.0,1362.4 1006.0,1361.5 1008.0,1360.5 1010.0,1359.5 1012.0,1358.4 1014.0,1357.4 1016.0,1356.3 1018.0,1355.2 1020.0,1354.0 1022.0,1352.9 1024.0,1351.7 1026.0,1350.6 1028.0,1349.4 1030.0,1348.2 1032.0,1347.1 1034.0,1345.9 1036.0,1344.8 1038.0,1343.6 1040.0,1342.5 1042.0,1341.5 1044.0,1340.5 1046.0,1339.5 1048.0,1338.6 1050.0,1337.7 1052.0,1336.9 1054.0,1336.1 1056.0,1335.5 1058.0,1334.9 1060.0,1334.4 1062.0,1334.0 1064.0,1333.7 1066.0,1333.5 1068.0,1333.4 1070.0,1333.3 1072.0,1333.4 1074.0,1333.7 1076.0,1334.0 1078.0,1334.4 1080.0,1334.9 1082.0,1335.6 1084.0,1336.3 1086.0,1337.1 1088.0,1338.0 1090.0,1338.9 1092.0,1339.9 1094.0,1341.0 1096.0,1342.1 1098.0,1343.3 1100.0,1344.5 1102.0,1345.7 1104.0,1346.9 1106.0,1348.1 1108.0,1349.3 1110.0,1350.4 1112.0,1351.6 1114.0,1352.7 1116.0,1353.7 1118.0,1354.7 1120.0,1355.7 1122.0,1356.5 1124.0,1357.3 1126.0,1358.1 1128.0,1358.7 1130.0,1359.2 1132.0,1359.7 1134.0,1360.1 1136.0,1360.3 1138.0,1360.5 1140.0,1360.6 1142.0,1360.5 1144.0,1360.4 1146.0,1360.2 1148.0,1359.9 1150.0,1359.5 1152.0,1359.0 1154.0,1358.5 1156.0,1357.8 1158.0,1357.2 1160.0,1356.4 1162.0,1355.7 1164.0,1354.9 1166.0,1354.1 1168.0,1353.3 1170.0,1352.4 1172.0,1351.6 1174.0,1350.8 1176.0,1350.1 1178.0,1349.3 1180.0,1348.7 1182.0,1348.0 1184.0,1347.4 1186.0,1346.9 1188.0,1346.4 1190.0,1346.0 1192.0,1345.6 1194.0,1345.3 1196.0,1344.9 1198.0,1344.6 1200.0,1344.2 1202.0,1343.8 1204.0,1343.2 1206.0,1342.6 1208.0,1341.8 1210.0,1340.8 1212.0,1339.5 1214.0,1338.0 1216.0,1336.2 1218.0,1334.1 1220.0,1331.6 1222.0,1328.8 1224.0,1325.5 1226.0,1322.0 1228.0,1318.1 1230.0,1313.8 1232.0,1309.4 1234.0,1304.7 1236.0,1299.9 1238.0,1295.0 1240.0,1290.3 1242.0,1285.7 1244.0,1281.3 1246.0,1277.4 1248.0,1273.9 1250.0,1271.1 1252.0,1268.9 1254.0,1267.5 1256.0,1267.0 1258.0,1267.3 1260.0,1268.5 1262.0,1270.7 1264.0,1273.8 1266.0,1277.7 1268.0,1282.5 1270.0,1287.9 1272.0,1294.0 1274.0,1300.7 1276.0,1307.7 1278.0,1315.0 1280.0,1322.5 1282.0,1330.1 1284.0,1337.6 1286.0,1344.9 1288.0,1352.0 1290.0,1358.9 1292.0,1365.4 1294.0,1371.4 1296.0,1377.1 1298.0,1382.3 1300.0,1387.0 1302.0,1391.3 1304.0,1395.2 1306.0,1398.7 1308.0,1401.9 1310.0,1404.7 1312.0,1407.2 1314.0,1409.4 1316.0,1411.4 1318.0,1413.2 1320.0,1414.7 1322.0,1416.1 1324.0,1417.3 1326.0,1418.4 1328.0,1419.3 1330.0,1420.2 1332.0,1421.0 1334.0,1421.7 1336.0,1422.3 1338.0,1422.9 1340.0,1423.4 1342.0,1423.9 1344.0,1424.3 1346.0,1424.7 1348.0,1425.1 1350.0,1425.4 1352.0,1425.7 1354.0,1426.0 1356.0,1426.3 1358.0,1426.6 1360.0,1426.8 1362.0,1427.0 1364.0,1427.2 1366.0,1427.4 1368.0,1427.6 1370.0,1427.8 1372.0,1428.0 1374.0,1428.1 1376.0,1428.3 1378.0,1428.5 1380.0,1428.6 1382.0,1428.7 1384.0,1428.9 1386.0,1429.0 1388.0,1429.1 1390.0,1429.2 1392.0,1429.3 1394.0,1429.4 1396.0,1429.5 1398.0,1429.6 1400.0,1429.7 1402.0,1429.8 1404.0,1429.9 1406.0,1430.0 1408.0,1430.1 1410.0,1430.1 1412.0,1430.2 1414.0,1430.2 1416.0,1430.3" fill="none" stroke="#0606d6" stroke-width="7" stroke-linejoin="round" stroke-linecap="round" />
<polyline points="130.0,1757.5 132.0,1758.6 134.0,1757.7 136.0,1757.3 138.0,1756.8 140.0,1757.4 142.0,1757.4 144.0,1756.2 146.0,1757.6 148.0,1756.4 150.0,1757.4 152.0,1756.7 154.0,1757.8 156.0,1757.5 158.0,1756.7 160.0,1756.4 162.0,1756.6 164.0,1757.2 166.0,1756.6 168.0,1755.6 170.0,1755.3 172.0,1755.9 174.0,1752.8 176.0,1754.0 178.0,1752.2 180.0,1753.2 182.0,1750.9 184.0,1750.2 186.0,1748.3 188.0,1747.9 190.0,1747.2 192.0,1746.3 194.0,1742.2 196.0,1741.0 198.0,1742.4 200.0,1737.7 202.0,1734.4 204.0,1732.1 206.0,1726.6 208.0,1726.8 210.0,1722.3 212.0,1717.5 214.0,1715.8 216.0,1710.5 218.0,1706.1 220.0,1703.2 222.0,1698.9 224.0,1694.0 226.0,1690.1 228.0,1684.9 230.0,1680.8 232.0,1678.8 234.0,1675.5 236.0,1671.4 238.0,1668.4 240.0,1665.2 242.0,1663.4 244.0,1661.2 246.0,1662.3 248.0,1660.1 250.0,1661.1 252.0,1661.7 254.0,1662.0 256.0,1666.7 258.0,1667.5 260.0,1670.2 262.0,1674.4 264.0,1677.5 266.0,1682.4 268.0,1686.0 270.0,1691.8 272.0,1696.1 274.0,1699.8 276.0,1706.5 278.0,1710.5 280.0,1714.2 282.0,1719.9 284.0,1724.4 286.0,1729.8 288.0,1731.7 290.0,1736.9 292.0,1739.8 294.0,1743.8 296.0,1746.3 298.0,1749.4 300.0,1752.6 302.0,1753.8 304.0,1755.4 306.0,1759.2 308.0,1760.8 310.0,1763.0 312.0,1765.0 314.0,1765.8 316.0,1768.2 318.0,1768.4 320.0,1769.6 322.0,1770.9 324.0,1771.4 326.0,1771.4 328.0,1772.1 330.0,1771.8 332.0,1772.3 334.0,1773.2 336.0,1774.1 338.0,1773.3 340.0,1774.5 342.0,1775.6 344.0,1775.9 346.0,1774.3 348.0,1775.2 350.0,1774.9 352.0,1775.1 354.0,1775.1 356.0,1774.9 358.0,1775.2 360.0,1774.7 362.0,1774.3 364.0,1774.7 366.0,1774.9 368.0,1775.5 370.0,1774.8 372.0,1775.1 374.0,1775.6 376.0,1773.7 378.0,1774.2 380.0,1774.9 382.0,1774.4 384.0,1773.6 386.0,1775.2 388.0,1774.3 390.0,1773.5 392.0,1775.8 394.0,1773.3 396.0,1774.3 398.0,1773.7 400.0,1774.3 402.0,1774.6 404.0,1773.5 406.0,1774.0 408.0,1773.9 410.0,1773.2 412.0,1774.9 414.0,1774.0 416.0,1773.5 418.0,1773.1 420.0,1773.3 422.0,1773.6 424.0,1773.0 426.0,1774.2 428.0,1771.0 430.0,1771.1 432.0,1772.4 434.0,1770.9 436.0,1772.1 438.0,1771.3 440.0,1772.0 442.0,1771.6 444.0,1772.0 446.0,1771.3 448.0,1771.1 450.0,1770.1 452.0,1770.1 454.0,1769.2 456.0,1767.8 458.0,1766.7 460.0,1766.2 462.0,1767.0 464.0,1764.1 466.0,1765.5 468.0,1764.1 470.0,1764.7 472.0,1763.6 474.0,1762.1 476.0,1762.0 478.0,1759.5 480.0,1760.9 482.0,1760.2 484.0,1757.4 486.0,1758.7 488.0,1757.1 490.0,1756.5 492.0,1754.4 494.0,1755.3 496.0,1754.5 498.0,1753.4 500.0,1751.9 502.0,1752.7 504.0,1752.6 506.0,1751.4 508.0,1751.4 510.0,1749.8 512.0,1750.1 514.0,1750.0 516.0,1749.6 518.0,1751.7 520.0,1749.7 522.0,1749.0 524.0,1750.3 526.0,1748.9 528.0,1750.4 530.0,1751.1 532.0,1750.5 534.0,1751.1 536.0,1751.2 538.0,1752.7 540.0,1752.8 542.0,1755.5 544.0,1755.4 546.0,1755.6 548.0,1755.5 550.0,1759.3 552.0,1759.7 554.0,1760.0 556.0,1760.8 558.0,1761.8 560.0,1762.4 562.0,1765.3 564.0,1765.0 566.0,1764.8 568.0,1766.5 570.0,1766.0 572.0,1769.6 574.0,1770.7 576.0,1772.5 578.0,1773.6 580.0,1772.2 582.0,1774.0 584.0,1775.2 586.0,1775.7 588.0,1775.3 590.0,1776.9 592.0,1777.1 594.0,1778.1 596.0,1777.3 598.0,1777.3 600.0,1777.2 602.0,1777.3 604.0,1776.9 606.0,1777.0 608.0,1777.5 610.0,1777.1 612.0,1777.4 614.0,1776.8 616.0,1775.9 618.0,1773.9 620.0,1774.7 622.0,1774.6 624.0,1771.9 626.0,1771.4 628.0,1770.8 630.0,1770.0 632.0,1769.8 634.0,1768.6 636.0,1768.9 638.0,1766.9 640.0,1767.1 642.0,1766.1 644.0,1765.0 646.0,1766.0 648.0,1764.5 650.0,1764.2 652.0,1762.8 654.0,1762.9 656.0,1762.1 658.0,1760.6 660.0,1758.4 662.0,1759.3 664.0,1757.9 666.0,1756.1 668.0,1754.4 670.0,1752.3 672.0,1750.0 674.0,1746.5 676.0,1744.3 678.0,1741.3 680.0,1736.9 682.0,1732.7 684.0,1730.8 686.0,1725.3 688.0,1720.0 690.0,1715.2 692.0,1708.9 694.0,1705.4 696.0,1702.1 698.0,1699.6 700.0,1693.6 702.0,1692.1 704.0,1692.4 706.0,1690.4 708.0,1690.2 710.0,1691.7 712.0,1692.4 714.0,1695.0 716.0,1699.0 718.0,1703.0 720.0,1705.6 722.0,1712.1 724.0,1713.8 726.0,1718.9 728.0,1725.9 730.0,1726.6 732.0,1730.6 734.0,1731.8 736.0,1734.3 738.0,1735.3 740.0,1736.2 742.0,1737.0 744.0,1737.2 746.0,1735.1 748.0,1733.5 750.0,1729.1 752.0,1727.2 754.0,1722.3 756.0,1718.2 758.0,1711.6 760.0,1706.1 762.0,1701.4 764.0,1694.7 766.0,1688.2 768.0,1681.6 770.0,1676.4 772.0,1671.7 774.0,1667.3 776.0,1662.4 778.0,1659.5 780.0,1658.0 782.0,1655.7 784.0,1657.3 786.0,1657.6 788.0,1659.5 790.0,1660.8 792.0,1665.5 794.0,1671.0 796.0,1677.2 798.0,1683.3 800.0,1691.6 802.0,1698.4 804.0,1705.6 806.0,1711.9 808.0,1722.4 810.0,1729.0 812.0,1737.4 814.0,1744.1 816.0,1752.0 818.0,1759.6 820.0,1765.9 822.0,1772.8 824.0,1777.8 826.0,1785.0 828.0,1786.9 830.0,1792.5 832.0,1797.9 834.0,1800.6 836.0,1803.8 838.0,1805.7 840.0,1810.8 842.0,1810.7 844.0,1814.9 846.0,1816.7 848.0,1819.1 850.0,1821.3 852.0,1821.2 854.0,1822.6 856.0,1824.4 858.0,1824.6 860.0,1827.9 862.0,1828.2 864.0,1829.8 866.0,1829.9 868.0,1831.9 870.0,1832.4 872.0,1833.8 874.0,1833.9 876.0,1836.4 878.0,1835.8 880.0,1835.0 882.0,1837.6 884.0,1837.0 886.0,1836.6 888.0,1839.3 890.0,1837.3 892.0,1836.3 894.0,1836.9 896.0,1837.7 898.0,1837.3 900.0,1838.4 902.0,1838.3 904.0,1836.8 906.0,1837.4 908.0,1837.9 910.0,1837.0 912.0,1836.9 914.0,1837.9 916.0,1837.5 918.0,1835.9 920.0,1836.5 922.0,1836.5 924.0,1836.7 926.0,1836.1 928.0,1837.6 930.0,1835.6 932.0,1835.3 934.0,1836.2 936.0,1834.0 938.0,1834.8 940.0,1835.9 942.0,1834.1 944.0,1834.2 946.0,1835.5 948.0,1834.7 950.0,1834.0 952.0,1833.8 954.0,1832.7 956.0,1833.1 958.0,1832.3 960.0,1834.0 962.0,1832.0 964.0,1830.8 966.0,1830.5 968.0,1830.0 970.0,1828.2 972.0,1828.1 974.0,1829.3 976.0,1826.2 978.0,1826.2 980.0,1826.7 982.0,1826.3 984.0,1823.4 986.0,1824.5 988.0,1822.1 990.0,1822.8 992.0,1820.9 994.0,1819.2 996.0,1819.0 998.0,1817.7 1000.0,1815.5 1002.0,1816.7 1004.0,1813.6 1006.0,1813.6 1008.0,1811.0 1010.0,1808.7 1012.0,1808.0 1014.0,1807.6 1016.0,1806.9 1018.0,1806.5 1020.0,1803.9 1022.0,1802.3 1024.0,1800.3 1026.0,1800.0 1028.0,1799.0 1030.0,1795.8 1032.0,1797.5 1034.0,1796.2 1036.0,1796.0 1038.0,1792.4 1040.0,1792.2 1042.0,1791.3 1044.0,1789.4 1046.0,1789.0 1048.0,1788.2 1050.0,1788.8 1052.0,1788.2 1054.0,1788.5 1056.0,1786.8 1058.0,1785.8 1060.0,1787.2 1062.0,1787.2 1064.0,1787.5 1066.0,1788.2 1068.0,1787.1 1070.0,1788.7 1072.0,1787.8 1074.0,1789.4 1076.0,1790.6 1078.0,1790.8 1080.0,1792.0 1082.0,1791.8 1084.0,1793.5 1086.0,1795.3 1088.0,1795.5 1090.0,1797.0 1092.0,1801.0 1094.0,1800.6 1096.0,1801.1 1098.0,1802.3 1100.0,1805.6 1102.0,1803.7 1104.0,1807.0 1106.0,1809.0 1108.0,1809.4 1110.0,1811.4 1112.0,1811.3 1114.0,1813.3 1116.0,1814.3 1118.0,1815.3 1120.0,1816.2 1122.0,1816.9 1124.0,1818.4 1126.0,1817.9 1128.0,1818.1 1130.0,1818.7 1132.0,1818.9 1134.0,1818.0 1136.0,1817.7 1138.0,1818.0 1140.0,1819.1 1142.0,1818.0 1144.0,1817.8 1146.0,1819.9 1148.0,1817.9 1150.0,1816.2 1152.0,1815.1 1154.0,1815.8 1156.0,1813.2 1158.0,1813.9 1160.0,1812.4 1162.0,1812.1 1164.0,1809.4 1166.0,1809.7 1168.0,1806.5 1170.0,1806.8 1172.0,1806.9 1174.0,1805.7 1176.0,1802.8 1178.0,1804.0 1180.0,1803.0 1182.0,1801.9 1184.0,1800.7 1186.0,1800.4 1188.0,1799.5 1190.0,1800.0 1192.0,1799.0 1194.0,1798.7 1196.0,1797.6 1198.0,1795.0 1200.0,1795.1 1202.0,1795.4 1204.0,1791.3 1206.0,1790.6 1208.0,1787.7 1210.0,1785.2 1212.0,1783.3 1214.0,1780.8 1216.0,1777.2 1218.0,1773.2 1220.0,1769.4 1222.0,1762.9 1224.0,1760.3 1226.0,1755.1 1228.0,1749.8 1230.0,1745.1 1232.0,1739.7 1234.0,1736.8 1236.0,1731.1 1238.0,1726.9 1240.0,1725.0 1242.0,1722.1 1244.0,1720.9 1246.0,1721.4 1248.0,1720.3 1250.0,1721.6 1252.0,1725.3 1254.0,1725.4 1256.0,1730.7 1258.0,1736.1 1260.0,1741.9 1262.0,1748.7 1264.0,1753.2 1266.0,1761.5 1268.0,1768.5 1270.0,1776.1 1272.0,1783.9 1274.0,1791.2 1276.0,1800.5 1278.0,1808.5 1280.0,1814.3 1282.0,1822.8 1284.0,1828.2 1286.0,1834.0 1288.0,1838.3 1290.0,1846.5 1292.0,1850.5 1294.0,1853.6 1296.0,1857.0 1298.0,1859.3 1300.0,1863.4 1302.0,1865.3 1304.0,1867.8 1306.0,1869.3 1308.0,1869.6 1310.0,1870.9 1312.0,1873.7 1314.0,1873.2 1316.0,1875.7 1318.0,1877.2 1320.0,1876.2 1322.0,1878.6 1324.0,1878.9 1326.0,1880.0 1328.0,1879.7 1330.0,1880.9 1332.0,1881.9 1334.0,1883.6 1336.0,1883.4 1338.0,1883.8 1340.0,1882.9 1342.0,1884.8 1344.0,1884.6 1346.0,1885.6 1348.0,1886.5 1350.0,1887.6 1352.0,1887.5 1354.0,1887.4 1356.0,1887.4 1358.0,1888.7 1360.0,1887.0 1362.0,1888.0 1364.0,1889.2 1366.0,1888.1 1368.0,1889.0 1370.0,1889.2 1372.0,1890.2 1374.0,1889.7 1376.0,1887.6 1378.0,1889.0 1380.0,1889.4 1382.0,1889.9 1384.0,1889.6 1386.0,1890.9 1388.0,1890.4 1390.0,1888.6 1392.0,1889.2 1394.0,1888.1 1396.0,1891.2 1398.0,1889.8 1400.0,1889.8 1402.0,1888.7 1404.0,1889.7 1406.0,1890.4 1408.0,1889.8 1410.0,1889.8 1412.0,1889.6 1414.0,1891.7 1416.0,1889.7" fill="none" stroke="#000" stroke-width="5" stroke-linejoin="round" stroke-linecap="round" />
<polyline points="130.0,1760.0 132.0,1760.0 134.0,1760.0 136.0,1760.0 138.0,1760.0 140.0,1760.0 142.0,1760.1 144.0,1760.1 146.0,1760.1 148.0,1760.1 150.0,1760.2 152.0,1760.2 154.0,1760.2 156.0,1760.2 158.0,1760.3 160.0,1760.3 162.0,1760.4 164.0,1760.4 166.0,1760.5 168.0,1760.5 170.0,1760.5 172.0,1760.6 174.0,1760.6 176.0,1760.7 178.0,1760.7 180.0,1760.8 182.0,1760.9 184.0,1760.9 186.0,1761.0 188.0,1761.2 190.0,1761.3 192.0,1761.4 194.0,1761.6 196.0,1761.8 198.0,1761.9 200.0,1762.1 202.0,1762.3 204.0,1762.6 206.0,1762.8 208.0,1763.0 210.0,1763.3 212.0,1763.5 214.0,1763.8 216.0,1764.0 218.0,1764.3 220.0,1764.6 222.0,1764.8 224.0,1765.1 226.0,1765.4 228.0,1765.7 230.0,1765.9 232.0,1766.2 234.0,1766.5 236.0,1766.8 238.0,1767.1 240.0,1767.3 242.0,1767.6 244.0,1767.9 246.0,1768.1 248.0,1768.4 250.0,1768.6 252.0,1768.8 254.0,1769.1 256.0,1769.3 258.0,1769.6 260.0,1769.9 262.0,1770.1 264.0,1770.4 266.0,1770.6 268.0,1770.9 270.0,1771.2 272.0,1771.4 274.0,1771.7 276.0,1772.0 278.0,1772.2 280.0,1772.5 282.0,1772.8 284.0,1773.0 286.0,1773.3 288.0,1773.6 290.0,1773.8 292.0,1774.1 294.0,1774.3 296.0,1774.5 298.0,1774.8 300.0,1775.0 302.0,1775.2 304.0,1775.5 306.0,1775.7 308.0,1775.9 310.0,1776.2 312.0,1776.4 314.0,1776.6 316.0,1776.9 318.0,1777.1 320.0,1777.3 322.0,1777.6 324.0,1777.8 326.0,1778.0 328.0,1778.2 330.0,1778.4 332.0,1778.6 334.0,1778.8 336.0,1779.0 338.0,1779.2 340.0,1779.4 342.0,1779.5 344.0,1779.7 346.0,1779.8 348.0,1779.9 350.0,1780.0 352.0,1780.1 354.0,1780.2 356.0,1780.3 358.0,1780.3 360.0,1780.4 362.0,1780.5 364.0,1780.6 366.0,1780.6 368.0,1780.7 370.0,1780.7 372.0,1780.8 374.0,1780.9 376.0,1780.9 378.0,1781.0 380.0,1781.0 382.0,1781.1 384.0,1781.1 386.0,1781.2 388.0,1781.2 390.0,1781.2 392.0,1781.3 394.0,1781.3 396.0,1781.4 398.0,1781.4 400.0,1781.5 402.0,1781.5 404.0,1781.5 406.0,1781.6 408.0,1781.6 410.0,1781.7 412.0,1781.7 414.0,1781.8 416.0,1781.8 418.0,1781.9 420.0,1782.0 422.0,1782.0 424.0,1782.1 426.0,1782.2 428.0,1782.2 430.0,1782.3 432.0,1782.4 434.0,1782.5 436.0,1782.5 438.0,1782.6 440.0,1782.7 442.0,1782.8 444.0,1782.9 446.0,1783.0 448.0,1783.0 450.0,1783.1 452.0,1783.2 454.0,1783.3 456.0,1783.4 458.0,1783.5 460.0,1783.6 462.0,1783.7 464.0,1783.8 466.0,1783.9 468.0,1784.0 470.0,1784.1 472.0,1784.2 474.0,1784.3 476.0,1784.5 478.0,1784.6 480.0,1784.7 482.0,1784.8 484.0,1784.9 486.0,1785.0 488.0,1785.2 490.0,1785.3 492.0,1785.4 494.0,1785.5 496.0,1785.7 498.0,1785.8 500.0,1785.9 502.0,1786.1 504.0,1786.2 506.0,1786.3 508.0,1786.5 510.0,1786.6 512.0,1786.8 514.0,1786.9 516.0,1787.1 518.0,1787.2 520.0,1787.4 522.0,1787.6 524.0,1787.7 526.0,1787.9 528.0,1788.1 530.0,1788.3 532.0,1788.5 534.0,1788.7 536.0,1788.9 538.0,1789.2 540.0,1789.4 542.0,1789.6 544.0,1789.8 546.0,1790.1 548.0,1790.3 550.0,1790.5 552.0,1790.8 554.0,1791.0 556.0,1791.2 558.0,1791.5 560.0,1791.7 562.0,1791.9 564.0,1792.2 566.0,1792.5 568.0,1792.8 570.0,1793.1 572.0,1793.4 574.0,1793.7 576.0,1794.0 578.0,1794.3 580.0,1794.6 582.0,1794.9 584.0,1795.2 586.0,1795.5 588.0,1795.8 590.0,1796.0 592.0,1796.3 594.0,1796.6 596.0,1796.8 598.0,1797.0 600.0,1797.2 602.0,1797.4 604.0,1797.6 606.0,1797.7 608.0,1797.9 610.0,1798.0 612.0,1798.2 614.0,1798.3 616.0,1798.4 618.0,1798.6 620.0,1798.7 622.0,1798.8 624.0,1798.9 626.0,1799.1 628.0,1799.2 630.0,1799.3 632.0,1799.4 634.0,1799.5 636.0,1799.6 638.0,1799.7 640.0,1799.9 642.0,1800.0 644.0,1800.1 646.0,1800.2 648.0,1800.3 650.0,1800.5 652.0,1800.6 654.0,1800.7 656.0,1800.9 658.0,1801.0 660.0,1801.2 662.0,1801.4 664.0,1801.5 666.0,1801.7 668.0,1801.9 670.0,1802.0 672.0,1802.2 674.0,1802.4 676.0,1802.6 678.0,1802.8 680.0,1803.0 682.0,1803.2 684.0,1803.3 686.0,1803.5 688.0,1803.7 690.0,1803.9 692.0,1804.2 694.0,1804.4 696.0,1804.6 698.0,1804.8 700.0,1805.0 702.0,1805.2 704.0,1805.4 706.0,1805.6 708.0,1805.9 710.0,1806.1 712.0,1806.3 714.0,1806.5 716.0,1806.7 718.0,1807.0 720.0,1807.2 722.0,1807.4 724.0,1807.7 726.0,1807.9 728.0,1808.1 730.0,1808.3 732.0,1808.6 734.0,1808.8 736.0,1809.0 738.0,1809.3 740.0,1809.5 742.0,1809.8 744.0,1810.0 746.0,1810.3 748.0,1810.5 750.0,1810.8 752.0,1811.0 754.0,1811.3 756.0,1811.6 758.0,1811.8 760.0,1812.1 762.0,1812.4 764.0,1812.7 766.0,1812.9 768.0,1813.2 770.0,1813.5 772.0,1813.8 774.0,1814.1 776.0,1814.5 778.0,1814.8 780.0,1815.1 782.0,1815.4 784.0,1815.8 786.0,1816.2 788.0,1816.6 790.0,1817.0 792.0,1817.4 794.0,1817.8 796.0,1818.2 798.0,1818.7 800.0,1819.1 802.0,1819.5 804.0,1820.0 806.0,1820.5 808.0,1820.9 810.0,1821.4 812.0,1821.9 814.0,1822.4 816.0,1822.9 818.0,1823.4 820.0,1824.0 822.0,1824.5 824.0,1825.0 826.0,1825.5 828.0,1826.0 830.0,1826.5 832.0,1827.1 834.0,1827.6 836.0,1828.1 838.0,1828.6 840.0,1829.1 842.0,1829.6 844.0,1830.2 846.0,1830.7 848.0,1831.3 850.0,1832.0 852.0,1832.6 854.0,1833.2 856.0,1833.8 858.0,1834.4 860.0,1835.0 862.0,1835.6 864.0,1836.2 866.0,1836.7 868.0,1837.2 870.0,1837.6 872.0,1838.0 874.0,1838.4 876.0,1838.7 878.0,1838.9 880.0,1839.0 882.0,1839.1 884.0,1839.2 886.0,1839.3 888.0,1839.4 890.0,1839.4 892.0,1839.5 894.0,1839.6 896.0,1839.6 898.0,1839.7 900.0,1839.7 902.0,1839.8 904.0,1839.8 906.0,1839.9 908.0,1839.9 910.0,1840.0 912.0,1840.0 914.0,1840.0 916.0,1840.1 918.0,1840.1 920.0,1840.1 922.0,1840.2 924.0,1840.2 926.0,1840.2 928.0,1840.2 930.0,1840.3 932.0,1840.3 934.0,1840.3 936.0,1840.4 938.0,1840.4 940.0,1840.5 942.0,1840.5 944.0,1840.5 946.0,1840.6 948.0,1840.6 950.0,1840.7 952.0,1840.7 954.0,1840.8 956.0,1840.9 958.0,1840.9 960.0,1841.0 962.0,1841.1 964.0,1841.2 966.0,1841.3 968.0,1841.3 970.0,1841.4 972.0,1841.5 974.0,1841.7 976.0,1841.8 978.0,1841.9 980.0,1842.0 982.0,1842.1 984.0,1842.3 986.0,1842.4 988.0,1842.5 990.0,1842.7 992.0,1842.8 994.0,1843.0 996.0,1843.1 998.0,1843.3 1000.0,1843.5 1002.0,1843.6 1004.0,1843.8 1006.0,1844.0 1008.0,1844.1 1010.0,1844.3 1012.0,1844.5 1014.0,1844.7 1016.0,1844.9 1018.0,1845.1 1020.0,1845.3 1022.0,1845.4 1024.0,1845.6 1026.0,1845.8 1028.0,1846.0 1030.0,1846.2 1032.0,1846.4 1034.0,1846.6 1036.0,1846.8 1038.0,1847.0 1040.0,1847.3 1042.0,1847.5 1044.0,1847.7 1046.0,1847.9 1048.0,1848.1 1050.0,1848.3 1052.0,1848.5 1054.0,1848.7 1056.0,1848.9 1058.0,1849.1 1060.0,1849.3 1062.0,1849.6 1064.0,1849.8 1066.0,1850.0 1068.0,1850.2 1070.0,1850.4 1072.0,1850.6 1074.0,1850.8 1076.0,1851.1 1078.0,1851.3 1080.0,1851.5 1082.0,1851.8 1084.0,1852.1 1086.0,1852.3 1088.0,1852.6 1090.0,1852.8 1092.0,1853.1 1094.0,1853.4 1096.0,1853.7 1098.0,1853.9 1100.0,1854.2 1102.0,1854.5 1104.0,1854.7 1106.0,1855.0 1108.0,1855.3 1110.0,1855.5 1112.0,1855.8 1114.0,1856.0 1116.0,1856.2 1118.0,1856.5 1120.0,1856.7 1122.0,1856.9 1124.0,1857.1 1126.0,1857.3 1128.0,1857.5 1130.0,1857.7 1132.0,1857.9 1134.0,1858.1 1136.0,1858.3 1138.0,1858.5 1140.0,1858.6 1142.0,1858.8 1144.0,1859.0 1146.0,1859.1 1148.0,1859.3 1150.0,1859.5 1152.0,1859.6 1154.0,1859.8 1156.0,1860.0 1158.0,1860.1 1160.0,1860.3 1162.0,1860.5 1164.0,1860.6 1166.0,1860.8 1168.0,1861.0 1170.0,1861.1 1172.0,1861.3 1174.0,1861.5 1176.0,1861.7 1178.0,1861.8 1180.0,1862.0 1182.0,1862.2 1184.0,1862.4 1186.0,1862.6 1188.0,1862.8 1190.0,1863.0 1192.0,1863.3 1194.0,1863.5 1196.0,1863.7 1198.0,1864.0 1200.0,1864.2 1202.0,1864.5 1204.0,1864.7 1206.0,1865.0 1208.0,1865.3 1210.0,1865.6 1212.0,1865.9 1214.0,1866.2 1216.0,1866.5 1218.0,1866.8 1220.0,1867.2 1222.0,1867.5 1224.0,1867.9 1226.0,1868.2 1228.0,1868.6 1230.0,1869.0 1232.0,1869.3 1234.0,1869.7 1236.0,1870.1 1238.0,1870.5 1240.0,1870.9 1242.0,1871.3 1244.0,1871.6 1246.0,1872.0 1248.0,1872.4 1250.0,1872.8 1252.0,1873.2 1254.0,1873.6 1256.0,1874.0 1258.0,1874.4 1260.0,1874.8 1262.0,1875.2 1264.0,1875.6 1266.0,1876.1 1268.0,1876.5 1270.0,1877.0 1272.0,1877.5 1274.0,1877.9 1276.0,1878.4 1278.0,1878.9 1280.0,1879.4 1282.0,1879.8 1284.0,1880.3 1286.0,1880.8 1288.0,1881.2 1290.0,1881.6 1292.0,1882.0 1294.0,1882.4 1296.0,1882.8 1298.0,1883.1 1300.0,1883.4 1302.0,1883.7 1304.0,1884.0 1306.0,1884.2 1308.0,1884.5 1310.0,1884.7 1312.0,1885.0 1314.0,1885.2 1316.0,1885.4 1318.0,1885.7 1320.0,1885.9 1322.0,1886.1 1324.0,1886.3 1326.0,1886.5 1328.0,1886.7 1330.0,1886.9 1332.0,1887.0 1334.0,1887.2 1336.0,1887.3 1338.0,1887.5 1340.0,1887.6 1342.0,1887.7 1344.0,1887.9 1346.0,1888.0 1348.0,1888.1 1350.0,1888.2 1352.0,1888.3 1354.0,1888.5 1356.0,1888.6 1358.0,1888.7 1360.0,1888.8 1362.0,1888.9 1364.0,1889.1 1366.0,1889.2 1368.0,1889.3 1370.0,1889.4 1372.0,1889.5 1374.0,1889.6 1376.0,1889.7 1378.0,1889.8 1380.0,1889.9 1382.0,1890.0 1384.0,1890.1 1386.0,1890.1 1388.0,1890.2 1390.0,1890.3 1392.0,1890.4 1394.0,1890.4 1396.0,1890.5 1398.0,1890.5 1400.0,1890.6 1402.0,1890.6 1404.0,1890.7 1406.0,1890.7 1408.0,1890.7 1410.0,1890.8 1412.0,1890.8 1414.0,1890.8 1416.0,1890.8" fill="none" stroke="#e40c0c" stroke-width="5.5" stroke-linejoin="round" stroke-linecap="round" />
<polyline points="130.0,1758.1 132.0,1758.0 134.0,1758.0 136.0,1757.9 138.0,1757.9 140.0,1757.8 142.0,1757.7 144.0,1757.6 146.0,1757.6 148.0,1757.5 150.0,1757.4 152.0,1757.3 154.0,1757.1 156.0,1757.0 158.0,1756.8 160.0,1756.7 162.0,1756.5 164.0,1756.2 166.0,1755.9 168.0,1755.6 170.0,1755.2 172.0,1754.8 174.0,1754.3 176.0,1753.7 178.0,1753.0 180.0,1752.3 182.0,1751.4 184.0,1750.4 186.0,1749.3 188.0,1748.1 190.0,1746.7 192.0,1745.1 194.0,1743.4 196.0,1741.5 198.0,1739.4 200.0,1737.0 202.0,1734.5 204.0,1731.8 206.0,1728.8 208.0,1725.7 210.0,1722.3 212.0,1718.7 214.0,1715.0 216.0,1711.1 218.0,1707.1 220.0,1702.9 222.0,1698.7 224.0,1694.5 226.0,1690.3 228.0,1686.1 230.0,1682.1 232.0,1678.2 234.0,1674.6 236.0,1671.2 238.0,1668.2 240.0,1665.7 242.0,1663.6 244.0,1662.0 246.0,1661.1 248.0,1660.7 250.0,1660.9 252.0,1661.8 254.0,1663.2 256.0,1665.3 258.0,1667.9 260.0,1671.0 262.0,1674.5 264.0,1678.3 266.0,1682.5 268.0,1686.9 270.0,1691.5 272.0,1696.2 274.0,1701.0 276.0,1705.8 278.0,1710.5 280.0,1715.2 282.0,1719.8 284.0,1724.2 286.0,1728.4 288.0,1732.5 290.0,1736.4 292.0,1740.0 294.0,1743.5 296.0,1746.7 298.0,1749.6 300.0,1752.4 302.0,1754.9 304.0,1757.2 306.0,1759.3 308.0,1761.3 310.0,1763.0 312.0,1764.6 314.0,1766.1 316.0,1767.4 318.0,1768.6 320.0,1769.6 322.0,1770.6 324.0,1771.4 326.0,1772.2 328.0,1772.9 330.0,1773.6 332.0,1774.1 334.0,1774.6 336.0,1775.1 338.0,1775.5 340.0,1775.9 342.0,1776.3 344.0,1776.6 346.0,1776.9 348.0,1777.1 350.0,1777.3 352.0,1777.5 354.0,1777.7 356.0,1777.9 358.0,1778.1 360.0,1778.2 362.0,1778.4 364.0,1778.5 366.0,1778.7 368.0,1778.8 370.0,1778.9 372.0,1779.0 374.0,1779.1 376.0,1779.2 378.0,1779.3 380.0,1779.4 382.0,1779.5 384.0,1779.6 386.0,1779.7 388.0,1779.8 390.0,1779.9 392.0,1779.9 394.0,1780.0 396.0,1780.1 398.0,1780.2 400.0,1780.3 402.0,1780.3 404.0,1780.4 406.0,1780.5 408.0,1780.5 410.0,1780.6 412.0,1780.7 414.0,1780.8 416.0,1780.9 418.0,1780.9 420.0,1781.0 422.0,1781.1 424.0,1781.2 426.0,1781.3 428.0,1781.4 430.0,1781.4 432.0,1781.5 434.0,1781.6 436.0,1781.7 438.0,1781.8 440.0,1781.9 442.0,1782.0 444.0,1782.1 446.0,1782.2 448.0,1782.3 450.0,1782.4 452.0,1782.5 454.0,1782.6 456.0,1782.8 458.0,1782.9 460.0,1783.0 462.0,1783.1 464.0,1783.2 466.0,1783.3" fill="none" stroke="#0606d6" stroke-width="4.5" stroke-linejoin="round" stroke-linecap="round" />
<polyline points="394.0,1780.7 396.0,1780.7 398.0,1780.7 400.0,1780.6 402.0,1780.5 404.0,1780.5 406.0,1780.4 408.0,1780.3 410.0,1780.2 412.0,1780.0 414.0,1779.9 416.0,1779.7 418.0,1779.6 420.0,1779.4 422.0,1779.1 424.0,1778.9 426.0,1778.6 428.0,1778.4 430.0,1778.1 432.0,1777.7 434.0,1777.4 436.0,1777.0 438.0,1776.6 440.0,1776.1 442.0,1775.6 444.0,1775.1 446.0,1774.6 448.0,1774.0 450.0,1773.4 452.0,1772.8 454.0,1772.1 456.0,1771.4 458.0,1770.7 460.0,1770.0 462.0,1769.2 464.0,1768.4 466.0,1767.6 468.0,1766.8 470.0,1765.9 472.0,1765.0 474.0,1764.2 476.0,1763.3 478.0,1762.4 480.0,1761.5 482.0,1760.6 484.0,1759.7 486.0,1758.9 488.0,1758.0 490.0,1757.2 492.0,1756.4 494.0,1755.6 496.0,1754.9 498.0,1754.2 500.0,1753.5 502.0,1752.9 504.0,1752.4 506.0,1751.9 508.0,1751.4 510.0,1751.1 512.0,1750.8 514.0,1750.5 516.0,1750.3 518.0,1750.2 520.0,1750.2 522.0,1750.3 524.0,1750.4 526.0,1750.7 528.0,1751.0 530.0,1751.3 532.0,1751.8 534.0,1752.3 536.0,1752.9 538.0,1753.6 540.0,1754.3 542.0,1755.2 544.0,1756.0 546.0,1756.9 548.0,1757.9 550.0,1758.9 552.0,1760.0 554.0,1761.1 556.0,1762.2 558.0,1763.4 560.0,1764.6 562.0,1765.8 564.0,1767.1 566.0,1768.3 568.0,1769.6 570.0,1770.9 572.0,1772.2 574.0,1773.5 576.0,1774.8 578.0,1776.1 580.0,1777.4 582.0,1778.6 584.0,1779.8 586.0,1781.0 588.0,1782.2 590.0,1783.3 592.0,1784.4 594.0,1785.4 596.0,1786.4 598.0,1787.3 600.0,1788.2 602.0,1789.0 604.0,1789.8 606.0,1790.6 608.0,1791.3 610.0,1792.0 612.0,1792.6 614.0,1793.2 616.0,1793.8 618.0,1794.3 620.0,1794.8 622.0,1795.3 624.0,1795.8 626.0,1796.2 628.0,1796.6 630.0,1796.9 632.0,1797.3 634.0,1797.6 636.0,1797.9 638.0,1798.2 640.0,1798.5 642.0,1798.8 644.0,1799.0 646.0,1799.3 648.0,1799.5 650.0,1799.7 652.0,1800.0 654.0,1800.2" fill="none" stroke="#0606d6" stroke-width="4.5" stroke-linejoin="round" stroke-linecap="round" />
<polyline points="552.0,1790.2 554.0,1790.3 556.0,1790.5 558.0,1790.6 560.0,1790.7 562.0,1790.8 564.0,1790.9 566.0,1791.0 568.0,1791.1 570.0,1791.1 572.0,1791.2 574.0,1791.2 576.0,1791.2 578.0,1791.1 580.0,1791.1 582.0,1790.9 584.0,1790.8 586.0,1790.6 588.0,1790.4 590.0,1790.1 592.0,1789.7 594.0,1789.3 596.0,1788.9 598.0,1788.3 600.0,1787.8 602.0,1787.1 604.0,1786.5 606.0,1785.7 608.0,1785.0 610.0,1784.2 612.0,1783.3 614.0,1782.5 616.0,1781.6 618.0,1780.7 620.0,1779.7 622.0,1778.8 624.0,1777.9 626.0,1776.9 628.0,1776.0 630.0,1775.1 632.0,1774.2 634.0,1773.4 636.0,1772.6 638.0,1771.8 640.0,1771.1 642.0,1770.5 644.0,1769.9 646.0,1769.4 648.0,1769.0 650.0,1768.6 652.0,1768.4 654.0,1768.2 656.0,1768.2 658.0,1768.2 660.0,1768.3 662.0,1768.6 664.0,1768.9 666.0,1769.3 668.0,1769.8 670.0,1770.5 672.0,1771.1 674.0,1771.9 676.0,1772.8 678.0,1773.7 680.0,1774.7 682.0,1775.7 684.0,1776.8 686.0,1777.9 688.0,1779.1 690.0,1780.3 692.0,1781.6 694.0,1782.8 696.0,1784.1 698.0,1785.3 700.0,1786.6 702.0,1787.9 704.0,1789.1 706.0,1790.4 708.0,1791.6 710.0,1792.8 712.0,1793.9 714.0,1795.0 716.0,1796.1 718.0,1797.2 720.0,1798.2 722.0,1799.2 724.0,1800.1 726.0,1801.0 728.0,1801.9 730.0,1802.7 732.0,1803.5 734.0,1804.2 736.0,1804.9 738.0,1805.6 740.0,1806.2 742.0,1806.8 744.0,1807.4 746.0,1807.9 748.0,1808.5 750.0,1809.0 752.0,1809.4 754.0,1809.9 756.0,1810.3 758.0,1810.8 760.0,1811.2 762.0,1811.6 764.0,1812.0 766.0,1812.3" fill="none" stroke="#e40c0c" stroke-width="4.5" stroke-linejoin="round" stroke-linecap="round" />
<polyline points="580.0,1794.0 582.0,1794.3 584.0,1794.6 586.0,1794.8 588.0,1795.1 590.0,1795.4 592.0,1795.6 594.0,1795.8 596.0,1796.0 598.0,1796.2 600.0,1796.4 602.0,1796.5 604.0,1796.7 606.0,1796.8 608.0,1796.9 610.0,1797.0 612.0,1797.1 614.0,1797.2 616.0,1797.3 618.0,1797.4 620.0,1797.5 622.0,1797.6 624.0,1797.6 626.0,1797.7 628.0,1797.7 630.0,1797.7 632.0,1797.8 634.0,1797.8 636.0,1797.8 638.0,1797.8 640.0,1797.7 642.0,1797.6 644.0,1797.5 646.0,1797.3 648.0,1797.1 650.0,1796.8 652.0,1796.4 654.0,1795.9 656.0,1795.3 658.0,1794.5 660.0,1793.5 662.0,1792.2 664.0,1790.8 666.0,1789.0 668.0,1786.9 670.0,1784.4 672.0,1781.6 674.0,1778.4 676.0,1774.7 678.0,1770.7 680.0,1766.3 682.0,1761.5 684.0,1756.4 686.0,1751.0 688.0,1745.5 690.0,1739.9 692.0,1734.2 694.0,1728.8 696.0,1723.6 698.0,1718.8 700.0,1714.6 702.0,1711.0 704.0,1708.4 706.0,1706.6 708.0,1706.0 710.0,1706.3 712.0,1707.8 714.0,1710.2 716.0,1713.6 718.0,1717.8 720.0,1722.6 722.0,1728.0 724.0,1733.7 726.0,1739.7 728.0,1745.8 730.0,1751.8 732.0,1757.8 734.0,1763.5 736.0,1768.9 738.0,1774.0 740.0,1778.8 742.0,1783.1 744.0,1787.0 746.0,1790.6 748.0,1793.7 750.0,1796.5 752.0,1798.9 754.0,1801.0 756.0,1802.9 758.0,1804.5 760.0,1805.8 762.0,1807.0 764.0,1808.0 766.0,1808.9 768.0,1809.7 770.0,1810.4 772.0,1811.1 774.0,1811.6 776.0,1812.2 778.0,1812.7 780.0,1813.2 782.0,1813.6 784.0,1814.1 786.0,1814.6 788.0,1815.0 790.0,1815.5 792.0,1816.0 794.0,1816.5 796.0,1817.0 798.0,1817.5 800.0,1818.0 802.0,1818.4 804.0,1818.9 806.0,1819.5 808.0,1820.0 810.0,1820.5 812.0,1821.0 814.0,1821.6 816.0,1822.1 818.0,1822.6 820.0,1823.2 822.0,1823.7 824.0,1824.3 826.0,1824.8 828.0,1825.3 830.0,1825.9 832.0,1826.4 834.0,1827.0 836.0,1827.5 838.0,1828.0" fill="none" stroke="#0606d6" stroke-width="4.5" stroke-linejoin="round" stroke-linecap="round" />
<polyline points="712.0,1805.8 714.0,1805.7 716.0,1805.6 718.0,1805.4 720.0,1805.2 722.0,1804.8 724.0,1804.3 726.0,1803.7 728.0,1803.1 730.0,1802.5 732.0,1801.9 734.0,1801.4 736.0,1801.0 738.0,1800.8 740.0,1800.8 742.0,1801.0 744.0,1801.5 746.0,1802.2 748.0,1803.1 750.0,1804.1 752.0,1805.2 754.0,1806.3 756.0,1807.4 758.0,1808.5 760.0,1809.4 762.0,1810.3 764.0,1811.1 766.0,1811.8 768.0,1812.4 770.0,1813.0" fill="none" stroke="#e40c0c" stroke-width="4.5" stroke-linejoin="round" stroke-linecap="round" />
<polyline points="702.0,1804.7 704.0,1804.8 706.0,1804.8 708.0,1804.8 710.0,1804.7 712.0,1804.5 714.0,1804.2 716.0,1803.8 718.0,1803.3 720.0,1802.6 722.0,1801.7 724.0,1800.6 726.0,1799.2 728.0,1797.6 730.0,1795.6 732.0,1793.3 734.0,1790.6 736.0,1787.5 738.0,1783.9 740.0,1779.9 742.0,1775.5 744.0,1770.5 746.0,1765.1 748.0,1759.2 750.0,1752.9 752.0,1746.2 754.0,1739.1 756.0,1731.8 758.0,1724.3 760.0,1716.7 762.0,1709.1 764.0,1701.7 766.0,1694.5 768.0,1687.6 770.0,1681.2 772.0,1675.5 774.0,1670.4 776.0,1666.2 778.0,1662.9 780.0,1660.6 782.0,1659.3 784.0,1659.1 786.0,1660.0 788.0,1662.0 790.0,1665.0 792.0,1669.0 794.0,1673.9 796.0,1679.7 798.0,1686.2 800.0,1693.3 802.0,1700.8 804.0,1708.8 806.0,1717.0 808.0,1725.3 810.0,1733.7 812.0,1741.9 814.0,1750.0 816.0,1757.8 818.0,1765.3 820.0,1772.4 822.0,1779.1 824.0,1785.3 826.0,1791.0 828.0,1796.3 830.0,1801.1 832.0,1805.4 834.0,1809.3 836.0,1812.7 838.0,1815.8 840.0,1818.5 842.0,1820.9 844.0,1823.0 846.0,1825.0 848.0,1826.7 850.0,1828.2 852.0,1829.6 854.0,1830.9 856.0,1832.0 858.0,1833.0 860.0,1833.9 862.0,1834.8 864.0,1835.5 866.0,1836.2" fill="none" stroke="#0606d6" stroke-width="4.5" stroke-linejoin="round" stroke-linecap="round" />
<polyline points="772.0,1813.2 774.0,1813.5 776.0,1813.8 778.0,1814.2 780.0,1814.5 782.0,1814.8 784.0,1815.2 786.0,1815.5 788.0,1815.9 790.0,1816.3 792.0,1816.7 794.0,1817.1 796.0,1817.5 798.0,1818.0 800.0,1818.4 802.0,1818.8 804.0,1819.3 806.0,1819.7 808.0,1820.2 810.0,1820.7 812.0,1821.1 814.0,1821.6 816.0,1822.1 818.0,1822.6 820.0,1823.1 822.0,1823.6 824.0,1824.1 826.0,1824.6 828.0,1825.1 830.0,1825.6 832.0,1826.1 834.0,1826.6 836.0,1827.1 838.0,1827.6 840.0,1828.1 842.0,1828.6 844.0,1829.1 846.0,1829.7 848.0,1830.3 850.0,1830.9 852.0,1831.5 854.0,1832.1 856.0,1832.7 858.0,1833.3 860.0,1833.9 862.0,1834.4 864.0,1835.0 866.0,1835.5 868.0,1835.9 870.0,1836.3 872.0,1836.7 874.0,1837.0 876.0,1837.3 878.0,1837.4 880.0,1837.5 882.0,1837.6 884.0,1837.7 886.0,1837.7 888.0,1837.7 890.0,1837.8 892.0,1837.8 894.0,1837.8 896.0,1837.8 898.0,1837.8 900.0,1837.8 902.0,1837.8 904.0,1837.8 906.0,1837.7 908.0,1837.7 910.0,1837.7 912.0,1837.6 914.0,1837.5 916.0,1837.5 918.0,1837.4 920.0,1837.3 922.0,1837.2 924.0,1837.1 926.0,1837.0 928.0,1836.8 930.0,1836.7 932.0,1836.5 934.0,1836.3 936.0,1836.1 938.0,1835.9 940.0,1835.7 942.0,1835.4 944.0,1835.2 946.0,1834.9 948.0,1834.6 950.0,1834.3 952.0,1833.9 954.0,1833.5 956.0,1833.2 958.0,1832.7 960.0,1832.3 962.0,1831.8 964.0,1831.3 966.0,1830.8 968.0,1830.2 970.0,1829.6 972.0,1829.0 974.0,1828.3 976.0,1827.6 978.0,1826.8 980.0,1826.1 982.0,1825.3 984.0,1824.4 986.0,1823.5 988.0,1822.6 990.0,1821.7 992.0,1820.7 994.0,1819.6 996.0,1818.6 998.0,1817.5 1000.0,1816.4 1002.0,1815.2 1004.0,1814.0 1006.0,1812.8 1008.0,1811.6 1010.0,1810.4 1012.0,1809.1 1014.0,1807.8 1016.0,1806.6 1018.0,1805.3 1020.0,1804.0 1022.0,1802.7 1024.0,1801.4 1026.0,1800.2 1028.0,1799.0 1030.0,1797.8 1032.0,1796.6 1034.0,1795.5 1036.0,1794.4 1038.0,1793.3 1040.0,1792.4 1042.0,1791.5 1044.0,1790.6 1046.0,1789.9 1048.0,1789.2 1050.0,1788.6 1052.0,1788.1 1054.0,1787.7 1056.0,1787.4 1058.0,1787.2 1060.0,1787.1 1062.0,1787.1 1064.0,1787.3 1066.0,1787.5 1068.0,1787.9 1070.0,1788.4 1072.0,1789.0 1074.0,1789.7 1076.0,1790.5 1078.0,1791.5 1080.0,1792.5 1082.0,1793.6 1084.0,1794.8 1086.0,1796.1 1088.0,1797.5 1090.0,1799.0 1092.0,1800.5 1094.0,1802.0 1096.0,1803.6 1098.0,1805.2 1100.0,1806.9 1102.0,1808.6 1104.0,1810.3 1106.0,1812.0 1108.0,1813.8 1110.0,1815.5 1112.0,1817.2 1114.0,1818.9 1116.0,1820.6 1118.0,1822.3 1120.0,1823.9 1122.0,1825.5 1124.0,1827.1 1126.0,1828.7 1128.0,1830.2 1130.0,1831.7 1132.0,1833.1 1134.0,1834.5 1136.0,1835.9 1138.0,1837.2 1140.0,1838.5 1142.0,1839.8 1144.0,1841.0 1146.0,1842.1 1148.0,1843.2 1150.0,1844.3 1152.0,1845.3 1154.0,1846.3 1156.0,1847.3 1158.0,1848.2 1160.0,1849.0 1162.0,1849.9 1164.0,1850.7 1166.0,1851.4 1168.0,1852.2 1170.0,1852.9 1172.0,1853.5 1174.0,1854.2 1176.0,1854.8 1178.0,1855.4 1180.0,1855.9 1182.0,1856.5 1184.0,1857.0 1186.0,1857.5 1188.0,1858.0 1190.0,1858.5 1192.0,1859.0 1194.0,1859.4 1196.0,1859.9 1198.0,1860.3 1200.0,1860.7 1202.0,1861.2 1204.0,1861.6 1206.0,1862.0 1208.0,1862.4 1210.0,1862.9 1212.0,1863.3 1214.0,1863.7 1216.0,1864.1 1218.0,1864.5 1220.0,1865.0 1222.0,1865.4 1224.0,1865.8 1226.0,1866.2 1228.0,1866.7 1230.0,1867.1 1232.0,1867.5 1234.0,1868.0 1236.0,1868.4 1238.0,1868.8 1240.0,1869.3 1242.0,1869.7 1244.0,1870.1 1246.0,1870.5 1248.0,1871.0 1250.0,1871.4 1252.0,1871.8 1254.0,1872.3 1256.0,1872.7 1258.0,1873.1 1260.0,1873.5 1262.0,1873.9 1264.0,1874.4 1266.0,1874.9 1268.0,1875.3 1270.0,1875.8 1272.0,1876.3 1274.0,1876.8 1276.0,1877.3 1278.0,1877.8 1280.0,1878.3 1282.0,1878.8 1284.0,1879.3 1286.0,1879.8 1288.0,1880.2 1290.0,1880.7 1292.0,1881.1 1294.0,1881.5 1296.0,1881.9 1298.0,1882.2 1300.0,1882.5 1302.0,1882.8 1304.0,1883.1 1306.0,1883.4 1308.0,1883.6 1310.0,1883.9 1312.0,1884.2 1314.0,1884.4 1316.0,1884.7 1318.0,1884.9 1320.0,1885.1 1322.0,1885.3 1324.0,1885.6 1326.0,1885.8 1328.0,1886.0 1330.0,1886.1 1332.0,1886.3 1334.0,1886.5 1336.0,1886.6 1338.0,1886.8 1340.0,1886.9 1342.0,1887.1 1344.0,1887.2 1346.0,1887.3 1348.0,1887.5 1350.0,1887.6 1352.0,1887.7 1354.0,1887.9 1356.0,1888.0" fill="none" stroke="#0606d6" stroke-width="4.5" stroke-linejoin="round" stroke-linecap="round" />
<polyline points="1082.0,1851.2 1084.0,1851.4 1086.0,1851.5 1088.0,1851.7 1090.0,1851.8 1092.0,1851.9 1094.0,1851.9 1096.0,1852.0 1098.0,1852.0 1100.0,1852.0 1102.0,1851.9 1104.0,1851.8 1106.0,1851.7 1108.0,1851.5 1110.0,1851.3 1112.0,1851.0 1114.0,1850.6 1116.0,1850.2 1118.0,1849.7 1120.0,1849.1 1122.0,1848.5 1124.0,1847.8 1126.0,1847.0 1128.0,1846.1 1130.0,1845.1 1132.0,1844.1 1134.0,1843.0 1136.0,1841.8 1138.0,1840.6 1140.0,1839.3 1142.0,1837.9 1144.0,1836.4 1146.0,1834.9 1148.0,1833.4 1150.0,1831.8 1152.0,1830.1 1154.0,1828.5 1156.0,1826.8 1158.0,1825.2 1160.0,1823.5 1162.0,1821.9 1164.0,1820.3 1166.0,1818.7 1168.0,1817.2 1170.0,1815.7 1172.0,1814.4 1174.0,1813.1 1176.0,1812.0 1178.0,1810.9 1180.0,1810.0 1182.0,1809.3 1184.0,1808.7 1186.0,1808.2 1188.0,1807.9 1190.0,1807.7 1192.0,1807.8 1194.0,1807.9 1196.0,1808.3 1198.0,1808.8 1200.0,1809.5 1202.0,1810.4 1204.0,1811.4 1206.0,1812.6 1208.0,1814.0 1210.0,1815.4 1212.0,1817.0 1214.0,1818.7 1216.0,1820.6 1218.0,1822.5 1220.0,1824.5 1222.0,1826.5 1224.0,1828.6 1226.0,1830.8 1228.0,1833.0 1230.0,1835.2 1232.0,1837.4 1234.0,1839.6 1236.0,1841.8 1238.0,1843.9 1240.0,1846.0 1242.0,1848.1 1244.0,1850.1 1246.0,1852.1 1248.0,1854.0 1250.0,1855.9 1252.0,1857.7 1254.0,1859.4 1256.0,1861.0 1258.0,1862.6 1260.0,1864.1 1262.0,1865.5 1264.0,1866.9 1266.0,1868.2 1268.0,1869.4 1270.0,1870.7 1272.0,1871.8 1274.0,1872.9 1276.0,1874.0 1278.0,1875.0 1280.0,1875.9 1282.0,1876.8 1284.0,1877.7 1286.0,1878.4 1288.0,1879.2 1290.0,1879.9 1292.0,1880.5 1294.0,1881.1 1296.0,1881.6 1298.0,1882.1 1300.0,1882.6 1302.0,1883.0 1304.0,1883.4" fill="none" stroke="#e40c0c" stroke-width="4.5" stroke-linejoin="round" stroke-linecap="round" />
<polyline points="1176.0,1861.1 1178.0,1861.1 1180.0,1861.0 1182.0,1860.9 1184.0,1860.7 1186.0,1860.4 1188.0,1860.0 1190.0,1859.4 1192.0,1858.7 1194.0,1857.8 1196.0,1856.6 1198.0,1855.1 1200.0,1853.4 1202.0,1851.3 1204.0,1848.9 1206.0,1846.1 1208.0,1842.8 1210.0,1839.1 1212.0,1835.0 1214.0,1830.4 1216.0,1825.3 1218.0,1819.9 1220.0,1814.0 1222.0,1807.8 1224.0,1801.4 1226.0,1794.7 1228.0,1788.0 1230.0,1781.3 1232.0,1774.7 1234.0,1768.4 1236.0,1762.5 1238.0,1757.1 1240.0,1752.3 1242.0,1748.3 1244.0,1745.1 1246.0,1742.8 1248.0,1741.5 1250.0,1741.2 1252.0,1742.0 1254.0,1743.8 1256.0,1746.6 1258.0,1750.4 1260.0,1755.0 1262.0,1760.4 1264.0,1766.4 1266.0,1773.1 1268.0,1780.1 1270.0,1787.5 1272.0,1795.0 1274.0,1802.6 1276.0,1810.1 1278.0,1817.4 1280.0,1824.5 1282.0,1831.3 1284.0,1837.7 1286.0,1843.6 1288.0,1849.1 1290.0,1854.1 1292.0,1858.6 1294.0,1862.6 1296.0,1866.2 1298.0,1869.3 1300.0,1872.0 1302.0,1874.4 1304.0,1876.4 1306.0,1878.1 1308.0,1879.6 1310.0,1880.9 1312.0,1882.0 1314.0,1882.9 1316.0,1883.6 1318.0,1884.3 1320.0,1884.8 1322.0,1885.3 1324.0,1885.7 1326.0,1886.0" fill="none" stroke="#0606d6" stroke-width="4.5" stroke-linejoin="round" stroke-linecap="round" />
<polyline points="1238.0,1869.9 1240.0,1870.2 1242.0,1870.5 1244.0,1870.8 1246.0,1871.1 1248.0,1871.3 1250.0,1871.6 1252.0,1871.8 1254.0,1872.1 1256.0,1872.3 1258.0,1872.5 1260.0,1872.7 1262.0,1872.8 1264.0,1873.0 1266.0,1873.2 1268.0,1873.4 1270.0,1873.6 1272.0,1873.8 1274.0,1874.0 1276.0,1874.2 1278.0,1874.5 1280.0,1874.7 1282.0,1874.9 1284.0,1875.2 1286.0,1875.4 1288.0,1875.7 1290.0,1876.0 1292.0,1876.3 1294.0,1876.7 1296.0,1877.0 1298.0,1877.4 1300.0,1877.7 1302.0,1878.1 1304.0,1878.6 1306.0,1879.0 1308.0,1879.5 1310.0,1879.9 1312.0,1880.4 1314.0,1880.9 1316.0,1881.4 1318.0,1881.9 1320.0,1882.4 1322.0,1882.9 1324.0,1883.3 1326.0,1883.8 1328.0,1884.2 1330.0,1884.6 1332.0,1885.0 1334.0,1885.4 1336.0,1885.7 1338.0,1886.0 1340.0,1886.3 1342.0,1886.6 1344.0,1886.8 1346.0,1887.1 1348.0,1887.3 1350.0,1887.5 1352.0,1887.7 1354.0,1887.9" fill="none" stroke="#e40c0c" stroke-width="4.5" stroke-linejoin="round" stroke-linecap="round" />
<polyline points="130.0,1758.0 132.0,1757.9 134.0,1757.9 136.0,1757.8 138.0,1757.8 140.0,1757.7 142.0,1757.6 144.0,1757.5 146.0,1757.5 148.0,1757.4 150.0,1757.3 152.0,1757.2 154.0,1757.0 156.0,1756.9 158.0,1756.7 160.0,1756.6 162.0,1756.4 164.0,1756.1 166.0,1755.8 168.0,1755.5 170.0,1755.1 172.0,1754.7 174.0,1754.2 176.0,1753.6 178.0,1752.9 180.0,1752.2 182.0,1751.3 184.0,1750.3 186.0,1749.2 188.0,1748.0 190.0,1746.6 192.0,1745.0 194.0,1743.3 196.0,1741.4 198.0,1739.3 200.0,1736.9 202.0,1734.4 204.0,1731.7 206.0,1728.7 208.0,1725.6 210.0,1722.2 212.0,1718.6 214.0,1714.9 216.0,1711.0 218.0,1706.9 220.0,1702.8 222.0,1698.6 224.0,1694.4 226.0,1690.1 228.0,1686.0 230.0,1681.9 232.0,1678.1 234.0,1674.4 236.0,1671.1 238.0,1668.1 240.0,1665.6 242.0,1663.5 244.0,1661.9 246.0,1660.9 248.0,1660.6 250.0,1660.8 252.0,1661.7 254.0,1663.1 256.0,1665.2 258.0,1667.8 260.0,1670.8 262.0,1674.3 264.0,1678.2 266.0,1682.4 268.0,1686.8 270.0,1691.4 272.0,1696.1 274.0,1700.8 276.0,1705.6 278.0,1710.4 280.0,1715.0 282.0,1719.6 284.0,1724.0 286.0,1728.3 288.0,1732.4 290.0,1736.2 292.0,1739.9 294.0,1743.3 296.0,1746.5 298.0,1749.5 300.0,1752.2 302.0,1754.7 304.0,1757.1 306.0,1759.2 308.0,1761.1 310.0,1762.9 312.0,1764.5 314.0,1765.9 316.0,1767.2 318.0,1768.4 320.0,1769.5 322.0,1770.4 324.0,1771.3 326.0,1772.1 328.0,1772.7 330.0,1773.4 332.0,1774.0 334.0,1774.5 336.0,1774.9 338.0,1775.4 340.0,1775.7 342.0,1776.1 344.0,1776.4 346.0,1776.7 348.0,1776.9 350.0,1777.1 352.0,1777.3 354.0,1777.5 356.0,1777.7 358.0,1777.8 360.0,1778.0 362.0,1778.1 364.0,1778.3 366.0,1778.4 368.0,1778.5 370.0,1778.6 372.0,1778.7 374.0,1778.8 376.0,1778.9 378.0,1778.9 380.0,1779.0 382.0,1779.1 384.0,1779.1 386.0,1779.1 388.0,1779.2 390.0,1779.2 392.0,1779.2 394.0,1779.2 396.0,1779.2 398.0,1779.2 400.0,1779.2 402.0,1779.1 404.0,1779.1 406.0,1779.0 408.0,1779.0 410.0,1778.9 412.0,1778.8 414.0,1778.6 416.0,1778.5 418.0,1778.3 420.0,1778.2 422.0,1778.0 424.0,1777.7 426.0,1777.5 428.0,1777.2 430.0,1776.9 432.0,1776.6 434.0,1776.3 436.0,1775.9 438.0,1775.5 440.0,1775.1 442.0,1774.6 444.0,1774.1 446.0,1773.6 448.0,1773.0 450.0,1772.4 452.0,1771.8 454.0,1771.2 456.0,1770.5 458.0,1769.8 460.0,1769.0 462.0,1768.3 464.0,1767.5 466.0,1766.7 468.0,1765.8 470.0,1765.0 472.0,1764.1 474.0,1763.3 476.0,1762.4 478.0,1761.5 480.0,1760.6 482.0,1759.7 484.0,1758.9 486.0,1758.0 488.0,1757.2 490.0,1756.3 492.0,1755.5 494.0,1754.8 496.0,1754.0 498.0,1753.3 500.0,1752.7 502.0,1752.1 504.0,1751.5 506.0,1751.0 508.0,1750.6 510.0,1750.2 512.0,1749.9 514.0,1749.7 516.0,1749.5 518.0,1749.4 520.0,1749.3 522.0,1749.4 524.0,1749.5 526.0,1749.7 528.0,1750.0 530.0,1750.4 532.0,1750.8 534.0,1751.3 536.0,1751.9 538.0,1752.6 540.0,1753.3 542.0,1754.0 544.0,1754.8 546.0,1755.7 548.0,1756.6 550.0,1757.6 552.0,1758.5 554.0,1759.5 556.0,1760.6 558.0,1761.6 560.0,1762.6 562.0,1763.7 564.0,1764.8 566.0,1765.8 568.0,1766.9 570.0,1768.0 572.0,1769.0 574.0,1770.0 576.0,1771.0 578.0,1771.9 580.0,1772.7 582.0,1773.6 584.0,1774.3 586.0,1775.0 588.0,1775.6 590.0,1776.1 592.0,1776.6 594.0,1777.0 596.0,1777.2 598.0,1777.4 600.0,1777.5 602.0,1777.5 604.0,1777.4 606.0,1777.2 608.0,1777.0 610.0,1776.7 612.0,1776.3 614.0,1775.9 616.0,1775.4 618.0,1774.8 620.0,1774.2 622.0,1773.6 624.0,1772.9 626.0,1772.2 628.0,1771.5 630.0,1770.7 632.0,1770.0 634.0,1769.3 636.0,1768.5 638.0,1767.8 640.0,1767.1 642.0,1766.4 644.0,1765.8 646.0,1765.1 648.0,1764.4 650.0,1763.8 652.0,1763.1 654.0,1762.3 656.0,1761.6 658.0,1760.7 660.0,1759.7 662.0,1758.6 664.0,1757.3 666.0,1755.9 668.0,1754.1 670.0,1752.1 672.0,1749.8 674.0,1747.2 676.0,1744.3 678.0,1741.0 680.0,1737.4 682.0,1733.4 684.0,1729.2 686.0,1724.8 688.0,1720.2 690.0,1715.6 692.0,1711.0 694.0,1706.5 696.0,1702.3 698.0,1698.5 700.0,1695.2 702.0,1692.6 704.0,1690.8 706.0,1689.8 708.0,1689.8 710.0,1690.7 712.0,1692.5 714.0,1695.1 716.0,1698.4 718.0,1702.2 720.0,1706.4 722.0,1710.8 724.0,1715.2 726.0,1719.4 728.0,1723.4 730.0,1726.9 732.0,1730.0 734.0,1732.6 736.0,1734.5 738.0,1735.8 740.0,1736.5 742.0,1736.5 744.0,1735.8 746.0,1734.4 748.0,1732.2 750.0,1729.4 752.0,1725.9 754.0,1721.8 756.0,1717.1 758.0,1711.9 760.0,1706.2 762.0,1700.3 764.0,1694.2 766.0,1688.1 768.0,1682.1 770.0,1676.5 772.0,1671.3 774.0,1666.7 776.0,1662.8 778.0,1659.8 780.0,1657.7 782.0,1656.6 784.0,1656.5 786.0,1657.5 788.0,1659.6 790.0,1662.7 792.0,1666.8 794.0,1671.8 796.0,1677.6 798.0,1684.1 800.0,1691.3 802.0,1698.9 804.0,1706.9 806.0,1715.1 808.0,1723.5 810.0,1731.9 812.0,1740.1 814.0,1748.3 816.0,1756.1 818.0,1763.6 820.0,1770.7 822.0,1777.4 824.0,1783.6 826.0,1789.4 828.0,1794.6 830.0,1799.4 832.0,1803.7 834.0,1807.6 836.0,1811.1 838.0,1814.1 840.0,1816.9 842.0,1819.3 844.0,1821.4 846.0,1823.3 848.0,1825.0 850.0,1826.6 852.0,1828.0 854.0,1829.2 856.0,1830.3 858.0,1831.3 860.0,1832.3 862.0,1833.1 864.0,1833.8 866.0,1834.5 868.0,1835.1 870.0,1835.6 872.0,1836.0 874.0,1836.4 876.0,1836.7 878.0,1836.9 880.0,1837.1 882.0,1837.2 884.0,1837.2 886.0,1837.3 888.0,1837.3 890.0,1837.4 892.0,1837.4 894.0,1837.4 896.0,1837.5 898.0,1837.5 900.0,1837.5 902.0,1837.5 904.0,1837.4 906.0,1837.4 908.0,1837.4 910.0,1837.3 912.0,1837.3 914.0,1837.2 916.0,1837.2 918.0,1837.1 920.0,1837.0 922.0,1836.9 924.0,1836.8 926.0,1836.7 928.0,1836.5 930.0,1836.4 932.0,1836.2 934.0,1836.1 936.0,1835.9 938.0,1835.7 940.0,1835.4 942.0,1835.2 944.0,1834.9 946.0,1834.7 948.0,1834.4 950.0,1834.0 952.0,1833.7 954.0,1833.3 956.0,1832.9 958.0,1832.5 960.0,1832.1 962.0,1831.6 964.0,1831.1 966.0,1830.5 968.0,1830.0 970.0,1829.4 972.0,1828.7 974.0,1828.1 976.0,1827.4 978.0,1826.6 980.0,1825.9 982.0,1825.1 984.0,1824.2 986.0,1823.3 988.0,1822.4 990.0,1821.5 992.0,1820.5 994.0,1819.4 996.0,1818.4 998.0,1817.3 1000.0,1816.2 1002.0,1815.0 1004.0,1813.8 1006.0,1812.6 1008.0,1811.4 1010.0,1810.2 1012.0,1808.9 1014.0,1807.7 1016.0,1806.4 1018.0,1805.1 1020.0,1803.8 1022.0,1802.5 1024.0,1801.3 1026.0,1800.0 1028.0,1798.8 1030.0,1797.6 1032.0,1796.4 1034.0,1795.3 1036.0,1794.2 1038.0,1793.2 1040.0,1792.2 1042.0,1791.3 1044.0,1790.4 1046.0,1789.7 1048.0,1789.0 1050.0,1788.4 1052.0,1787.9 1054.0,1787.5 1056.0,1787.2 1058.0,1787.0 1060.0,1786.9 1062.0,1786.9 1064.0,1787.0 1066.0,1787.2 1068.0,1787.6 1070.0,1788.0 1072.0,1788.6 1074.0,1789.3 1076.0,1790.0 1078.0,1790.9 1080.0,1791.9 1082.0,1792.9 1084.0,1794.0 1086.0,1795.2 1088.0,1796.5 1090.0,1797.8 1092.0,1799.1 1094.0,1800.4 1096.0,1801.8 1098.0,1803.2 1100.0,1804.6 1102.0,1805.9 1104.0,1807.3 1106.0,1808.6 1108.0,1809.9 1110.0,1811.1 1112.0,1812.3 1114.0,1813.4 1116.0,1814.4 1118.0,1815.3 1120.0,1816.2 1122.0,1817.0 1124.0,1817.6 1126.0,1818.2 1128.0,1818.6 1130.0,1819.0 1132.0,1819.2 1134.0,1819.3 1136.0,1819.3 1138.0,1819.2 1140.0,1819.0 1142.0,1818.7 1144.0,1818.3 1146.0,1817.7 1148.0,1817.1 1150.0,1816.4 1152.0,1815.7 1154.0,1814.8 1156.0,1813.9 1158.0,1813.0 1160.0,1812.0 1162.0,1811.1 1164.0,1810.0 1166.0,1809.0 1168.0,1808.1 1170.0,1807.1 1172.0,1806.1 1174.0,1805.2 1176.0,1804.4 1178.0,1803.6 1180.0,1802.8 1182.0,1802.1 1184.0,1801.4 1186.0,1800.7 1188.0,1800.0 1190.0,1799.4 1192.0,1798.7 1194.0,1798.0 1196.0,1797.1 1198.0,1796.2 1200.0,1795.1 1202.0,1793.8 1204.0,1792.3 1206.0,1790.5 1208.0,1788.4 1210.0,1786.0 1212.0,1783.3 1214.0,1780.2 1216.0,1776.7 1218.0,1772.9 1220.0,1768.8 1222.0,1764.4 1224.0,1759.7 1226.0,1754.9 1228.0,1750.0 1230.0,1745.2 1232.0,1740.5 1234.0,1736.0 1236.0,1731.8 1238.0,1728.2 1240.0,1725.1 1242.0,1722.7 1244.0,1721.1 1246.0,1720.3 1248.0,1720.5 1250.0,1721.6 1252.0,1723.6 1254.0,1726.6 1256.0,1730.5 1258.0,1735.3 1260.0,1740.8 1262.0,1747.0 1264.0,1753.8 1266.0,1761.1 1268.0,1768.7 1270.0,1776.6 1272.0,1784.6 1274.0,1792.5 1276.0,1800.3 1278.0,1808.0 1280.0,1815.3 1282.0,1822.2 1284.0,1828.8 1286.0,1834.9 1288.0,1840.5 1290.0,1845.7 1292.0,1850.3 1294.0,1854.6 1296.0,1858.3 1298.0,1861.7 1300.0,1864.6 1302.0,1867.2 1304.0,1869.5 1306.0,1871.5 1308.0,1873.3 1310.0,1874.9 1312.0,1876.2 1314.0,1877.5 1316.0,1878.5 1318.0,1879.5 1320.0,1880.4 1322.0,1881.1 1324.0,1881.8 1326.0,1882.5 1328.0,1883.0 1330.0,1883.6 1332.0,1884.0 1334.0,1884.5 1336.0,1884.8 1338.0,1885.2 1340.0,1885.5 1342.0,1885.8 1344.0,1886.1 1346.0,1886.4 1348.0,1886.6 1350.0,1886.8 1352.0,1887.0 1354.0,1887.3 1356.0,1887.4 1358.0,1887.6 1360.0,1887.8 1362.0,1888.0 1364.0,1888.1 1366.0,1888.3 1368.0,1888.4 1370.0,1888.6 1372.0,1888.7 1374.0,1888.8 1376.0,1888.9 1378.0,1889.0 1380.0,1889.2 1382.0,1889.3 1384.0,1889.4 1386.0,1889.5 1388.0,1889.5 1390.0,1889.6 1392.0,1889.7 1394.0,1889.8 1396.0,1889.9 1398.0,1889.9 1400.0,1890.0 1402.0,1890.0 1404.0,1890.1 1406.0,1890.1 1408.0,1890.2 1410.0,1890.2 1412.0,1890.2 1414.0,1890.2 1416.0,1890.3" fill="none" stroke="#0606d6" stroke-width="7" stroke-linejoin="round" stroke-linecap="round" />
<polyline points="130.0,2238.0 132.0,2238.7 134.0,2238.8 136.0,2238.9 138.0,2238.7 140.0,2237.9 142.0,2238.6 144.0,2239.0 146.0,2237.4 148.0,2240.1 150.0,2239.8 152.0,2236.8 154.0,2237.8 156.0,2238.8 158.0,2238.9 160.0,2239.0 162.0,2235.9 164.0,2236.2 166.0,2236.4 168.0,2236.9 170.0,2235.1 172.0,2235.8 174.0,2235.3 176.0,2234.9 178.0,2232.5 180.0,2232.9 182.0,2231.8 184.0,2230.3 186.0,2230.5 188.0,2227.9 190.0,2227.8 192.0,2224.5 194.0,2224.5 196.0,2222.4 198.0,2218.2 200.0,2216.7 202.0,2214.1 204.0,2210.2 206.0,2208.6 208.0,2205.3 210.0,2200.6 212.0,2197.8 214.0,2194.7 216.0,2189.9 218.0,2185.4 220.0,2183.1 222.0,2176.8 224.0,2173.6 226.0,2169.9 228.0,2165.4 230.0,2159.1 232.0,2156.3 234.0,2152.7 236.0,2149.1 238.0,2146.6 240.0,2143.6 242.0,2140.9 244.0,2139.1 246.0,2138.3 248.0,2137.7 250.0,2134.9 252.0,2138.7 254.0,2137.5 256.0,2140.2 258.0,2140.4 260.0,2144.0 262.0,2146.5 264.0,2152.0 266.0,2155.7 268.0,2159.2 270.0,2163.5 272.0,2168.6 274.0,2172.2 276.0,2177.2 278.0,2181.9 280.0,2187.9 282.0,2192.0 284.0,2195.5 286.0,2201.3 288.0,2205.8 290.0,2210.7 292.0,2213.0 294.0,2217.6 296.0,2222.5 298.0,2224.0 300.0,2227.1 302.0,2230.7 304.0,2232.7 306.0,2235.6 308.0,2237.6 310.0,2239.6 312.0,2243.0 314.0,2243.8 316.0,2245.0 318.0,2247.2 320.0,2248.7 322.0,2250.2 324.0,2251.7 326.0,2253.2 328.0,2251.5 330.0,2253.0 332.0,2252.3 334.0,2254.5 336.0,2255.1 338.0,2254.5 340.0,2254.6 342.0,2254.8 344.0,2254.6 346.0,2256.5 348.0,2257.6 350.0,2255.1 352.0,2257.4 354.0,2256.0 356.0,2254.9 358.0,2256.5 360.0,2256.6 362.0,2256.2 364.0,2255.7 366.0,2257.2 368.0,2255.6 370.0,2256.2 372.0,2256.2 374.0,2254.9 376.0,2254.1 378.0,2254.1 380.0,2255.2 382.0,2255.8 384.0,2254.0 386.0,2254.8 388.0,2256.6 390.0,2253.9 392.0,2255.7 394.0,2255.5 396.0,2255.9 398.0,2254.0 400.0,2255.4 402.0,2254.0 404.0,2256.2 406.0,2254.4 408.0,2255.4 410.0,2254.4 412.0,2255.1 414.0,2253.7 416.0,2255.1 418.0,2255.3 420.0,2254.7 422.0,2255.9 424.0,2254.8 426.0,2255.1 428.0,2254.7 430.0,2255.7 432.0,2253.4 434.0,2253.6 436.0,2253.4 438.0,2253.9 440.0,2253.4 442.0,2253.6 444.0,2253.0 446.0,2252.0 448.0,2252.1 450.0,2252.2 452.0,2249.6 454.0,2252.2 456.0,2250.2 458.0,2249.9 460.0,2249.9 462.0,2249.0 464.0,2247.5 466.0,2247.9 468.0,2248.7 470.0,2247.8 472.0,2247.3 474.0,2245.1 476.0,2244.7 478.0,2245.1 480.0,2244.7 482.0,2242.5 484.0,2240.7 486.0,2238.9 488.0,2240.7 490.0,2237.3 492.0,2237.9 494.0,2237.3 496.0,2238.3 498.0,2234.9 500.0,2233.7 502.0,2233.3 504.0,2232.5 506.0,2232.5 508.0,2231.2 510.0,2229.3 512.0,2227.6 514.0,2229.1 516.0,2227.8 518.0,2229.2 520.0,2226.6 522.0,2227.6 524.0,2226.7 526.0,2226.6 528.0,2228.8 530.0,2227.7 532.0,2227.7 534.0,2228.8 536.0,2228.0 538.0,2228.8 540.0,2229.3 542.0,2232.1 544.0,2231.6 546.0,2232.7 548.0,2234.0 550.0,2233.9 552.0,2235.0 554.0,2234.9 556.0,2237.8 558.0,2238.8 560.0,2239.4 562.0,2242.0 564.0,2240.7 566.0,2243.8 568.0,2243.5 570.0,2245.0 572.0,2247.0 574.0,2249.5 576.0,2248.5 578.0,2249.8 580.0,2250.8 582.0,2254.5 584.0,2254.2 586.0,2255.1 588.0,2257.3 590.0,2256.6 592.0,2255.4 594.0,2257.3 596.0,2257.3 598.0,2260.5 600.0,2258.0 602.0,2259.8 604.0,2259.3 606.0,2259.5 608.0,2259.9 610.0,2259.7 612.0,2259.1 614.0,2258.5 616.0,2258.7 618.0,2258.0 620.0,2257.7 622.0,2258.0 624.0,2257.3 626.0,2257.2 628.0,2256.0 630.0,2257.2 632.0,2254.3 634.0,2253.4 636.0,2254.4 638.0,2252.2 640.0,2252.2 642.0,2252.2 644.0,2250.6 646.0,2249.7 648.0,2250.2 650.0,2248.9 652.0,2247.5 654.0,2246.2 656.0,2246.1 658.0,2244.1 660.0,2243.8 662.0,2242.5 664.0,2242.4 666.0,2241.3 668.0,2238.5 670.0,2236.7 672.0,2233.9 674.0,2231.1 676.0,2229.1 678.0,2226.7 680.0,2223.1 682.0,2219.3 684.0,2214.5 686.0,2208.1 688.0,2206.6 690.0,2202.3 692.0,2197.4 694.0,2192.9 696.0,2188.8 698.0,2186.2 700.0,2180.8 702.0,2178.9 704.0,2176.0 706.0,2174.4 708.0,2173.0 710.0,2172.9 712.0,2173.1 714.0,2176.1 716.0,2177.6 718.0,2179.7 720.0,2183.2 722.0,2186.3 724.0,2192.1 726.0,2194.2 728.0,2198.0 730.0,2200.3 732.0,2203.7 734.0,2208.5 736.0,2210.2 738.0,2213.1 740.0,2216.6 742.0,2218.6 744.0,2218.7 746.0,2219.2 748.0,2219.0 750.0,2217.7 752.0,2218.0 754.0,2212.8 756.0,2210.2 758.0,2204.4 760.0,2199.9 762.0,2195.5 764.0,2189.2 766.0,2182.5 768.0,2175.1 770.0,2168.0 772.0,2161.5 774.0,2155.3 776.0,2150.8 778.0,2146.0 780.0,2140.9 782.0,2136.7 784.0,2134.0 786.0,2133.9 788.0,2133.3 790.0,2133.1 792.0,2138.0 794.0,2140.2 796.0,2144.3 798.0,2149.2 800.0,2155.4 802.0,2163.9 804.0,2170.0 806.0,2179.1 808.0,2188.1 810.0,2197.8 812.0,2205.7 814.0,2214.1 816.0,2222.7 818.0,2232.4 820.0,2240.9 822.0,2247.1 824.0,2254.9 826.0,2260.9 828.0,2265.6 830.0,2271.7 832.0,2278.2 834.0,2283.2 836.0,2286.5 838.0,2289.3 840.0,2292.0 842.0,2295.7 844.0,2297.8 846.0,2298.2 848.0,2301.9 850.0,2302.3 852.0,2304.8 854.0,2305.9 856.0,2307.1 858.0,2308.4 860.0,2309.0 862.0,2308.3 864.0,2309.1 866.0,2311.5 868.0,2311.8 870.0,2310.7 872.0,2311.0 874.0,2314.1 876.0,2315.9 878.0,2315.4 880.0,2315.1 882.0,2316.2 884.0,2314.4 886.0,2316.5 888.0,2318.9 890.0,2319.5 892.0,2317.7 894.0,2321.2 896.0,2321.4 898.0,2322.4 900.0,2322.2 902.0,2322.4 904.0,2321.6 906.0,2322.8 908.0,2323.4 910.0,2321.9 912.0,2323.0 914.0,2322.3 916.0,2323.6 918.0,2323.5 920.0,2320.7 922.0,2323.1 924.0,2323.5 926.0,2322.2 928.0,2322.4 930.0,2322.4 932.0,2321.5 934.0,2322.2 936.0,2323.5 938.0,2322.5 940.0,2323.2 942.0,2322.7 944.0,2322.7 946.0,2321.6 948.0,2321.9 950.0,2322.7 952.0,2322.0 954.0,2320.8 956.0,2319.6 958.0,2319.1 960.0,2319.8 962.0,2319.6 964.0,2317.3 966.0,2318.5 968.0,2318.2 970.0,2317.6 972.0,2316.3 974.0,2318.1 976.0,2316.3 978.0,2313.8 980.0,2313.6 982.0,2314.1 984.0,2313.1 986.0,2311.9 988.0,2310.9 990.0,2309.8 992.0,2308.6 994.0,2307.1 996.0,2307.4 998.0,2303.5 1000.0,2304.1 1002.0,2304.5 1004.0,2301.6 1006.0,2300.1 1008.0,2301.3 1010.0,2299.3 1012.0,2297.0 1014.0,2295.3 1016.0,2294.2 1018.0,2292.7 1020.0,2291.4 1022.0,2289.6 1024.0,2289.3 1026.0,2287.0 1028.0,2284.6 1030.0,2283.6 1032.0,2283.4 1034.0,2281.2 1036.0,2278.7 1038.0,2280.8 1040.0,2278.8 1042.0,2276.9 1044.0,2275.8 1046.0,2275.6 1048.0,2275.4 1050.0,2272.9 1052.0,2273.1 1054.0,2271.6 1056.0,2271.8 1058.0,2270.2 1060.0,2269.3 1062.0,2270.7 1064.0,2270.5 1066.0,2271.2 1068.0,2270.2 1070.0,2272.2 1072.0,2271.6 1074.0,2273.3 1076.0,2272.4 1078.0,2274.7 1080.0,2274.3 1082.0,2275.4 1084.0,2277.1 1086.0,2276.0 1088.0,2277.8 1090.0,2281.5 1092.0,2280.0 1094.0,2282.2 1096.0,2284.5 1098.0,2286.7 1100.0,2286.5 1102.0,2288.5 1104.0,2288.8 1106.0,2290.9 1108.0,2293.4 1110.0,2294.2 1112.0,2295.2 1114.0,2296.8 1116.0,2297.7 1118.0,2298.8 1120.0,2299.4 1122.0,2299.8 1124.0,2302.0 1126.0,2301.2 1128.0,2303.7 1130.0,2305.1 1132.0,2305.0 1134.0,2306.0 1136.0,2303.4 1138.0,2304.5 1140.0,2303.6 1142.0,2303.5 1144.0,2302.4 1146.0,2302.5 1148.0,2303.7 1150.0,2303.1 1152.0,2302.8 1154.0,2302.1 1156.0,2301.0 1158.0,2298.9 1160.0,2298.6 1162.0,2298.4 1164.0,2297.9 1166.0,2295.7 1168.0,2294.7 1170.0,2293.8 1172.0,2294.6 1174.0,2292.9 1176.0,2291.3 1178.0,2290.2 1180.0,2290.4 1182.0,2288.0 1184.0,2288.5 1186.0,2287.5 1188.0,2286.9 1190.0,2286.9 1192.0,2286.4 1194.0,2287.8 1196.0,2284.6 1198.0,2284.2 1200.0,2281.9 1202.0,2279.9 1204.0,2280.8 1206.0,2279.8 1208.0,2275.4 1210.0,2273.9 1212.0,2272.3 1214.0,2268.5 1216.0,2263.1 1218.0,2262.2 1220.0,2257.2 1222.0,2253.6 1224.0,2247.6 1226.0,2244.3 1228.0,2239.4 1230.0,2232.9 1232.0,2228.9 1234.0,2223.0 1236.0,2218.4 1238.0,2213.8 1240.0,2210.2 1242.0,2206.7 1244.0,2205.5 1246.0,2202.4 1248.0,2200.5 1250.0,2202.3 1252.0,2202.3 1254.0,2204.3 1256.0,2205.9 1258.0,2210.0 1260.0,2213.7 1262.0,2218.1 1264.0,2224.9 1266.0,2231.5 1268.0,2238.5 1270.0,2246.7 1272.0,2252.4 1274.0,2262.1 1276.0,2269.3 1278.0,2277.9 1280.0,2286.5 1282.0,2294.0 1284.0,2300.9 1286.0,2309.3 1288.0,2315.4 1290.0,2322.7 1292.0,2328.6 1294.0,2332.5 1296.0,2336.6 1298.0,2341.9 1300.0,2346.4 1302.0,2349.5 1304.0,2351.4 1306.0,2353.8 1308.0,2356.9 1310.0,2359.1 1312.0,2362.4 1314.0,2363.7 1316.0,2366.0 1318.0,2366.6 1320.0,2369.4 1322.0,2369.2 1324.0,2370.7 1326.0,2370.9 1328.0,2372.5 1330.0,2373.9 1332.0,2374.5 1334.0,2375.7 1336.0,2374.8 1338.0,2376.4 1340.0,2378.1 1342.0,2377.5 1344.0,2377.8 1346.0,2378.3 1348.0,2378.6 1350.0,2379.7 1352.0,2381.0 1354.0,2380.4 1356.0,2380.2 1358.0,2379.8 1360.0,2379.7 1362.0,2382.7 1364.0,2380.6 1366.0,2381.2 1368.0,2380.8 1370.0,2381.5 1372.0,2381.2 1374.0,2381.7 1376.0,2382.9 1378.0,2381.3 1380.0,2382.4 1382.0,2382.0 1384.0,2382.7 1386.0,2381.7 1388.0,2382.7 1390.0,2381.6 1392.0,2381.0 1394.0,2381.5 1396.0,2381.9 1398.0,2381.8 1400.0,2382.5 1402.0,2383.7 1404.0,2381.9 1406.0,2383.3 1408.0,2383.0 1410.0,2382.4 1412.0,2382.2 1414.0,2383.3 1416.0,2383.4" fill="none" stroke="#000" stroke-width="5" stroke-linejoin="round" stroke-linecap="round" />
<polyline points="130.0,2242.0 132.0,2242.0 134.0,2242.0 136.0,2242.1 138.0,2242.1 140.0,2242.1 142.0,2242.2 144.0,2242.2 146.0,2242.3 148.0,2242.3 150.0,2242.4 152.0,2242.5 154.0,2242.5 156.0,2242.6 158.0,2242.7 160.0,2242.8 162.0,2242.9 164.0,2242.9 166.0,2243.0 168.0,2243.1 170.0,2243.2 172.0,2243.3 174.0,2243.4 176.0,2243.5 178.0,2243.6 180.0,2243.7 182.0,2243.8 184.0,2243.9 186.0,2244.0 188.0,2244.2 190.0,2244.3 192.0,2244.5 194.0,2244.6 196.0,2244.8 198.0,2245.0 200.0,2245.1 202.0,2245.3 204.0,2245.5 206.0,2245.7 208.0,2245.9 210.0,2246.1 212.0,2246.4 214.0,2246.6 216.0,2246.8 218.0,2247.0 220.0,2247.3 222.0,2247.5 224.0,2247.7 226.0,2248.0 228.0,2248.2 230.0,2248.4 232.0,2248.7 234.0,2248.9 236.0,2249.2 238.0,2249.4 240.0,2249.6 242.0,2249.9 244.0,2250.1 246.0,2250.3 248.0,2250.6 250.0,2250.8 252.0,2251.0 254.0,2251.3 256.0,2251.5 258.0,2251.7 260.0,2252.0 262.0,2252.2 264.0,2252.5 266.0,2252.7 268.0,2253.0 270.0,2253.3 272.0,2253.5 274.0,2253.8 276.0,2254.0 278.0,2254.3 280.0,2254.6 282.0,2254.8 284.0,2255.1 286.0,2255.4 288.0,2255.6 290.0,2255.9 292.0,2256.2 294.0,2256.4 296.0,2256.7 298.0,2256.9 300.0,2257.2 302.0,2257.5 304.0,2257.7 306.0,2258.0 308.0,2258.3 310.0,2258.7 312.0,2259.0 314.0,2259.3 316.0,2259.6 318.0,2260.0 320.0,2260.3 322.0,2260.6 324.0,2260.9 326.0,2261.3 328.0,2261.6 330.0,2261.9 332.0,2262.1 334.0,2262.4 336.0,2262.6 338.0,2262.8 340.0,2263.0 342.0,2263.2 344.0,2263.4 346.0,2263.5 348.0,2263.6 350.0,2263.6 352.0,2263.6 354.0,2263.7 356.0,2263.7 358.0,2263.7 360.0,2263.7 362.0,2263.7 364.0,2263.8 366.0,2263.8 368.0,2263.8 370.0,2263.8 372.0,2263.8 374.0,2263.8 376.0,2263.9 378.0,2263.9 380.0,2263.9 382.0,2263.9 384.0,2263.9 386.0,2263.9 388.0,2263.9 390.0,2263.9 392.0,2263.9 394.0,2263.9 396.0,2263.9 398.0,2263.9 400.0,2264.0 402.0,2264.0 404.0,2264.0 406.0,2264.0 408.0,2264.0 410.0,2264.0 412.0,2264.0 414.0,2264.0 416.0,2264.1 418.0,2264.1 420.0,2264.1 422.0,2264.1 424.0,2264.1 426.0,2264.1 428.0,2264.2 430.0,2264.2 432.0,2264.2 434.0,2264.3 436.0,2264.3 438.0,2264.4 440.0,2264.5 442.0,2264.6 444.0,2264.7 446.0,2264.8 448.0,2264.9 450.0,2265.0 452.0,2265.2 454.0,2265.3 456.0,2265.5 458.0,2265.6 460.0,2265.8 462.0,2266.0 464.0,2266.1 466.0,2266.3 468.0,2266.5 470.0,2266.7 472.0,2266.9 474.0,2267.1 476.0,2267.3 478.0,2267.5 480.0,2267.7 482.0,2267.9 484.0,2268.2 486.0,2268.4 488.0,2268.6 490.0,2268.8 492.0,2269.0 494.0,2269.3 496.0,2269.5 498.0,2269.7 500.0,2269.9 502.0,2270.1 504.0,2270.4 506.0,2270.6 508.0,2270.8 510.0,2271.0 512.0,2271.2 514.0,2271.4 516.0,2271.6 518.0,2271.8 520.0,2272.0 522.0,2272.2 524.0,2272.4 526.0,2272.6 528.0,2272.8 530.0,2273.0 532.0,2273.2 534.0,2273.4 536.0,2273.6 538.0,2273.8 540.0,2274.0 542.0,2274.2 544.0,2274.4 546.0,2274.6 548.0,2274.8 550.0,2275.1 552.0,2275.2 554.0,2275.4 556.0,2275.6 558.0,2275.8 560.0,2276.0 562.0,2276.2 564.0,2276.4 566.0,2276.5 568.0,2276.7 570.0,2276.9 572.0,2277.0 574.0,2277.2 576.0,2277.4 578.0,2277.5 580.0,2277.7 582.0,2277.8 584.0,2278.0 586.0,2278.2 588.0,2278.3 590.0,2278.5 592.0,2278.6 594.0,2278.8 596.0,2278.9 598.0,2279.1 600.0,2279.2 602.0,2279.3 604.0,2279.5 606.0,2279.6 608.0,2279.8 610.0,2279.9 612.0,2280.0 614.0,2280.1 616.0,2280.3 618.0,2280.4 620.0,2280.5 622.0,2280.6 624.0,2280.7 626.0,2280.9 628.0,2281.0 630.0,2281.1 632.0,2281.2 634.0,2281.3 636.0,2281.5 638.0,2281.6 640.0,2281.7 642.0,2281.8 644.0,2282.0 646.0,2282.1 648.0,2282.2 650.0,2282.4 652.0,2282.5 654.0,2282.6 656.0,2282.8 658.0,2282.9 660.0,2283.1 662.0,2283.3 664.0,2283.4 666.0,2283.6 668.0,2283.8 670.0,2283.9 672.0,2284.1 674.0,2284.3 676.0,2284.5 678.0,2284.7 680.0,2284.8 682.0,2285.0 684.0,2285.2 686.0,2285.4 688.0,2285.6 690.0,2285.8 692.0,2286.0 694.0,2286.2 696.0,2286.5 698.0,2286.7 700.0,2286.9 702.0,2287.1 704.0,2287.3 706.0,2287.5 708.0,2287.7 710.0,2288.0 712.0,2288.2 714.0,2288.4 716.0,2288.6 718.0,2288.9 720.0,2289.1 722.0,2289.3 724.0,2289.6 726.0,2289.8 728.0,2290.0 730.0,2290.2 732.0,2290.5 734.0,2290.7 736.0,2290.9 738.0,2291.1 740.0,2291.4 742.0,2291.6 744.0,2291.8 746.0,2292.1 748.0,2292.3 750.0,2292.6 752.0,2292.8 754.0,2293.1 756.0,2293.4 758.0,2293.6 760.0,2293.9 762.0,2294.2 764.0,2294.5 766.0,2294.8 768.0,2295.1 770.0,2295.4 772.0,2295.7 774.0,2296.0 776.0,2296.4 778.0,2296.7 780.0,2297.1 782.0,2297.5 784.0,2297.9 786.0,2298.3 788.0,2298.8 790.0,2299.3 792.0,2299.8 794.0,2300.4 796.0,2300.9 798.0,2301.5 800.0,2302.1 802.0,2302.6 804.0,2303.2 806.0,2303.8 808.0,2304.4 810.0,2305.0 812.0,2305.6 814.0,2306.3 816.0,2306.9 818.0,2307.6 820.0,2308.3 822.0,2309.1 824.0,2309.8 826.0,2310.5 828.0,2311.2 830.0,2311.9 832.0,2312.6 834.0,2313.3 836.0,2313.9 838.0,2314.5 840.0,2315.0 842.0,2315.5 844.0,2316.0 846.0,2316.5 848.0,2317.0 850.0,2317.5 852.0,2317.9 854.0,2318.4 856.0,2318.8 858.0,2319.3 860.0,2319.7 862.0,2320.1 864.0,2320.5 866.0,2320.9 868.0,2321.2 870.0,2321.6 872.0,2321.9 874.0,2322.2 876.0,2322.4 878.0,2322.7 880.0,2322.9 882.0,2323.1 884.0,2323.3 886.0,2323.5 888.0,2323.7 890.0,2323.8 892.0,2324.0 894.0,2324.1 896.0,2324.3 898.0,2324.4 900.0,2324.6 902.0,2324.7 904.0,2324.8 906.0,2324.9 908.0,2325.1 910.0,2325.2 912.0,2325.3 914.0,2325.4 916.0,2325.5 918.0,2325.6 920.0,2325.7 922.0,2325.8 924.0,2325.9 926.0,2326.0 928.0,2326.1 930.0,2326.2 932.0,2326.3 934.0,2326.4 936.0,2326.5 938.0,2326.6 940.0,2326.7 942.0,2326.8 944.0,2326.9 946.0,2327.1 948.0,2327.2 950.0,2327.3 952.0,2327.4 954.0,2327.6 956.0,2327.7 958.0,2327.9 960.0,2328.0 962.0,2328.2 964.0,2328.3 966.0,2328.5 968.0,2328.6 970.0,2328.8 972.0,2329.0 974.0,2329.1 976.0,2329.3 978.0,2329.5 980.0,2329.6 982.0,2329.8 984.0,2330.0 986.0,2330.2 988.0,2330.3 990.0,2330.5 992.0,2330.7 994.0,2330.9 996.0,2331.1 998.0,2331.2 1000.0,2331.4 1002.0,2331.6 1004.0,2331.8 1006.0,2332.0 1008.0,2332.2 1010.0,2332.4 1012.0,2332.6 1014.0,2332.8 1016.0,2333.0 1018.0,2333.2 1020.0,2333.4 1022.0,2333.6 1024.0,2333.8 1026.0,2334.0 1028.0,2334.2 1030.0,2334.4 1032.0,2334.6 1034.0,2334.9 1036.0,2335.1 1038.0,2335.3 1040.0,2335.5 1042.0,2335.7 1044.0,2335.9 1046.0,2336.1 1048.0,2336.4 1050.0,2336.6 1052.0,2336.8 1054.0,2337.0 1056.0,2337.2 1058.0,2337.5 1060.0,2337.7 1062.0,2337.9 1064.0,2338.1 1066.0,2338.3 1068.0,2338.6 1070.0,2338.8 1072.0,2339.0 1074.0,2339.3 1076.0,2339.5 1078.0,2339.7 1080.0,2340.0 1082.0,2340.2 1084.0,2340.5 1086.0,2340.8 1088.0,2341.0 1090.0,2341.3 1092.0,2341.5 1094.0,2341.8 1096.0,2342.1 1098.0,2342.3 1100.0,2342.6 1102.0,2342.9 1104.0,2343.1 1106.0,2343.4 1108.0,2343.7 1110.0,2343.9 1112.0,2344.2 1114.0,2344.4 1116.0,2344.7 1118.0,2344.9 1120.0,2345.2 1122.0,2345.4 1124.0,2345.7 1126.0,2345.9 1128.0,2346.2 1130.0,2346.4 1132.0,2346.6 1134.0,2346.9 1136.0,2347.1 1138.0,2347.3 1140.0,2347.6 1142.0,2347.8 1144.0,2348.0 1146.0,2348.2 1148.0,2348.5 1150.0,2348.7 1152.0,2348.9 1154.0,2349.1 1156.0,2349.3 1158.0,2349.6 1160.0,2349.8 1162.0,2350.0 1164.0,2350.2 1166.0,2350.5 1168.0,2350.7 1170.0,2350.9 1172.0,2351.2 1174.0,2351.4 1176.0,2351.6 1178.0,2351.9 1180.0,2352.1 1182.0,2352.4 1184.0,2352.6 1186.0,2352.9 1188.0,2353.2 1190.0,2353.4 1192.0,2353.7 1194.0,2354.0 1196.0,2354.2 1198.0,2354.5 1200.0,2354.8 1202.0,2355.1 1204.0,2355.4 1206.0,2355.7 1208.0,2356.0 1210.0,2356.3 1212.0,2356.6 1214.0,2356.9 1216.0,2357.3 1218.0,2357.6 1220.0,2357.9 1222.0,2358.3 1224.0,2358.6 1226.0,2359.0 1228.0,2359.3 1230.0,2359.7 1232.0,2360.0 1234.0,2360.4 1236.0,2360.8 1238.0,2361.2 1240.0,2361.5 1242.0,2361.9 1244.0,2362.3 1246.0,2362.7 1248.0,2363.1 1250.0,2363.5 1252.0,2363.9 1254.0,2364.3 1256.0,2364.7 1258.0,2365.1 1260.0,2365.5 1262.0,2365.9 1264.0,2366.4 1266.0,2366.8 1268.0,2367.3 1270.0,2367.8 1272.0,2368.4 1274.0,2368.9 1276.0,2369.4 1278.0,2369.9 1280.0,2370.5 1282.0,2371.0 1284.0,2371.5 1286.0,2372.0 1288.0,2372.5 1290.0,2373.0 1292.0,2373.5 1294.0,2373.9 1296.0,2374.4 1298.0,2374.7 1300.0,2375.1 1302.0,2375.4 1304.0,2375.8 1306.0,2376.1 1308.0,2376.4 1310.0,2376.8 1312.0,2377.1 1314.0,2377.4 1316.0,2377.7 1318.0,2378.0 1320.0,2378.3 1322.0,2378.5 1324.0,2378.8 1326.0,2379.1 1328.0,2379.3 1330.0,2379.5 1332.0,2379.7 1334.0,2379.9 1336.0,2380.1 1338.0,2380.3 1340.0,2380.4 1342.0,2380.5 1344.0,2380.7 1346.0,2380.8 1348.0,2380.9 1350.0,2381.1 1352.0,2381.2 1354.0,2381.3 1356.0,2381.4 1358.0,2381.6 1360.0,2381.7 1362.0,2381.8 1364.0,2381.9 1366.0,2382.0 1368.0,2382.1 1370.0,2382.2 1372.0,2382.3 1374.0,2382.4 1376.0,2382.5 1378.0,2382.6 1380.0,2382.7 1382.0,2382.8 1384.0,2382.9 1386.0,2383.0 1388.0,2383.1 1390.0,2383.1 1392.0,2383.2 1394.0,2383.3 1396.0,2383.3 1398.0,2383.4 1400.0,2383.4 1402.0,2383.5 1404.0,2383.5 1406.0,2383.5 1408.0,2383.6 1410.0,2383.6 1412.0,2383.6 1414.0,2383.6 1416.0,2383.6" fill="none" stroke="#e40c0c" stroke-width="5.5" stroke-linejoin="round" stroke-linecap="round" />
<polyline points="130.0,2239.4 132.0,2239.4 134.0,2239.3 136.0,2239.2 138.0,2239.2 140.0,2239.1 142.0,2239.0 144.0,2238.9 146.0,2238.9 148.0,2238.8 150.0,2238.7 152.0,2238.5 154.0,2238.4 156.0,2238.3 158.0,2238.1 160.0,2237.9 162.0,2237.6 164.0,2237.4 166.0,2237.1 168.0,2236.7 170.0,2236.3 172.0,2235.8 174.0,2235.2 176.0,2234.6 178.0,2233.8 180.0,2233.0 182.0,2232.0 184.0,2230.9 186.0,2229.7 188.0,2228.4 190.0,2226.9 192.0,2225.2 194.0,2223.4 196.0,2221.4 198.0,2219.1 200.0,2216.7 202.0,2214.1 204.0,2211.3 206.0,2208.3 208.0,2205.0 210.0,2201.6 212.0,2198.0 214.0,2194.2 216.0,2190.3 218.0,2186.2 220.0,2182.0 222.0,2177.8 224.0,2173.5 226.0,2169.2 228.0,2165.0 230.0,2160.9 232.0,2156.8 234.0,2153.0 236.0,2149.5 238.0,2146.3 240.0,2143.4 242.0,2141.0 244.0,2139.1 246.0,2137.7 248.0,2136.9 250.0,2136.7 252.0,2137.1 254.0,2138.1 256.0,2139.7 258.0,2141.9 260.0,2144.6 262.0,2147.8 264.0,2151.3 266.0,2155.2 268.0,2159.4 270.0,2163.9 272.0,2168.5 274.0,2173.2 276.0,2177.9 278.0,2182.7 280.0,2187.5 282.0,2192.2 284.0,2196.8 286.0,2201.3 288.0,2205.6 290.0,2209.8 292.0,2213.7 294.0,2217.5 296.0,2221.1 298.0,2224.5 300.0,2227.6 302.0,2230.6 304.0,2233.3 306.0,2235.9 308.0,2238.3 310.0,2240.5 312.0,2242.5 314.0,2244.4 316.0,2246.1 318.0,2247.7 320.0,2249.1 322.0,2250.5 324.0,2251.7 326.0,2252.8 328.0,2253.8 330.0,2254.7 332.0,2255.5 334.0,2256.2 336.0,2256.9 338.0,2257.5 340.0,2258.0 342.0,2258.5 344.0,2258.9 346.0,2259.2 348.0,2259.5 350.0,2259.8 352.0,2260.0 354.0,2260.2 356.0,2260.3 358.0,2260.5 360.0,2260.6 362.0,2260.8 364.0,2260.9 366.0,2261.0 368.0,2261.1 370.0,2261.2 372.0,2261.3 374.0,2261.4 376.0,2261.5 378.0,2261.6 380.0,2261.6 382.0,2261.7 384.0,2261.8 386.0,2261.9 388.0,2261.9 390.0,2262.0 392.0,2262.0 394.0,2262.1 396.0,2262.2 398.0,2262.2 400.0,2262.3 402.0,2262.3 404.0,2262.4 406.0,2262.4 408.0,2262.5 410.0,2262.5 412.0,2262.6 414.0,2262.6 416.0,2262.7 418.0,2262.7 420.0,2262.8 422.0,2262.8 424.0,2262.9 426.0,2262.9 428.0,2263.0 430.0,2263.0 432.0,2263.1 434.0,2263.1 436.0,2263.2 438.0,2263.3 440.0,2263.4 442.0,2263.5 444.0,2263.6 446.0,2263.8 448.0,2263.9 450.0,2264.1 452.0,2264.2 454.0,2264.4 456.0,2264.5 458.0,2264.7 460.0,2264.9 462.0,2265.1 464.0,2265.3 466.0,2265.5 468.0,2265.7 470.0,2265.9 472.0,2266.1 474.0,2266.3 476.0,2266.5 478.0,2266.8 480.0,2267.0 482.0,2267.2 484.0,2267.4 486.0,2267.7 488.0,2267.9 490.0,2268.1 492.0,2268.4 494.0,2268.6 496.0,2268.8 498.0,2269.1 500.0,2269.3 502.0,2269.5 504.0,2269.8 506.0,2270.0" fill="none" stroke="#0606d6" stroke-width="4.5" stroke-linejoin="round" stroke-linecap="round" />
<polyline points="392.0,2263.3 394.0,2263.3 396.0,2263.2 398.0,2263.2 400.0,2263.1 402.0,2263.0 404.0,2263.0 406.0,2262.9 408.0,2262.8 410.0,2262.7 412.0,2262.5 414.0,2262.4 416.0,2262.2 418.0,2262.1 420.0,2261.9 422.0,2261.7 424.0,2261.4 426.0,2261.2 428.0,2260.9 430.0,2260.6 432.0,2260.3 434.0,2259.9 436.0,2259.6 438.0,2259.2 440.0,2258.8 442.0,2258.4 444.0,2257.9 446.0,2257.4 448.0,2256.9 450.0,2256.4 452.0,2255.8 454.0,2255.2 456.0,2254.6 458.0,2253.9 460.0,2253.2 462.0,2252.5 464.0,2251.7 466.0,2250.9 468.0,2250.0 470.0,2249.2 472.0,2248.3 474.0,2247.4 476.0,2246.4 478.0,2245.5 480.0,2244.5 482.0,2243.5 484.0,2242.5 486.0,2241.5 488.0,2240.5 490.0,2239.5 492.0,2238.5 494.0,2237.5 496.0,2236.6 498.0,2235.6 500.0,2234.7 502.0,2233.9 504.0,2233.0 506.0,2232.3 508.0,2231.5 510.0,2230.9 512.0,2230.3 514.0,2229.7 516.0,2229.3 518.0,2228.9 520.0,2228.6 522.0,2228.3 524.0,2228.2 526.0,2228.2 528.0,2228.3 530.0,2228.4 532.0,2228.7 534.0,2229.0 536.0,2229.5 538.0,2230.1 540.0,2230.7 542.0,2231.4 544.0,2232.2 546.0,2233.1 548.0,2234.1 550.0,2235.1 552.0,2236.2 554.0,2237.3 556.0,2238.5 558.0,2239.8 560.0,2241.1 562.0,2242.4 564.0,2243.7 566.0,2245.1 568.0,2246.4 570.0,2247.8 572.0,2249.2 574.0,2250.6 576.0,2252.0 578.0,2253.4 580.0,2254.7 582.0,2256.1 584.0,2257.4 586.0,2258.7 588.0,2260.0 590.0,2261.2 592.0,2262.4 594.0,2263.6 596.0,2264.7 598.0,2265.8 600.0,2266.8 602.0,2267.8 604.0,2268.8 606.0,2269.7 608.0,2270.6 610.0,2271.4 612.0,2272.2 614.0,2272.9 616.0,2273.6 618.0,2274.3 620.0,2274.9 622.0,2275.5 624.0,2276.1 626.0,2276.6 628.0,2277.1 630.0,2277.6 632.0,2278.0 634.0,2278.4 636.0,2278.8 638.0,2279.2 640.0,2279.5 642.0,2279.9 644.0,2280.2 646.0,2280.5 648.0,2280.8 650.0,2281.0 652.0,2281.3 654.0,2281.6 656.0,2281.8 658.0,2282.0 660.0,2282.3 662.0,2282.5 664.0,2282.7 666.0,2283.0 668.0,2283.2" fill="none" stroke="#0606d6" stroke-width="4.5" stroke-linejoin="round" stroke-linecap="round" />
<polyline points="562.0,2275.6 564.0,2275.7 566.0,2275.8 568.0,2275.8 570.0,2275.8 572.0,2275.8 574.0,2275.8 576.0,2275.8 578.0,2275.7 580.0,2275.6 582.0,2275.5 584.0,2275.3 586.0,2275.1 588.0,2274.9 590.0,2274.6 592.0,2274.3 594.0,2273.9 596.0,2273.5 598.0,2273.0 600.0,2272.5 602.0,2272.0 604.0,2271.4 606.0,2270.8 608.0,2270.1 610.0,2269.3 612.0,2268.6 614.0,2267.8 616.0,2266.9 618.0,2266.0 620.0,2265.1 622.0,2264.2 624.0,2263.3 626.0,2262.3 628.0,2261.3 630.0,2260.4 632.0,2259.5 634.0,2258.5 636.0,2257.6 638.0,2256.8 640.0,2256.0 642.0,2255.2 644.0,2254.5 646.0,2253.9 648.0,2253.3 650.0,2252.9 652.0,2252.5 654.0,2252.2 656.0,2252.0 658.0,2251.9 660.0,2251.9 662.0,2252.0 664.0,2252.2 666.0,2252.6 668.0,2253.0 670.0,2253.5 672.0,2254.1 674.0,2254.8 676.0,2255.6 678.0,2256.5 680.0,2257.5 682.0,2258.5 684.0,2259.6 686.0,2260.7 688.0,2261.9 690.0,2263.1 692.0,2264.3 694.0,2265.6 696.0,2266.9 698.0,2268.2 700.0,2269.4 702.0,2270.7 704.0,2272.0 706.0,2273.2 708.0,2274.5 710.0,2275.6 712.0,2276.8 714.0,2277.9 716.0,2279.0 718.0,2280.1 720.0,2281.1 722.0,2282.0 724.0,2282.9 726.0,2283.8 728.0,2284.6 730.0,2285.4 732.0,2286.1 734.0,2286.8 736.0,2287.5 738.0,2288.1 740.0,2288.7 742.0,2289.2 744.0,2289.8 746.0,2290.3 748.0,2290.7 750.0,2291.2 752.0,2291.6 754.0,2292.1 756.0,2292.5 758.0,2292.9 760.0,2293.3 762.0,2293.6" fill="none" stroke="#e40c0c" stroke-width="4.5" stroke-linejoin="round" stroke-linecap="round" />
<polyline points="622.0,2280.0 624.0,2280.1 626.0,2280.2 628.0,2280.3 630.0,2280.4 632.0,2280.4 634.0,2280.5 636.0,2280.6 638.0,2280.6 640.0,2280.6 642.0,2280.6 644.0,2280.5 646.0,2280.4 648.0,2280.3 650.0,2280.0 652.0,2279.7 654.0,2279.3 656.0,2278.7 658.0,2278.0 660.0,2277.1 662.0,2276.0 664.0,2274.6 666.0,2272.9 668.0,2270.9 670.0,2268.6 672.0,2265.9 674.0,2262.8 676.0,2259.3 678.0,2255.4 680.0,2251.0 682.0,2246.4 684.0,2241.3 686.0,2236.0 688.0,2230.5 690.0,2224.9 692.0,2219.3 694.0,2213.8 696.0,2208.4 698.0,2203.5 700.0,2199.0 702.0,2195.1 704.0,2192.0 706.0,2189.7 708.0,2188.3 710.0,2187.9 712.0,2188.5 714.0,2190.0 716.0,2192.5 718.0,2195.9 720.0,2200.0 722.0,2204.8 724.0,2210.0 726.0,2215.7 728.0,2221.6 730.0,2227.7 732.0,2233.7 734.0,2239.7 736.0,2245.5 738.0,2251.0 740.0,2256.2 742.0,2261.1 744.0,2265.5 746.0,2269.6 748.0,2273.2 750.0,2276.5 752.0,2279.3 754.0,2281.9 756.0,2284.0 758.0,2285.9 760.0,2287.6 762.0,2289.0 764.0,2290.2 766.0,2291.2 768.0,2292.2 770.0,2293.0 772.0,2293.7 774.0,2294.3 776.0,2294.9 778.0,2295.4 780.0,2295.9 782.0,2296.5 784.0,2297.0 786.0,2297.5 788.0,2298.0 790.0,2298.6 792.0,2299.1 794.0,2299.7 796.0,2300.3 798.0,2300.9" fill="none" stroke="#0606d6" stroke-width="4.5" stroke-linejoin="round" stroke-linecap="round" />
<polyline points="708.0,2287.2 710.0,2287.1 712.0,2287.0 714.0,2286.6 716.0,2286.1 718.0,2285.4 720.0,2284.6 722.0,2283.5 724.0,2282.2 726.0,2280.8 728.0,2279.4 730.0,2278.0 732.0,2276.8 734.0,2275.8 736.0,2275.1 738.0,2274.9 740.0,2275.2 742.0,2275.9 744.0,2277.0 746.0,2278.5 748.0,2280.2 750.0,2282.0 752.0,2283.9 754.0,2285.8 756.0,2287.6 758.0,2289.1 760.0,2290.5 762.0,2291.7 764.0,2292.7 766.0,2293.6 768.0,2294.3 770.0,2294.9" fill="none" stroke="#e40c0c" stroke-width="4.5" stroke-linejoin="round" stroke-linecap="round" />
<polyline points="708.0,2287.2 710.0,2287.2 712.0,2287.2 714.0,2287.1 716.0,2286.9 718.0,2286.7 720.0,2286.3 722.0,2285.8 724.0,2285.1 726.0,2284.2 728.0,2283.1 730.0,2281.8 732.0,2280.1 734.0,2278.2 736.0,2275.8 738.0,2273.1 740.0,2269.9 742.0,2266.3 744.0,2262.2 746.0,2257.6 748.0,2252.5 750.0,2246.8 752.0,2240.7 754.0,2234.2 756.0,2227.1 758.0,2219.8 760.0,2212.1 762.0,2204.2 764.0,2196.2 766.0,2188.2 768.0,2180.3 770.0,2172.7 772.0,2165.4 774.0,2158.7 776.0,2152.5 778.0,2147.2 780.0,2142.7 782.0,2139.2 784.0,2136.7 786.0,2135.4 788.0,2135.3 790.0,2136.3 792.0,2138.5 794.0,2141.8 796.0,2146.2 798.0,2151.5 800.0,2157.7 802.0,2164.7 804.0,2172.3 806.0,2180.5 808.0,2189.0 810.0,2197.8 812.0,2206.7 814.0,2215.6 816.0,2224.5 818.0,2233.1 820.0,2241.5 822.0,2249.6 824.0,2257.2 826.0,2264.3 828.0,2270.9 830.0,2277.0 832.0,2282.6 834.0,2287.6 836.0,2292.1 838.0,2296.2 840.0,2299.7 842.0,2302.8 844.0,2305.5 846.0,2307.9 848.0,2310.0 850.0,2311.8 852.0,2313.4 854.0,2314.8 856.0,2316.0 858.0,2317.0 860.0,2318.0 862.0,2318.8 864.0,2319.5 866.0,2320.1 868.0,2320.6" fill="none" stroke="#0606d6" stroke-width="4.5" stroke-linejoin="round" stroke-linecap="round" />
<polyline points="768.0,2294.5 770.0,2294.8 772.0,2295.1 774.0,2295.4 776.0,2295.8 778.0,2296.1 780.0,2296.5 782.0,2296.8 784.0,2297.2 786.0,2297.7 788.0,2298.1 790.0,2298.6 792.0,2299.1 794.0,2299.6 796.0,2300.2 798.0,2300.7 800.0,2301.3 802.0,2301.9 804.0,2302.5 806.0,2303.0 808.0,2303.6 810.0,2304.2 812.0,2304.8 814.0,2305.4 816.0,2306.1 818.0,2306.8 820.0,2307.5 822.0,2308.2 824.0,2308.9 826.0,2309.6 828.0,2310.3 830.0,2311.0 832.0,2311.7 834.0,2312.3 836.0,2312.9 838.0,2313.5 840.0,2314.0 842.0,2314.5 844.0,2315.0 846.0,2315.4 848.0,2315.9 850.0,2316.4 852.0,2316.8 854.0,2317.2 856.0,2317.7 858.0,2318.1 860.0,2318.5 862.0,2318.9 864.0,2319.2 866.0,2319.6 868.0,2319.9 870.0,2320.2 872.0,2320.5 874.0,2320.8 876.0,2321.0 878.0,2321.2 880.0,2321.4 882.0,2321.6 884.0,2321.7 886.0,2321.9 888.0,2322.0 890.0,2322.2 892.0,2322.3 894.0,2322.4 896.0,2322.5 898.0,2322.6 900.0,2322.6 902.0,2322.7 904.0,2322.8 906.0,2322.8 908.0,2322.9 910.0,2322.9 912.0,2322.9 914.0,2323.0 916.0,2323.0 918.0,2323.0 920.0,2323.0 922.0,2322.9 924.0,2322.9 926.0,2322.9 928.0,2322.8 930.0,2322.7 932.0,2322.7 934.0,2322.6 936.0,2322.5 938.0,2322.3 940.0,2322.2 942.0,2322.1 944.0,2321.9 946.0,2321.7 948.0,2321.5 950.0,2321.3 952.0,2321.0 954.0,2320.7 956.0,2320.4 958.0,2320.1 960.0,2319.8 962.0,2319.4 964.0,2319.0 966.0,2318.5 968.0,2318.1 970.0,2317.5 972.0,2317.0 974.0,2316.4 976.0,2315.8 978.0,2315.1 980.0,2314.4 982.0,2313.6 984.0,2312.8 986.0,2312.0 988.0,2311.1 990.0,2310.2 992.0,2309.2 994.0,2308.2 996.0,2307.1 998.0,2306.0 1000.0,2304.9 1002.0,2303.7 1004.0,2302.5 1006.0,2301.2 1008.0,2300.0 1010.0,2298.7 1012.0,2297.3 1014.0,2296.0 1016.0,2294.6 1018.0,2293.2 1020.0,2291.8 1022.0,2290.4 1024.0,2289.0 1026.0,2287.6 1028.0,2286.3 1030.0,2284.9 1032.0,2283.6 1034.0,2282.3 1036.0,2281.0 1038.0,2279.8 1040.0,2278.6 1042.0,2277.5 1044.0,2276.4 1046.0,2275.4 1048.0,2274.5 1050.0,2273.7 1052.0,2273.0 1054.0,2272.4 1056.0,2271.8 1058.0,2271.4 1060.0,2271.1 1062.0,2271.0 1064.0,2270.9 1066.0,2271.0 1068.0,2271.2 1070.0,2271.5 1072.0,2272.0 1074.0,2272.6 1076.0,2273.3 1078.0,2274.1 1080.0,2275.1 1082.0,2276.1 1084.0,2277.3 1086.0,2278.5 1088.0,2279.9 1090.0,2281.3 1092.0,2282.8 1094.0,2284.4 1096.0,2286.0 1098.0,2287.7 1100.0,2289.5 1102.0,2291.2 1104.0,2293.0 1106.0,2294.9 1108.0,2296.7 1110.0,2298.6 1112.0,2300.4 1114.0,2302.3 1116.0,2304.1 1118.0,2306.0 1120.0,2307.8 1122.0,2309.6 1124.0,2311.4 1126.0,2313.1 1128.0,2314.9 1130.0,2316.5 1132.0,2318.2 1134.0,2319.8 1136.0,2321.4 1138.0,2322.9 1140.0,2324.4 1142.0,2325.8 1144.0,2327.2 1146.0,2328.6 1148.0,2329.9 1150.0,2331.1 1152.0,2332.4 1154.0,2333.5 1156.0,2334.7 1158.0,2335.7 1160.0,2336.8 1162.0,2337.8 1164.0,2338.7 1166.0,2339.7 1168.0,2340.5 1170.0,2341.4 1172.0,2342.2 1174.0,2343.0 1176.0,2343.7 1178.0,2344.5 1180.0,2345.1 1182.0,2345.8 1184.0,2346.4 1186.0,2347.1 1188.0,2347.7 1190.0,2348.2 1192.0,2348.8 1194.0,2349.3 1196.0,2349.9 1198.0,2350.4 1200.0,2350.9 1202.0,2351.4 1204.0,2351.9 1206.0,2352.3 1208.0,2352.8 1210.0,2353.3 1212.0,2353.7 1214.0,2354.2 1216.0,2354.6 1218.0,2355.0 1220.0,2355.5 1222.0,2355.9 1224.0,2356.3 1226.0,2356.8 1228.0,2357.2 1230.0,2357.6 1232.0,2358.0 1234.0,2358.5 1236.0,2358.9 1238.0,2359.3 1240.0,2359.8 1242.0,2360.2 1244.0,2360.6 1246.0,2361.0 1248.0,2361.5 1250.0,2361.9 1252.0,2362.3 1254.0,2362.8 1256.0,2363.2 1258.0,2363.7 1260.0,2364.1 1262.0,2364.6 1264.0,2365.0 1266.0,2365.5 1268.0,2366.1 1270.0,2366.6 1272.0,2367.1 1274.0,2367.7 1276.0,2368.2 1278.0,2368.8 1280.0,2369.3 1282.0,2369.9 1284.0,2370.4 1286.0,2371.0 1288.0,2371.5 1290.0,2372.0 1292.0,2372.5 1294.0,2372.9 1296.0,2373.4 1298.0,2373.8 1300.0,2374.1 1302.0,2374.5 1304.0,2374.8 1306.0,2375.2 1308.0,2375.5 1310.0,2375.9 1312.0,2376.2 1314.0,2376.5 1316.0,2376.8 1318.0,2377.1 1320.0,2377.4 1322.0,2377.7 1324.0,2378.0 1326.0,2378.3 1328.0,2378.5 1330.0,2378.7 1332.0,2379.0 1334.0,2379.2 1336.0,2379.4 1338.0,2379.5 1340.0,2379.7 1342.0,2379.8 1344.0,2380.0 1346.0,2380.1 1348.0,2380.3 1350.0,2380.4 1352.0,2380.5 1354.0,2380.7 1356.0,2380.8 1358.0,2380.9 1360.0,2381.1 1362.0,2381.2 1364.0,2381.3 1366.0,2381.4 1368.0,2381.5" fill="none" stroke="#0606d6" stroke-width="4.5" stroke-linejoin="round" stroke-linecap="round" />
<polyline points="1080.0,2339.5 1082.0,2339.6 1084.0,2339.8 1086.0,2339.9 1088.0,2340.0 1090.0,2340.1 1092.0,2340.2 1094.0,2340.3 1096.0,2340.3 1098.0,2340.3 1100.0,2340.3 1102.0,2340.2 1104.0,2340.1 1106.0,2339.9 1108.0,2339.7 1110.0,2339.5 1112.0,2339.2 1114.0,2338.8 1116.0,2338.4 1118.0,2337.9 1120.0,2337.3 1122.0,2336.7 1124.0,2336.0 1126.0,2335.2 1128.0,2334.4 1130.0,2333.4 1132.0,2332.4 1134.0,2331.3 1136.0,2330.2 1138.0,2328.9 1140.0,2327.6 1142.0,2326.3 1144.0,2324.8 1146.0,2323.3 1148.0,2321.8 1150.0,2320.2 1152.0,2318.6 1154.0,2317.0 1156.0,2315.3 1158.0,2313.7 1160.0,2312.0 1162.0,2310.4 1164.0,2308.7 1166.0,2307.2 1168.0,2305.6 1170.0,2304.2 1172.0,2302.8 1174.0,2301.5 1176.0,2300.3 1178.0,2299.3 1180.0,2298.3 1182.0,2297.5 1184.0,2296.9 1186.0,2296.3 1188.0,2296.0 1190.0,2295.8 1192.0,2295.8 1194.0,2295.9 1196.0,2296.2 1198.0,2296.7 1200.0,2297.4 1202.0,2298.2 1204.0,2299.2 1206.0,2300.3 1208.0,2301.6 1210.0,2303.0 1212.0,2304.6 1214.0,2306.3 1216.0,2308.1 1218.0,2310.0 1220.0,2312.0 1222.0,2314.0 1224.0,2316.1 1226.0,2318.3 1228.0,2320.5 1230.0,2322.7 1232.0,2325.0 1234.0,2327.2 1236.0,2329.5 1238.0,2331.7 1240.0,2333.9 1242.0,2336.1 1244.0,2338.2 1246.0,2340.3 1248.0,2342.3 1250.0,2344.3 1252.0,2346.2 1254.0,2348.0 1256.0,2349.8 1258.0,2351.4 1260.0,2353.1 1262.0,2354.6 1264.0,2356.1 1266.0,2357.6 1268.0,2359.0 1270.0,2360.4 1272.0,2361.6 1274.0,2362.9 1276.0,2364.1 1278.0,2365.2 1280.0,2366.3 1282.0,2367.3 1284.0,2368.3 1286.0,2369.2 1288.0,2370.0 1290.0,2370.8 1292.0,2371.6 1294.0,2372.3 1296.0,2372.9 1298.0,2373.5 1300.0,2374.0 1302.0,2374.5 1304.0,2375.0 1306.0,2375.4 1308.0,2375.9" fill="none" stroke="#e40c0c" stroke-width="4.5" stroke-linejoin="round" stroke-linecap="round" />
<polyline points="1174.0,2351.0 1176.0,2351.0 1178.0,2351.1 1180.0,2351.1 1182.0,2351.0 1184.0,2350.9 1186.0,2350.6 1188.0,2350.3 1190.0,2349.8 1192.0,2349.1 1194.0,2348.2 1196.0,2347.1 1198.0,2345.8 1200.0,2344.2 1202.0,2342.2 1204.0,2339.9 1206.0,2337.3 1208.0,2334.2 1210.0,2330.6 1212.0,2326.7 1214.0,2322.2 1216.0,2317.4 1218.0,2312.0 1220.0,2306.3 1222.0,2300.2 1224.0,2293.8 1226.0,2287.1 1228.0,2280.3 1230.0,2273.3 1232.0,2266.4 1234.0,2259.7 1236.0,2253.2 1238.0,2247.0 1240.0,2241.4 1242.0,2236.4 1244.0,2232.1 1246.0,2228.6 1248.0,2226.0 1250.0,2224.4 1252.0,2223.8 1254.0,2224.3 1256.0,2225.7 1258.0,2228.2 1260.0,2231.6 1262.0,2236.0 1264.0,2241.2 1266.0,2247.1 1268.0,2253.6 1270.0,2260.7 1272.0,2268.1 1274.0,2275.7 1276.0,2283.5 1278.0,2291.4 1280.0,2299.1 1282.0,2306.6 1284.0,2313.9 1286.0,2320.8 1288.0,2327.4 1290.0,2333.5 1292.0,2339.1 1294.0,2344.3 1296.0,2348.9 1298.0,2353.1 1300.0,2356.9 1302.0,2360.2 1304.0,2363.1 1306.0,2365.6 1308.0,2367.8 1310.0,2369.8 1312.0,2371.4 1314.0,2372.9 1316.0,2374.1 1318.0,2375.1 1320.0,2376.0 1322.0,2376.8 1324.0,2377.5 1326.0,2378.0 1328.0,2378.5 1330.0,2378.9" fill="none" stroke="#0606d6" stroke-width="4.5" stroke-linejoin="round" stroke-linecap="round" />
<polyline points="1226.0,2358.4 1228.0,2358.7 1230.0,2358.9 1232.0,2359.2 1234.0,2359.5 1236.0,2359.7 1238.0,2360.0 1240.0,2360.2 1242.0,2360.4 1244.0,2360.6 1246.0,2360.8 1248.0,2360.9 1250.0,2361.1 1252.0,2361.2 1254.0,2361.3 1256.0,2361.4 1258.0,2361.4 1260.0,2361.5 1262.0,2361.6 1264.0,2361.6 1266.0,2361.7 1268.0,2361.8 1270.0,2361.9 1272.0,2362.1 1274.0,2362.2 1276.0,2362.4 1278.0,2362.6 1280.0,2362.9 1282.0,2363.2 1284.0,2363.5 1286.0,2363.9 1288.0,2364.3 1290.0,2364.7 1292.0,2365.2 1294.0,2365.8 1296.0,2366.3 1298.0,2366.9 1300.0,2367.5 1302.0,2368.1 1304.0,2368.8 1306.0,2369.5 1308.0,2370.2 1310.0,2370.9 1312.0,2371.6 1314.0,2372.3 1316.0,2372.9 1318.0,2373.6 1320.0,2374.3 1322.0,2374.9 1324.0,2375.5 1326.0,2376.1 1328.0,2376.6 1330.0,2377.1 1332.0,2377.6 1334.0,2378.0 1336.0,2378.4 1338.0,2378.7 1340.0,2379.0 1342.0,2379.3 1344.0,2379.6 1346.0,2379.9 1348.0,2380.1 1350.0,2380.3 1352.0,2380.5 1354.0,2380.7" fill="none" stroke="#e40c0c" stroke-width="4.5" stroke-linejoin="round" stroke-linecap="round" />
<polyline points="130.0,2239.3 132.0,2239.3 134.0,2239.2 136.0,2239.1 138.0,2239.0 140.0,2239.0 142.0,2238.9 144.0,2238.8 146.0,2238.7 148.0,2238.6 150.0,2238.5 152.0,2238.4 154.0,2238.3 156.0,2238.1 158.0,2238.0 160.0,2237.7 162.0,2237.5 164.0,2237.2 166.0,2236.9 168.0,2236.6 170.0,2236.1 172.0,2235.6 174.0,2235.1 176.0,2234.4 178.0,2233.7 180.0,2232.8 182.0,2231.9 184.0,2230.8 186.0,2229.6 188.0,2228.2 190.0,2226.7 192.0,2225.1 194.0,2223.2 196.0,2221.2 198.0,2219.0 200.0,2216.6 202.0,2214.0 204.0,2211.1 206.0,2208.1 208.0,2204.9 210.0,2201.4 212.0,2197.8 214.0,2194.1 216.0,2190.1 218.0,2186.1 220.0,2181.9 222.0,2177.6 224.0,2173.4 226.0,2169.1 228.0,2164.8 230.0,2160.7 232.0,2156.7 234.0,2152.9 236.0,2149.3 238.0,2146.1 240.0,2143.2 242.0,2140.8 244.0,2138.9 246.0,2137.5 248.0,2136.7 250.0,2136.5 252.0,2136.9 254.0,2137.9 256.0,2139.6 258.0,2141.7 260.0,2144.4 262.0,2147.6 264.0,2151.1 266.0,2155.0 268.0,2159.2 270.0,2163.7 272.0,2168.3 274.0,2173.0 276.0,2177.7 278.0,2182.5 280.0,2187.3 282.0,2192.0 284.0,2196.6 286.0,2201.0 288.0,2205.4 290.0,2209.5 292.0,2213.5 294.0,2217.3 296.0,2220.9 298.0,2224.2 300.0,2227.4 302.0,2230.3 304.0,2233.1 306.0,2235.6 308.0,2238.0 310.0,2240.2 312.0,2242.3 314.0,2244.1 316.0,2245.9 318.0,2247.4 320.0,2248.9 322.0,2250.2 324.0,2251.4 326.0,2252.5 328.0,2253.5 330.0,2254.4 332.0,2255.2 334.0,2255.9 336.0,2256.6 338.0,2257.2 340.0,2257.7 342.0,2258.2 344.0,2258.6 346.0,2258.9 348.0,2259.2 350.0,2259.4 352.0,2259.6 354.0,2259.8 356.0,2260.0 358.0,2260.1 360.0,2260.3 362.0,2260.4 364.0,2260.5 366.0,2260.6 368.0,2260.7 370.0,2260.8 372.0,2260.9 374.0,2260.9 376.0,2261.0 378.0,2261.1 380.0,2261.1 382.0,2261.2 384.0,2261.2 386.0,2261.2 388.0,2261.3 390.0,2261.3 392.0,2261.3 394.0,2261.3 396.0,2261.3 398.0,2261.3 400.0,2261.2 402.0,2261.2 404.0,2261.2 406.0,2261.1 408.0,2261.1 410.0,2261.0 412.0,2260.9 414.0,2260.8 416.0,2260.6 418.0,2260.5 420.0,2260.3 422.0,2260.2 424.0,2260.0 426.0,2259.7 428.0,2259.5 430.0,2259.2 432.0,2258.9 434.0,2258.6 436.0,2258.3 438.0,2257.9 440.0,2257.5 442.0,2257.1 444.0,2256.7 446.0,2256.2 448.0,2255.7 450.0,2255.2 452.0,2254.6 454.0,2254.1 456.0,2253.4 458.0,2252.8 460.0,2252.1 462.0,2251.4 464.0,2250.6 466.0,2249.8 468.0,2249.0 470.0,2248.1 472.0,2247.3 474.0,2246.4 476.0,2245.4 478.0,2244.5 480.0,2243.5 482.0,2242.5 484.0,2241.5 486.0,2240.5 488.0,2239.5 490.0,2238.6 492.0,2237.6 494.0,2236.6 496.0,2235.6 498.0,2234.7 500.0,2233.8 502.0,2233.0 504.0,2232.1 506.0,2231.4 508.0,2230.7 510.0,2230.0 512.0,2229.4 514.0,2228.9 516.0,2228.4 518.0,2228.0 520.0,2227.7 522.0,2227.5 524.0,2227.4 526.0,2227.3 528.0,2227.4 530.0,2227.5 532.0,2227.8 534.0,2228.2 536.0,2228.6 538.0,2229.2 540.0,2229.8 542.0,2230.5 544.0,2231.3 546.0,2232.1 548.0,2233.1 550.0,2234.1 552.0,2235.1 554.0,2236.2 556.0,2237.4 558.0,2238.5 560.0,2239.7 562.0,2241.0 564.0,2242.2 566.0,2243.4 568.0,2244.7 570.0,2245.9 572.0,2247.2 574.0,2248.4 576.0,2249.5 578.0,2250.7 580.0,2251.8 582.0,2252.8 584.0,2253.8 586.0,2254.7 588.0,2255.6 590.0,2256.4 592.0,2257.1 594.0,2257.8 596.0,2258.3 598.0,2258.8 600.0,2259.2 602.0,2259.5 604.0,2259.7 606.0,2259.8 608.0,2259.9 610.0,2259.8 612.0,2259.7 614.0,2259.5 616.0,2259.2 618.0,2258.9 620.0,2258.4 622.0,2258.0 624.0,2257.4 626.0,2256.8 628.0,2256.2 630.0,2255.6 632.0,2254.9 634.0,2254.2 636.0,2253.5 638.0,2252.8 640.0,2252.1 642.0,2251.4 644.0,2250.7 646.0,2250.1 648.0,2249.4 650.0,2248.7 652.0,2247.9 654.0,2247.2 656.0,2246.4 658.0,2245.5 660.0,2244.5 662.0,2243.4 664.0,2242.2 666.0,2240.7 668.0,2239.0 670.0,2237.1 672.0,2234.8 674.0,2232.3 676.0,2229.4 678.0,2226.2 680.0,2222.7 682.0,2218.8 684.0,2214.7 686.0,2210.4 688.0,2205.9 690.0,2201.3 692.0,2196.7 694.0,2192.2 696.0,2187.9 698.0,2184.0 700.0,2180.5 702.0,2177.6 704.0,2175.3 706.0,2173.8 708.0,2173.1 710.0,2173.2 712.0,2174.0 714.0,2175.6 716.0,2177.9 718.0,2180.7 720.0,2183.8 722.0,2187.3 724.0,2190.8 726.0,2194.4 728.0,2197.9 730.0,2201.3 732.0,2204.6 734.0,2207.6 736.0,2210.4 738.0,2212.9 740.0,2215.1 742.0,2216.8 744.0,2218.1 746.0,2218.8 748.0,2218.8 750.0,2218.0 752.0,2216.3 754.0,2213.8 756.0,2210.3 758.0,2206.0 760.0,2200.9 762.0,2195.1 764.0,2188.9 766.0,2182.2 768.0,2175.4 770.0,2168.6 772.0,2161.9 774.0,2155.6 776.0,2149.9 778.0,2144.8 780.0,2140.5 782.0,2137.1 784.0,2134.8 786.0,2133.6 788.0,2133.5 790.0,2134.6 792.0,2136.8 794.0,2140.2 796.0,2144.6 798.0,2149.9 800.0,2156.2 802.0,2163.2 804.0,2170.8 806.0,2179.0 808.0,2187.5 810.0,2196.3 812.0,2205.2 814.0,2214.2 816.0,2223.0 818.0,2231.7 820.0,2240.1 822.0,2248.1 824.0,2255.7 826.0,2262.8 828.0,2269.5 830.0,2275.6 832.0,2281.1 834.0,2286.2 836.0,2290.7 838.0,2294.7 840.0,2298.2 842.0,2301.3 844.0,2304.0 846.0,2306.4 848.0,2308.5 850.0,2310.3 852.0,2311.9 854.0,2313.2 856.0,2314.4 858.0,2315.5 860.0,2316.4 862.0,2317.2 864.0,2317.8 866.0,2318.4 868.0,2319.0 870.0,2319.4 872.0,2319.8 874.0,2320.2 876.0,2320.5 878.0,2320.8 880.0,2321.0 882.0,2321.2 884.0,2321.4 886.0,2321.5 888.0,2321.7 890.0,2321.8 892.0,2322.0 894.0,2322.1 896.0,2322.2 898.0,2322.3 900.0,2322.4 902.0,2322.4 904.0,2322.5 906.0,2322.6 908.0,2322.6 910.0,2322.6 912.0,2322.7 914.0,2322.7 916.0,2322.7 918.0,2322.7 920.0,2322.7 922.0,2322.7 924.0,2322.7 926.0,2322.6 928.0,2322.6 930.0,2322.5 932.0,2322.4 934.0,2322.3 936.0,2322.2 938.0,2322.1 940.0,2322.0 942.0,2321.8 944.0,2321.7 946.0,2321.5 948.0,2321.3 950.0,2321.0 952.0,2320.8 954.0,2320.5 956.0,2320.2 958.0,2319.9 960.0,2319.6 962.0,2319.2 964.0,2318.8 966.0,2318.3 968.0,2317.9 970.0,2317.3 972.0,2316.8 974.0,2316.2 976.0,2315.6 978.0,2314.9 980.0,2314.2 982.0,2313.4 984.0,2312.6 986.0,2311.8 988.0,2310.9 990.0,2310.0 992.0,2309.0 994.0,2308.0 996.0,2306.9 998.0,2305.8 1000.0,2304.7 1002.0,2303.5 1004.0,2302.3 1006.0,2301.1 1008.0,2299.8 1010.0,2298.5 1012.0,2297.2 1014.0,2295.8 1016.0,2294.4 1018.0,2293.1 1020.0,2291.7 1022.0,2290.3 1024.0,2288.9 1026.0,2287.5 1028.0,2286.1 1030.0,2284.7 1032.0,2283.4 1034.0,2282.1 1036.0,2280.8 1038.0,2279.6 1040.0,2278.4 1042.0,2277.3 1044.0,2276.2 1046.0,2275.2 1048.0,2274.3 1050.0,2273.5 1052.0,2272.8 1054.0,2272.2 1056.0,2271.6 1058.0,2271.2 1060.0,2270.9 1062.0,2270.7 1064.0,2270.6 1066.0,2270.7 1068.0,2270.9 1070.0,2271.2 1072.0,2271.6 1074.0,2272.1 1076.0,2272.8 1078.0,2273.5 1080.0,2274.4 1082.0,2275.3 1084.0,2276.4 1086.0,2277.5 1088.0,2278.7 1090.0,2280.0 1092.0,2281.3 1094.0,2282.7 1096.0,2284.1 1098.0,2285.5 1100.0,2287.0 1102.0,2288.4 1104.0,2289.8 1106.0,2291.2 1108.0,2292.6 1110.0,2294.0 1112.0,2295.3 1114.0,2296.5 1116.0,2297.7 1118.0,2298.8 1120.0,2299.8 1122.0,2300.7 1124.0,2301.5 1126.0,2302.3 1128.0,2302.9 1130.0,2303.4 1132.0,2303.8 1134.0,2304.1 1136.0,2304.3 1138.0,2304.3 1140.0,2304.3 1142.0,2304.1 1144.0,2303.9 1146.0,2303.5 1148.0,2303.1 1150.0,2302.5 1152.0,2301.9 1154.0,2301.2 1156.0,2300.4 1158.0,2299.6 1160.0,2298.7 1162.0,2297.8 1164.0,2296.9 1166.0,2296.0 1168.0,2295.1 1170.0,2294.2 1172.0,2293.3 1174.0,2292.4 1176.0,2291.6 1178.0,2290.8 1180.0,2290.1 1182.0,2289.3 1184.0,2288.7 1186.0,2288.0 1188.0,2287.4 1190.0,2286.7 1192.0,2286.0 1194.0,2285.3 1196.0,2284.5 1198.0,2283.6 1200.0,2282.5 1202.0,2281.3 1204.0,2279.9 1206.0,2278.2 1208.0,2276.2 1210.0,2273.9 1212.0,2271.3 1214.0,2268.4 1216.0,2265.0 1218.0,2261.4 1220.0,2257.3 1222.0,2253.0 1224.0,2248.4 1226.0,2243.6 1228.0,2238.6 1230.0,2233.5 1232.0,2228.5 1234.0,2223.5 1236.0,2218.8 1238.0,2214.5 1240.0,2210.6 1242.0,2207.2 1244.0,2204.5 1246.0,2202.6 1248.0,2201.4 1250.0,2201.2 1252.0,2201.8 1254.0,2203.4 1256.0,2206.0 1258.0,2209.4 1260.0,2213.7 1262.0,2218.9 1264.0,2224.8 1266.0,2231.3 1268.0,2238.4 1270.0,2245.9 1272.0,2253.8 1274.0,2261.8 1276.0,2270.0 1278.0,2278.1 1280.0,2286.1 1282.0,2293.9 1284.0,2301.4 1286.0,2308.6 1288.0,2315.5 1290.0,2321.9 1292.0,2327.8 1294.0,2333.4 1296.0,2338.4 1298.0,2343.0 1300.0,2347.2 1302.0,2350.9 1304.0,2354.3 1306.0,2357.3 1308.0,2360.0 1310.0,2362.4 1312.0,2364.6 1314.0,2366.5 1316.0,2368.1 1318.0,2369.6 1320.0,2370.9 1322.0,2372.1 1324.0,2373.1 1326.0,2374.1 1328.0,2374.9 1330.0,2375.6 1332.0,2376.2 1334.0,2376.8 1336.0,2377.3 1338.0,2377.7 1340.0,2378.1 1342.0,2378.5 1344.0,2378.8 1346.0,2379.1 1348.0,2379.3 1350.0,2379.6 1352.0,2379.8 1354.0,2380.0 1356.0,2380.2 1358.0,2380.4 1360.0,2380.6 1362.0,2380.7 1364.0,2380.9 1366.0,2381.0 1368.0,2381.2 1370.0,2381.3 1372.0,2381.4 1374.0,2381.6 1376.0,2381.7 1378.0,2381.8 1380.0,2381.9 1382.0,2382.0 1384.0,2382.1 1386.0,2382.2 1388.0,2382.3 1390.0,2382.4 1392.0,2382.5 1394.0,2382.5 1396.0,2382.6 1398.0,2382.7 1400.0,2382.7 1402.0,2382.8 1404.0,2382.8 1406.0,2382.9 1408.0,2382.9 1410.0,2382.9 1412.0,2383.0 1414.0,2383.0 1416.0,2383.0" fill="none" stroke="#0606d6" stroke-width="7" stroke-linejoin="round" stroke-linecap="round" />
</g>
<line x1="256.0" y1="196.0" x2="252.0" y2="2251.5" stroke="#000" stroke-width="11" stroke-linecap="round" stroke-dasharray="12.5 27.7" stroke-dashoffset="7.0"/>
<line x1="528.4" y1="313.6" x2="518.7" y2="2285.8" stroke="#000" stroke-width="10.5" stroke-linecap="round" stroke-dasharray="13.0 27.2" stroke-dashoffset="8.7"/>
<line x1="655.8" y1="304.3" x2="646.8" y2="2279.0" stroke="#000" stroke-width="8" stroke-linecap="round" stroke-dasharray="15.5 24.7" stroke-dashoffset="6.4"/>
<line x1="715.0" y1="265.0" x2="708.7" y2="2283.5" stroke="#000" stroke-width="11" stroke-linecap="round" stroke-dasharray="12.5 27.7" stroke-dashoffset="39.2"/>
<line x1="755.9" y1="386.5" x2="765.2" y2="2326.5" stroke="#000" stroke-width="11" stroke-linecap="round" stroke-dasharray="12.5 27.7" stroke-dashoffset="0.0"/>
<line x1="791.1" y1="215.2" x2="799.7" y2="2307.2" stroke="#000" stroke-width="9.5" stroke-linecap="round" stroke-dasharray="14.0 26.2" stroke-dashoffset="7.6"/>
<line x1="1069.6" y1="327.5" x2="1067.5" y2="2339.5" stroke="#000" stroke-width="11" stroke-linecap="round" stroke-dasharray="12.5 27.7" stroke-dashoffset="6.5"/>
<line x1="1194.6" y1="339.5" x2="1191.8" y2="2355.0" stroke="#000" stroke-width="8" stroke-linecap="round" stroke-dasharray="15.5 24.7" stroke-dashoffset="6.4"/>
<line x1="1256.0" y1="263.4" x2="1250.4" y2="2365.8" stroke="#000" stroke-width="8.3" stroke-linecap="round" stroke-dasharray="15.2 25.0" stroke-dashoffset="0.7"/>
<line x1="1322.0" y1="409.1" x2="1313.3" y2="2388.7" stroke="#000" stroke-width="10.7" stroke-linecap="round" stroke-dasharray="12.8 27.4" stroke-dashoffset="0.0"/>
<g fill="#000">
<rect x="120" y="19" width="1303" height="10"/>
<rect x="120" y="2446" width="1303" height="11"/>
<rect x="120" y="19" width="10" height="2438"/>
<rect x="1415" y="19" width="8" height="2438"/>
<rect x="120" y="504" width="1303" height="11"/>
<rect x="120" y="990" width="1303" height="11"/>
<rect x="120" y="1475" width="1303" height="11"/>
<rect x="120" y="1961" width="1303" height="11"/>
<rect x="149.5" y="2456" width="8" height="17.5"/>
<rect x="295.0" y="2456" width="8" height="17.5"/>
<rect x="440.5" y="2456" width="8" height="17.5"/>
<rect x="586.0" y="2456" width="8" height="17.5"/>
<rect x="731.5" y="2456" width="8" height="17.5"/>
<rect x="877.0" y="2456" width="8" height="17.5"/>
<rect x="1022.5" y="2456" width="8" height="17.5"/>
<rect x="1168.0" y="2456" width="8" height="17.5"/>
<rect x="1313.5" y="2456" width="8" height="17.5"/>
<rect x="222.8" y="2456" width="7" height="9.5"/>
<rect x="368.2" y="2456" width="7" height="9.5"/>
<rect x="513.8" y="2456" width="7" height="9.5"/>
<rect x="659.2" y="2456" width="7" height="9.5"/>
<rect x="804.8" y="2456" width="7" height="9.5"/>
<rect x="950.2" y="2456" width="7" height="9.5"/>
<rect x="1095.8" y="2456" width="7" height="9.5"/>
<rect x="1241.2" y="2456" width="7" height="9.5"/>
<rect x="1386.8" y="2456" width="7" height="9.5"/>
</g>
<text x="153.5" y="2526" text-anchor="middle" font-family="Liberation Sans" font-weight="bold" font-size="55">920</text>
<text x="299.0" y="2526" text-anchor="middle" font-family="Liberation Sans" font-weight="bold" font-size="55">915</text>
<text x="444.5" y="2526" text-anchor="middle" font-family="Liberation Sans" font-weight="bold" font-size="55">910</text>
<text x="590.0" y="2526" text-anchor="middle" font-family="Liberation Sans" font-weight="bold" font-size="55">905</text>
<text x="735.5" y="2526" text-anchor="middle" font-family="Liberation Sans" font-weight="bold" font-size="55">900</text>
<text x="881.0" y="2526" text-anchor="middle" font-family="Liberation Sans" font-weight="bold" font-size="55">895</text>
<text x="1026.5" y="2526" text-anchor="middle" font-family="Liberation Sans" font-weight="bold" font-size="55">890</text>
<text x="1172.0" y="2526" text-anchor="middle" font-family="Liberation Sans" font-weight="bold" font-size="55">885</text>
<text x="1317.5" y="2526" text-anchor="middle" font-family="Liberation Sans" font-weight="bold" font-size="55">880</text>
<text x="422.5" y="2607" font-family="Liberation Serif" font-weight="bold" font-size="81">Binding energy (eV)</text>
<text transform="translate(85,1488) rotate(-90)" x="0" y="0" font-family="Liberation Serif" font-weight="bold" font-size="80">Intensity (a.u.)</text>
<text x="141" y="87" font-family="Liberation Serif" font-weight="bold" font-size="80">a</text>
<text x="135.3" y="577.7" font-family="Liberation Serif" font-weight="bold" font-size="80">b</text>
<text x="136.5" y="1076.5" font-family="Liberation Serif" font-weight="bold" font-size="80">c</text>
<text x="139" y="1554.5" font-family="Liberation Serif" font-weight="bold" font-size="80">d</text>
<text x="145" y="2050.5" font-family="Liberation Serif" font-weight="bold" font-size="80">e</text>
<text x="0" y="0" transform="translate(146,2156.5) scale(0.98,1)" font-family="Liberation Serif" font-weight="bold" font-size="64">U```</text>
<text x="0" y="0" transform="translate(419.5,2218.8) scale(0.94,1)" font-family="Liberation Serif" font-weight="bold" font-size="64">U``</text>
<text x="0" y="0" transform="translate(580.5,2230) scale(0.92,1)" font-family="Liberation Serif" font-weight="bold" font-size="64">U`</text>
<text x="0" y="0" transform="translate(709.5,2167.5) scale(1.0,1)" font-family="Liberation Serif" font-weight="bold" font-size="64">U</text>
<text x="0" y="0" transform="translate(743,2388.5) scale(0.82,1)" font-family="Liberation Serif" font-weight="bold" font-size="64">U</text>
<text x="0" y="0" transform="translate(784,2410.5) scale(0.9,1)" font-family="Liberation Serif" font-weight="bold" font-size="36">0</text>
<text x="0" y="0" transform="translate(809.5,2152) scale(0.89,1)" font-family="Liberation Serif" font-weight="bold" font-size="64">V```</text>
<text x="0" y="0" transform="translate(979,2255.3) scale(0.94,1)" font-family="Liberation Serif" font-weight="bold" font-size="64">V``</text>
<text x="0" y="0" transform="translate(1126,2273.7) scale(0.9,1)" font-family="Liberation Serif" font-weight="bold" font-size="64">V`</text>
<text x="0" y="0" transform="translate(1210.5,2210.2) scale(0.92,1)" font-family="Liberation Serif" font-weight="bold" font-size="64">V</text>
<text x="0" y="0" transform="translate(1319,2350.5) scale(0.92,1)" font-family="Liberation Serif" font-weight="bold" font-size="64">V</text>
<text x="0" y="0" transform="translate(1363,2372.4) scale(1.0,1)" font-family="Liberation Serif" font-weight="bold" font-size="36">0</text>
</svg></body></html>
